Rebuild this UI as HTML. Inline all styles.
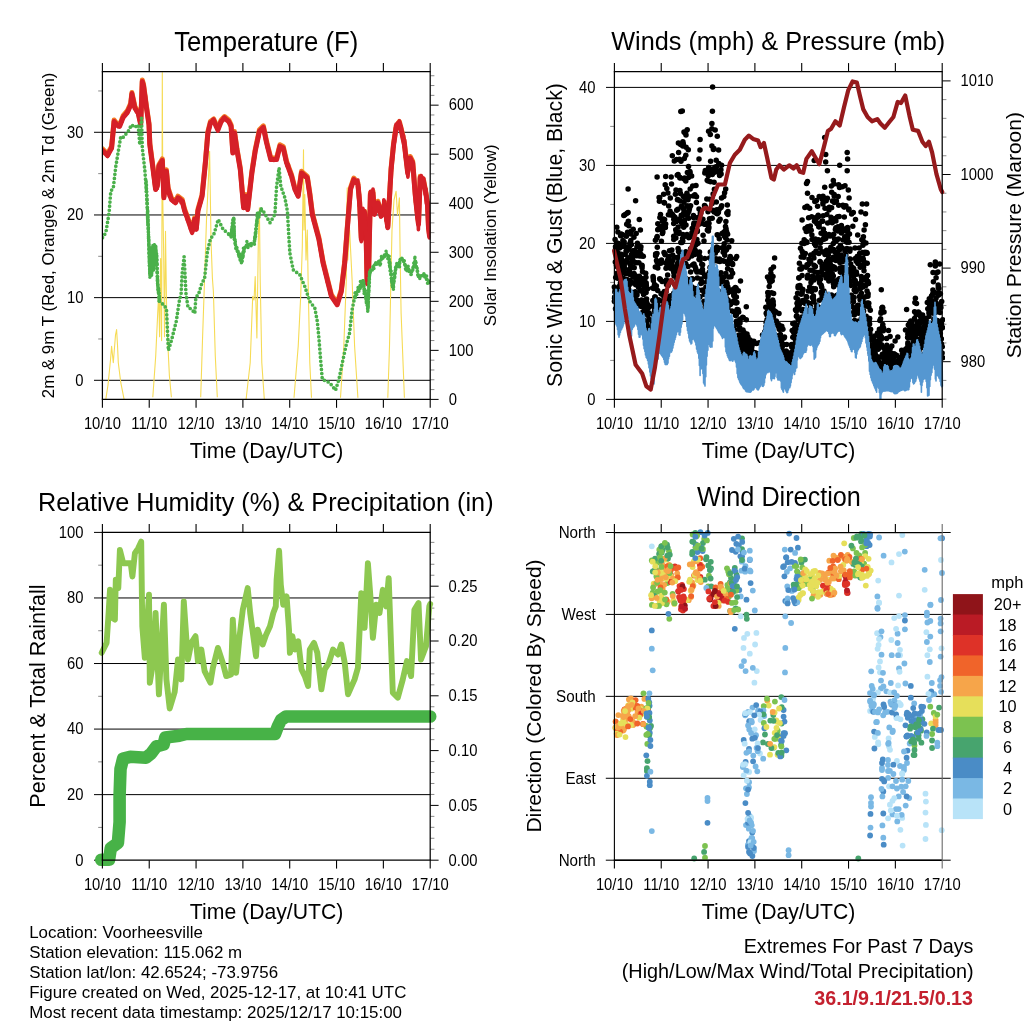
<!DOCTYPE html>
<html><head><meta charset="utf-8"><title>Weather Station</title><style>html,body{margin:0;padding:0;background:#fff;width:1024px;height:1024px;overflow:hidden}svg{display:block}</style></head><body>
<svg width="1024" height="1024" viewBox="0 0 1024 1024" font-family='"Liberation Sans", Arial, sans-serif'>
<rect width="1024" height="1024" fill="#fff"/>
<line x1="94.00" y1="380.30" x2="430.20" y2="380.30" stroke="#000" stroke-width="1.0"/>
<text transform="translate(83.40 385.60) scale(1 1.06)" font-size="14.8" text-anchor="end">0</text>
<line x1="94.00" y1="297.63" x2="430.20" y2="297.63" stroke="#000" stroke-width="1.0"/>
<text transform="translate(83.40 302.93) scale(1 1.06)" font-size="14.8" text-anchor="end">10</text>
<line x1="94.00" y1="214.96" x2="430.20" y2="214.96" stroke="#000" stroke-width="1.0"/>
<text transform="translate(83.40 220.26) scale(1 1.06)" font-size="14.8" text-anchor="end">20</text>
<line x1="94.00" y1="132.29" x2="430.20" y2="132.29" stroke="#000" stroke-width="1.0"/>
<text transform="translate(83.40 137.59) scale(1 1.06)" font-size="14.8" text-anchor="end">30</text>
<line x1="98.20" y1="338.97" x2="102.40" y2="338.97" stroke="#8a8a8a" stroke-width="1.0"/>
<line x1="98.20" y1="256.30" x2="102.40" y2="256.30" stroke="#8a8a8a" stroke-width="1.0"/>
<line x1="98.20" y1="173.63" x2="102.40" y2="173.63" stroke="#8a8a8a" stroke-width="1.0"/>
<line x1="98.20" y1="90.96" x2="102.40" y2="90.96" stroke="#8a8a8a" stroke-width="1.0"/>
<line x1="430.20" y1="399.40" x2="438.60" y2="399.40" stroke="#000" stroke-width="1.0"/>
<text transform="translate(448.80 404.70) scale(1 1.06)" font-size="14.8" text-anchor="start">0</text>
<line x1="430.20" y1="389.59" x2="434.40" y2="389.59" stroke="#8a8a8a" stroke-width="1.0"/>
<line x1="430.20" y1="379.78" x2="434.40" y2="379.78" stroke="#8a8a8a" stroke-width="1.0"/>
<line x1="430.20" y1="369.98" x2="434.40" y2="369.98" stroke="#8a8a8a" stroke-width="1.0"/>
<line x1="430.20" y1="360.17" x2="434.40" y2="360.17" stroke="#8a8a8a" stroke-width="1.0"/>
<line x1="430.20" y1="350.36" x2="438.60" y2="350.36" stroke="#000" stroke-width="1.0"/>
<text transform="translate(448.80 355.66) scale(1 1.06)" font-size="14.8" text-anchor="start">100</text>
<line x1="430.20" y1="340.55" x2="434.40" y2="340.55" stroke="#8a8a8a" stroke-width="1.0"/>
<line x1="430.20" y1="330.74" x2="434.40" y2="330.74" stroke="#8a8a8a" stroke-width="1.0"/>
<line x1="430.20" y1="320.94" x2="434.40" y2="320.94" stroke="#8a8a8a" stroke-width="1.0"/>
<line x1="430.20" y1="311.13" x2="434.40" y2="311.13" stroke="#8a8a8a" stroke-width="1.0"/>
<line x1="430.20" y1="301.32" x2="438.60" y2="301.32" stroke="#000" stroke-width="1.0"/>
<text transform="translate(448.80 306.62) scale(1 1.06)" font-size="14.8" text-anchor="start">200</text>
<line x1="430.20" y1="291.51" x2="434.40" y2="291.51" stroke="#8a8a8a" stroke-width="1.0"/>
<line x1="430.20" y1="281.70" x2="434.40" y2="281.70" stroke="#8a8a8a" stroke-width="1.0"/>
<line x1="430.20" y1="271.90" x2="434.40" y2="271.90" stroke="#8a8a8a" stroke-width="1.0"/>
<line x1="430.20" y1="262.09" x2="434.40" y2="262.09" stroke="#8a8a8a" stroke-width="1.0"/>
<line x1="430.20" y1="252.28" x2="438.60" y2="252.28" stroke="#000" stroke-width="1.0"/>
<text transform="translate(448.80 257.58) scale(1 1.06)" font-size="14.8" text-anchor="start">300</text>
<line x1="430.20" y1="242.47" x2="434.40" y2="242.47" stroke="#8a8a8a" stroke-width="1.0"/>
<line x1="430.20" y1="232.66" x2="434.40" y2="232.66" stroke="#8a8a8a" stroke-width="1.0"/>
<line x1="430.20" y1="222.86" x2="434.40" y2="222.86" stroke="#8a8a8a" stroke-width="1.0"/>
<line x1="430.20" y1="213.05" x2="434.40" y2="213.05" stroke="#8a8a8a" stroke-width="1.0"/>
<line x1="430.20" y1="203.24" x2="438.60" y2="203.24" stroke="#000" stroke-width="1.0"/>
<text transform="translate(448.80 208.54) scale(1 1.06)" font-size="14.8" text-anchor="start">400</text>
<line x1="430.20" y1="193.43" x2="434.40" y2="193.43" stroke="#8a8a8a" stroke-width="1.0"/>
<line x1="430.20" y1="183.62" x2="434.40" y2="183.62" stroke="#8a8a8a" stroke-width="1.0"/>
<line x1="430.20" y1="173.82" x2="434.40" y2="173.82" stroke="#8a8a8a" stroke-width="1.0"/>
<line x1="430.20" y1="164.01" x2="434.40" y2="164.01" stroke="#8a8a8a" stroke-width="1.0"/>
<line x1="430.20" y1="154.20" x2="438.60" y2="154.20" stroke="#000" stroke-width="1.0"/>
<text transform="translate(448.80 159.50) scale(1 1.06)" font-size="14.8" text-anchor="start">500</text>
<line x1="430.20" y1="144.39" x2="434.40" y2="144.39" stroke="#8a8a8a" stroke-width="1.0"/>
<line x1="430.20" y1="134.58" x2="434.40" y2="134.58" stroke="#8a8a8a" stroke-width="1.0"/>
<line x1="430.20" y1="124.78" x2="434.40" y2="124.78" stroke="#8a8a8a" stroke-width="1.0"/>
<line x1="430.20" y1="114.97" x2="434.40" y2="114.97" stroke="#8a8a8a" stroke-width="1.0"/>
<line x1="430.20" y1="105.16" x2="438.60" y2="105.16" stroke="#000" stroke-width="1.0"/>
<text transform="translate(448.80 110.46) scale(1 1.06)" font-size="14.8" text-anchor="start">600</text>
<line x1="430.20" y1="95.35" x2="434.40" y2="95.35" stroke="#8a8a8a" stroke-width="1.0"/>
<line x1="430.20" y1="85.54" x2="434.40" y2="85.54" stroke="#8a8a8a" stroke-width="1.0"/>
<line x1="430.20" y1="75.74" x2="434.40" y2="75.74" stroke="#8a8a8a" stroke-width="1.0"/>
<text transform="translate(54.00 235.40) rotate(-90)" font-size="16.9" text-anchor="middle">2m &amp; 9m T (Red, Orange) &amp; 2m Td (Green)</text>
<text transform="translate(496.40 235.30) rotate(-90)" font-size="17" text-anchor="middle">Solar Insolation (Yellow)</text>
<text transform="translate(266.20 50.60) scale(1 1.05)" font-size="25.5" text-anchor="middle" textLength="184.0" lengthAdjust="spacingAndGlyphs">Temperature (F)</text>
<defs><clipPath id="c1"><rect x="102.4" y="71.5" width="327.8" height="327.9"/></clipPath><clipPath id="c2"><rect x="614.4" y="71.5" width="327.8" height="327.9"/></clipPath><clipPath id="c2x"><rect x="600" y="71.5" width="345" height="327.9"/></clipPath><clipPath id="c3"><rect x="102.4" y="532.4" width="327.8" height="327.8"/></clipPath></defs>
<g clip-path="url(#c1)" fill="none" stroke-linejoin="round">
<polyline points="105.8,399.3 108.0,385.0 110.5,360.0 111.6,346.2 113.3,362.8 115.5,335.0 116.6,329.6 117.5,345.0 118.3,362.8 120.8,382.7 124.1,399.3" stroke="#F6DB55" stroke-width="1.1"/>
<polyline points="152.8,397.3 155.7,356.3 157.7,313.3 158.7,293.8 159.6,336.7 160.6,258.6 161.6,340.6 162.0,200.0 162.3,72.5 162.8,200.0 163.6,248.8 164.5,336.7 165.5,231.3 166.5,301.6 167.5,336.7 169.4,375.8 171.4,397.3" stroke="#F6DB55" stroke-width="1.1"/>
<polyline points="200.7,397.3 202.6,336.7 204.6,278.1 206.5,219.5 207.5,200.0 208.6,175.0 209.6,151.3 210.4,200.0 211.0,240.0 212.4,278.1 213.4,291.8 215.3,356.3 217.3,397.3" stroke="#F6DB55" stroke-width="1.1"/>
<polyline points="246.1,399.3 250.2,362.8 252.7,296.4 254.0,300.0 255.2,276.5 256.9,337.9 258.5,230.0 259.4,207.8 260.2,279.8 261.8,362.8 264.3,399.3" stroke="#F6DB55" stroke-width="1.1"/>
<polyline points="294.0,397.7 298.2,346.2 300.7,296.4 302.3,246.6 303.5,149.7 304.0,230.0 304.8,194.5 306.0,260.0 307.3,230.0 308.1,279.8 309.8,362.8 311.5,397.7" stroke="#F6DB55" stroke-width="1.1"/>
<polyline points="340.5,397.7 343.8,346.2 346.3,279.8 347.2,187.9 347.8,260.0 349.6,230.0 352.1,279.8 354.6,346.2 357.9,397.7" stroke="#F6DB55" stroke-width="1.1"/>
<polyline points="387.8,397.7 389.5,346.2 392.0,230.0 394.0,200.0 396.1,191.2 397.5,215.0 399.4,197.8 400.2,260.0 401.1,313.0 404.4,397.7" stroke="#F6DB55" stroke-width="1.1"/>
<polyline points="101.7,148.1 107.5,153.9 111.6,146.4 114.1,119.9 116.6,123.2 119.6,124.8 123.2,115.7 127.4,110.7 130.7,103.3 131.9,92.5 134.9,106.6 138.2,111.6 140.7,123.2 142.3,80.0 143.5,84.2 146.5,106.6 149.0,123.2 149.8,143.1 153.1,168.0 155.6,187.9 157.3,184.6 158.9,164.7 162.3,158.9 163.9,196.2 166.4,169.7 168.1,187.9 171.4,197.9 175.5,201.2 178.0,196.2 182.2,199.5 184.7,209.5 187.2,216.1 192.1,230.3 194.6,217.8 196.3,227.8 197.9,209.5 202.1,194.6 205.4,161.4 207.9,131.5 210.4,121.5 213.7,119.0 216.2,124.8 217.9,128.2 221.2,119.9 224.5,116.5 228.7,119.9 231.1,124.8 232.8,151.4 234.5,131.5 236.9,148.1 240.3,168.0 243.6,206.2 246.1,194.6 247.7,207.8 251.9,171.3 255.2,149.7 259.4,129.8 263.4,125.9 266.6,141.4 270.8,158.0 276.6,158.0 279.9,144.8 283.2,146.4 286.6,161.4 291.5,174.6 294.9,187.9 298.2,194.6 301.5,171.3 307.3,176.3 309.8,192.9 312.3,212.8 314.8,222.4 318.9,237.7 323.1,261.6 331.4,294.8 337.2,303.1 341.3,289.8 344.7,261.6 347.2,228.4 350.5,187.9 353.8,178.0 357.9,182.9 359.6,201.2 361.3,237.7 363.0,211.2 364.6,211.2 366.2,237.7 367.1,281.5 368.7,266.6 370.4,192.9 372.9,191.2 374.5,212.8 377.9,201.2 381.2,214.5 384.5,202.9 387.8,226.1 391.1,168.0 393.6,143.1 396.1,126.5 399.4,121.5 401.9,131.5 404.4,143.1 407.7,171.3 410.2,156.4 412.7,161.4 415.2,192.9 416.9,209.5 418.5,222.8 420.2,176.3 423.5,179.6 426.0,192.9 427.5,203.4 428.5,226.4 429.5,234.4 430.5,230.4" stroke="#F27A24" stroke-width="5"/>
<polyline points="101.7,149.7 107.5,155.5 111.6,148.0 114.1,121.5 116.6,124.8 119.6,126.4 123.2,117.3 127.4,112.3 130.7,104.9 131.9,94.1 134.9,108.2 138.2,113.2 140.7,124.8 142.3,81.6 143.5,85.8 146.5,108.2 149.0,124.8 149.8,144.7 153.1,169.6 155.6,189.5 157.3,186.2 158.9,166.3 162.3,160.5 163.9,197.8 166.4,171.3 168.1,189.5 171.4,199.5 175.5,202.8 178.0,197.8 182.2,201.1 184.7,211.1 187.2,217.7 192.1,231.9 194.6,219.4 196.3,229.4 197.9,211.1 202.1,196.2 205.4,163.0 207.9,133.1 210.4,123.1 213.7,120.6 216.2,126.4 217.9,129.8 221.2,121.5 224.5,118.1 228.7,121.5 231.1,126.4 232.8,153.0 234.5,133.1 236.9,149.7 240.3,169.6 243.6,207.8 246.1,196.2 247.7,209.4 251.9,172.9 255.2,151.3 259.4,131.4 263.4,127.5 266.6,143.0 270.8,159.6 276.6,159.6 279.9,146.4 283.2,148.0 286.6,163.0 291.5,176.2 294.9,189.5 298.2,196.2 301.5,172.9 307.3,177.9 309.8,194.5 312.3,214.4 314.8,224.0 318.9,239.3 323.1,263.2 331.4,296.4 337.2,304.7 341.3,291.4 344.7,263.2 347.2,230.0 350.5,189.5 353.8,179.6 357.9,184.5 359.6,202.8 361.3,239.3 363.0,212.8 364.6,212.8 366.2,239.3 367.1,283.1 368.7,268.2 370.4,194.5 372.9,192.8 374.5,214.4 377.9,202.8 381.2,216.1 384.5,204.5 387.8,227.7 391.1,169.6 393.6,144.7 396.1,128.1 399.4,123.1 401.9,133.1 404.4,144.7 407.7,172.9 410.2,158.0 412.7,163.0 415.2,194.5 416.9,211.1 418.5,224.4 420.2,177.9 423.5,181.2 426.0,194.5 427.5,205.0 428.5,228.0 429.5,236.0 430.5,232.0" stroke="#D52028" stroke-width="5"/>
<polyline points="101.7,149.5 102.7,151.1 103.6,151.4 104.6,152.3 105.6,152.7 106.5,154.3 107.5,156.5 108.1,154.8 108.7,154.3 109.3,152.5 109.8,151.6 110.4,150.3 111.0,147.6 111.6,148.8 111.7,147.3 111.8,146.0 111.9,142.9 112.1,141.6 112.2,141.2 112.3,140.4 112.4,139.8 112.5,138.3 112.6,137.6 112.7,135.4 112.8,135.0 113.0,133.9 113.1,131.7 113.2,132.7 113.3,130.4 113.4,129.8 113.5,127.0 113.6,125.7 113.8,124.8 113.9,123.8 114.0,123.3 114.1,121.7 114.9,122.2 115.8,122.8 116.6,124.3 118.1,126.7 119.6,125.7 120.0,125.5 120.5,124.5 121.0,121.6 121.4,121.9 121.8,121.9 122.3,117.8 122.8,118.1 123.2,117.2 124.0,115.6 124.9,115.7 125.7,114.2 126.6,112.0 127.4,113.0 128.0,111.7 128.5,110.7 129.1,109.9 129.6,107.7 130.1,106.2 130.7,103.7 130.8,104.3 131.0,101.9 131.1,100.9 131.2,99.0 131.4,98.0 131.5,97.2 131.6,97.7 131.8,93.5 131.9,92.8 132.2,95.5 132.4,97.7 132.7,98.1 132.9,97.1 133.2,97.7 133.4,101.5 133.7,101.7 133.9,102.5 134.2,105.6 134.4,106.8 134.7,107.2 134.9,108.4 135.7,109.8 136.6,112.1 137.4,112.5 138.2,113.7 138.5,115.0 138.8,114.4 139.0,118.2 139.3,119.2 139.6,120.1 139.9,119.2 140.1,121.2 140.4,124.9 140.7,121.9 140.7,123.3 140.8,124.0 140.8,119.1 140.9,122.6 140.9,119.7 141.0,117.4 141.0,116.9 141.1,116.2 141.1,114.2 141.1,114.6 141.2,110.5 141.2,109.7 141.3,110.9 141.3,108.0 141.4,105.4 141.4,107.1 141.5,106.7 141.5,102.5 141.5,99.8 141.6,100.6 141.6,99.4 141.7,97.9 141.7,99.4 141.8,94.4 141.8,96.8 141.9,91.6 141.9,91.1 141.9,92.2 142.0,91.8 142.0,90.2 142.1,88.2 142.1,86.6 142.2,85.4 142.2,84.9 142.3,82.5 142.3,82.0 142.7,83.9 143.1,84.4 143.5,87.0 143.7,87.9 143.8,91.5 144.0,90.1 144.2,90.1 144.3,91.4 144.5,93.2 144.7,96.0 144.8,95.2 145.0,97.6 145.2,101.2 145.3,95.4 145.5,98.9 145.7,102.4 145.8,103.9 146.0,104.8 146.2,105.0 146.3,108.0 146.5,108.7 146.7,108.6 146.9,114.6 147.1,112.6 147.3,112.4 147.5,114.4 147.7,115.5 147.8,117.0 148.0,114.1 148.2,118.9 148.4,122.6 148.6,120.4 148.8,123.4 149.0,126.3 149.1,127.4 149.1,129.7 149.2,125.8 149.2,129.2 149.2,130.5 149.3,133.3 149.3,135.3 149.4,130.5 149.5,137.7 149.5,134.9 149.6,139.6 149.6,137.3 149.7,141.3 149.7,144.1 149.8,143.2 149.8,145.0 150.0,147.2 150.1,147.4 150.3,148.3 150.5,152.1 150.6,152.6 150.8,151.7 151.0,157.8 151.1,152.8 151.3,157.4 151.4,156.7 151.6,158.6 151.8,160.8 151.9,161.2 152.1,163.2 152.3,160.9 152.4,162.2 152.6,166.8 152.8,165.6 152.9,166.7 153.1,167.2 153.3,172.9 153.4,173.3 153.6,175.7 153.7,173.1 153.9,175.8 154.0,175.2 154.2,179.5 154.3,182.1 154.5,179.4 154.7,184.5 154.8,184.9 155.0,184.2 155.1,182.6 155.3,189.3 155.4,188.1 155.6,188.5 156.2,189.0 156.7,188.0 157.3,188.6 157.4,183.3 157.5,185.5 157.6,184.8 157.7,183.5 157.8,179.7 157.9,177.5 158.0,179.1 158.1,176.4 158.2,175.2 158.3,176.0 158.4,172.1 158.5,167.6 158.6,169.4 158.7,165.8 158.8,168.9 158.9,166.8 159.6,164.2 160.3,164.0 160.9,164.2 161.6,161.8 162.3,162.6 162.4,161.6 162.4,164.6 162.5,166.5 162.5,167.9 162.6,165.4 162.6,169.1 162.7,165.9 162.7,168.4 162.8,168.2 162.8,174.2 162.9,171.8 162.9,174.9 163.0,175.8 163.0,177.3 163.1,177.6 163.1,180.1 163.2,183.8 163.2,182.2 163.3,184.2 163.3,186.2 163.4,185.5 163.4,185.0 163.5,187.3 163.5,191.1 163.6,187.9 163.6,190.8 163.7,194.6 163.7,195.5 163.8,195.4 163.8,197.9 163.9,198.1 164.0,194.7 164.1,192.9 164.2,193.2 164.4,194.5 164.5,190.9 164.6,189.1 164.7,188.1 164.8,185.7 164.9,186.8 165.0,183.9 165.2,185.1 165.3,179.6 165.4,182.7 165.5,179.9 165.6,176.6 165.7,179.7 165.8,176.9 165.9,172.6 166.1,173.5 166.2,174.2 166.3,171.8 166.4,172.5 166.5,173.7 166.6,174.8 166.7,175.5 166.9,178.3 167.0,178.4 167.1,179.3 167.2,176.5 167.3,182.4 167.4,184.3 167.5,183.0 167.6,183.9 167.8,189.0 167.9,184.3 168.0,189.0 168.1,193.4 168.5,189.3 168.9,193.1 169.3,196.3 169.8,194.3 170.2,196.3 170.6,197.8 171.0,197.4 171.4,199.4 172.4,200.6 173.4,201.9 174.5,201.9 175.5,202.6 176.1,200.6 176.8,200.0 177.4,199.9 178.0,197.9 179.1,197.9 180.1,198.7 181.1,202.7 182.2,202.1 182.5,202.9 182.8,201.3 183.1,205.4 183.4,206.5 183.8,208.9 184.1,209.0 184.4,209.8 184.7,211.6 185.2,210.7 185.7,214.7 186.2,215.4 186.7,215.7 187.2,218.9 187.6,220.5 188.0,218.8 188.4,220.7 188.8,222.7 189.2,223.8 189.6,224.4 190.1,225.1 190.5,229.1 190.9,229.3 191.3,228.5 191.7,229.5 192.1,233.4 192.3,231.5 192.6,231.0 192.8,228.9 193.1,226.1 193.3,225.9 193.6,222.5 193.8,222.5 194.1,221.8 194.3,221.1 194.6,218.7 194.8,220.5 195.0,222.3 195.2,223.5 195.4,225.0 195.7,225.8 195.9,226.6 196.1,228.9 196.3,229.4 196.4,227.4 196.5,226.4 196.6,225.7 196.7,224.4 196.8,223.4 196.9,222.1 197.0,221.0 197.2,219.5 197.3,217.3 197.4,217.6 197.5,216.9 197.6,215.2 197.7,213.4 197.8,212.7 197.9,210.2 198.2,208.2 198.6,208.7 198.9,206.5 199.3,206.8 199.7,203.9 200.0,201.3 200.3,201.5 200.7,202.6 201.1,199.6 201.4,197.5 201.8,196.8 202.1,196.7 202.2,195.4 202.3,193.9 202.5,193.8 202.6,191.9 202.7,190.0 202.8,189.4 203.0,189.1 203.1,187.2 203.2,186.1 203.3,182.9 203.4,182.5 203.6,182.1 203.7,179.9 203.8,179.9 203.9,178.3 204.1,177.3 204.2,175.1 204.3,176.4 204.4,174.0 204.5,171.4 204.7,170.5 204.8,171.5 204.9,167.6 205.0,167.5 205.2,166.3 205.3,164.2 205.4,161.9 205.5,162.0 205.6,160.9 205.7,160.4 205.8,158.9 205.9,157.0 206.0,156.6 206.1,155.1 206.2,153.6 206.3,152.3 206.4,150.8 206.5,150.5 206.6,147.7 206.7,146.9 206.8,146.3 206.9,143.7 207.0,143.5 207.1,140.9 207.2,140.9 207.3,140.8 207.4,139.6 207.5,137.8 207.6,136.5 207.7,134.2 207.8,135.9 207.9,133.6 208.2,132.8 208.5,129.8 208.8,129.2 209.2,126.5 209.5,127.6 209.8,126.4 210.1,122.6 210.4,123.1 211.5,122.8 212.6,119.8 213.7,119.0 214.2,120.8 214.7,122.4 215.2,122.8 215.7,125.3 216.2,126.6 216.8,128.1 217.3,129.3 217.9,131.2 218.4,129.7 218.8,126.2 219.3,125.8 219.8,124.1 220.3,122.9 220.7,122.6 221.2,121.5 222.3,120.8 223.4,117.8 224.5,117.0 225.6,118.9 226.6,119.6 227.6,120.4 228.7,121.4 229.3,122.0 229.9,124.6 230.5,125.5 231.1,126.3 231.2,127.0 231.3,128.7 231.3,127.6 231.4,130.4 231.5,132.5 231.6,132.3 231.6,135.0 231.7,136.2 231.8,136.0 231.9,138.3 231.9,139.4 232.0,141.3 232.1,142.7 232.2,143.3 232.3,143.8 232.3,145.6 232.4,146.9 232.5,148.8 232.6,149.6 232.6,149.9 232.7,150.6 232.8,152.7 232.9,151.1 233.0,149.5 233.1,149.2 233.2,147.6 233.3,146.9 233.4,146.0 233.5,143.9 233.7,145.1 233.8,141.5 233.9,141.6 234.0,139.4 234.1,139.1 234.2,134.7 234.3,134.9 234.4,134.6 234.5,133.6 234.7,136.5 234.9,135.9 235.1,138.1 235.2,138.9 235.4,140.3 235.6,141.2 235.8,141.9 236.0,143.8 236.2,143.6 236.3,146.9 236.5,146.2 236.7,148.6 236.9,151.6 237.1,150.7 237.3,152.2 237.5,154.5 237.8,154.7 238.0,155.2 238.2,157.4 238.4,158.9 238.6,160.3 238.8,160.2 239.0,163.7 239.2,164.9 239.5,164.6 239.7,166.1 239.9,166.7 240.1,169.6 240.3,169.0 240.4,171.4 240.5,171.6 240.6,172.7 240.7,175.2 240.8,177.0 240.9,177.0 241.0,177.6 241.2,180.2 241.3,180.6 241.4,182.2 241.5,184.5 241.6,185.4 241.7,185.2 241.8,188.9 241.9,188.1 242.0,190.0 242.1,190.0 242.2,191.7 242.3,191.4 242.4,195.9 242.5,196.7 242.6,195.6 242.7,196.6 242.9,197.7 243.0,201.5 243.1,201.2 243.2,202.8 243.3,203.8 243.4,205.2 243.5,205.6 243.6,207.8 243.9,205.2 244.2,205.2 244.4,204.2 244.7,203.1 245.0,201.1 245.3,199.3 245.5,198.9 245.8,197.1 246.1,197.6 246.2,198.1 246.4,198.5 246.5,199.4 246.7,200.4 246.8,201.4 247.0,203.1 247.1,204.9 247.3,206.3 247.4,207.5 247.6,210.1 247.7,208.8 247.8,208.2 248.0,209.5 248.1,204.1 248.3,204.1 248.4,203.5 248.5,202.2 248.7,201.3 248.8,199.5 249.0,198.8 249.1,197.3 249.2,196.7 249.4,193.1 249.5,192.8 249.7,192.4 249.8,190.2 249.9,189.0 250.1,189.3 250.2,186.9 250.4,186.9 250.5,185.7 250.6,184.1 250.8,183.1 250.9,181.3 251.1,178.9 251.2,179.0 251.3,178.2 251.5,176.1 251.6,175.2 251.8,174.8 251.9,172.1 252.1,172.3 252.3,172.2 252.4,168.8 252.6,168.2 252.8,166.8 253.0,167.1 253.2,164.8 253.4,164.1 253.6,161.5 253.7,160.9 253.9,159.7 254.1,156.9 254.3,158.6 254.5,156.9 254.6,153.3 254.8,154.4 255.0,152.4 255.2,151.7 255.5,150.4 255.7,147.5 256.0,147.4 256.2,147.7 256.5,144.6 256.8,142.9 257.0,141.4 257.3,140.3 257.6,140.4 257.8,140.4 258.1,138.0 258.3,136.6 258.6,137.1 258.9,133.4 259.1,132.0 259.4,131.9 260.4,130.9 261.4,128.5 262.4,127.4 263.4,127.8 263.6,128.9 263.9,128.7 264.1,130.9 264.4,131.8 264.6,133.9 264.9,134.5 265.1,135.8 265.4,136.7 265.6,139.2 265.9,140.7 266.1,140.3 266.4,142.6 266.6,142.3 266.9,144.3 267.2,146.0 267.5,147.9 267.8,147.4 268.1,148.9 268.4,150.3 268.7,150.0 269.0,152.5 269.3,153.1 269.6,155.2 269.9,155.0 270.2,155.4 270.5,158.4 270.8,159.8 272.2,159.1 273.7,160.4 275.2,159.4 276.6,159.1 276.9,158.8 277.2,155.8 277.5,155.4 277.8,154.8 278.1,154.4 278.4,152.3 278.7,151.5 279.0,149.4 279.3,149.1 279.6,149.1 279.9,145.8 281.0,149.1 282.1,146.9 283.2,148.0 283.5,149.4 283.8,151.4 284.1,150.6 284.3,151.1 284.6,154.8 284.9,156.2 285.2,157.3 285.5,160.4 285.8,159.4 286.0,160.7 286.3,162.6 286.6,163.3 287.0,165.7 287.5,164.3 287.9,166.3 288.4,164.7 288.8,169.7 289.3,169.9 289.7,172.2 290.2,174.5 290.6,173.8 291.1,174.8 291.5,175.8 291.8,176.7 292.1,178.1 292.4,180.4 292.7,181.1 293.0,182.3 293.4,183.3 293.7,185.5 294.0,186.3 294.3,187.0 294.6,188.9 294.9,189.4 295.4,189.6 296.0,193.0 296.5,193.3 297.1,193.1 297.6,196.1 298.2,196.5 298.4,193.6 298.5,195.2 298.7,192.8 298.9,192.1 299.1,190.2 299.2,188.7 299.4,186.2 299.6,187.3 299.8,185.2 299.9,183.7 300.1,183.0 300.3,181.6 300.5,180.9 300.6,178.7 300.8,177.8 301.0,174.7 301.2,175.0 301.3,174.7 301.5,174.1 302.5,173.4 303.4,174.5 304.4,176.8 305.4,175.9 306.3,177.7 307.3,179.4 307.5,179.2 307.7,181.6 307.9,181.1 308.1,183.2 308.3,184.2 308.5,185.7 308.6,187.9 308.8,190.3 309.0,188.8 309.2,190.2 309.4,192.4 309.6,192.3 309.8,194.9 310.0,196.3 310.1,196.7 310.3,198.7 310.4,198.1 310.6,201.4 310.7,200.6 310.9,202.6 311.1,203.9 311.2,205.3 311.4,207.7 311.5,208.3 311.7,209.1 311.8,211.2 312.0,213.3 312.1,213.2 312.3,214.7 312.6,216.7 312.9,217.0 313.2,216.8 313.6,221.4 313.9,222.4 314.2,219.8 314.5,222.8 314.8,224.4 315.1,226.0 315.4,227.0 315.7,227.3 316.1,227.8 316.4,230.0 316.7,232.0 317.0,231.3 317.3,232.5 317.6,234.6 318.0,234.0 318.3,236.7 318.6,237.7 318.9,239.7 319.1,239.9 319.3,240.9 319.5,242.5 319.7,244.0 319.9,244.7 320.2,246.5 320.4,248.3 320.6,249.9 320.8,251.6 321.0,250.5 321.2,252.1 321.4,251.4 321.6,256.5 321.8,255.4 322.1,257.2 322.3,258.9 322.5,258.4 322.7,261.2 322.9,262.0 323.1,261.6 323.4,264.6 323.7,266.6 324.0,265.1 324.3,268.7 324.6,269.3 324.9,270.7 325.2,271.9 325.5,273.9 325.8,273.7 326.1,275.8 326.4,275.9 326.7,278.1 327.0,277.9 327.2,279.7 327.5,282.5 327.8,282.6 328.1,283.2 328.4,283.5 328.7,285.0 329.0,287.1 329.3,288.9 329.6,289.7 329.9,290.9 330.2,291.6 330.5,294.1 330.8,293.7 331.1,294.7 331.4,297.2 332.1,297.5 332.8,298.2 333.6,299.0 334.3,300.3 335.0,302.1 335.8,302.9 336.5,302.6 337.2,305.1 337.6,303.7 337.9,301.4 338.3,301.8 338.7,299.6 339.1,298.4 339.4,298.2 339.8,297.4 340.2,294.4 340.6,294.2 340.9,291.8 341.3,293.5 341.4,289.7 341.6,290.0 341.7,287.1 341.9,287.2 342.0,287.3 342.2,281.8 342.3,282.4 342.5,282.0 342.6,280.3 342.8,278.5 342.9,279.8 343.1,276.8 343.2,274.0 343.4,275.0 343.5,271.5 343.7,272.8 343.8,270.0 344.0,269.5 344.1,269.2 344.3,267.0 344.4,264.4 344.6,262.9 344.7,264.3 344.8,262.6 344.9,260.0 345.0,260.3 345.1,258.7 345.2,257.6 345.3,253.8 345.3,254.3 345.4,254.2 345.5,252.8 345.6,251.7 345.7,247.5 345.8,248.6 345.9,247.7 346.0,248.3 346.1,243.9 346.2,243.2 346.3,242.3 346.4,241.9 346.5,239.4 346.6,239.6 346.6,236.7 346.7,236.4 346.8,234.4 346.9,233.8 347.0,231.8 347.1,229.8 347.2,231.0 347.3,229.0 347.4,227.0 347.5,226.5 347.6,226.0 347.7,223.0 347.8,222.5 347.9,221.9 348.0,220.7 348.1,218.7 348.2,215.8 348.3,217.6 348.4,215.6 348.5,214.1 348.6,212.6 348.7,211.8 348.8,210.0 348.9,208.2 349.0,207.2 349.1,206.1 349.2,204.9 349.3,203.2 349.4,203.6 349.5,200.6 349.6,201.1 349.7,198.4 349.8,198.4 349.9,198.1 350.0,195.8 350.1,193.8 350.2,193.2 350.3,192.1 350.4,189.2 350.5,189.0 350.9,188.4 351.3,186.6 351.7,185.9 352.1,185.2 352.6,184.0 353.0,182.9 353.4,181.4 353.8,179.3 354.6,180.6 355.4,180.9 356.3,181.7 357.1,183.1 357.9,180.0 358.0,184.9 358.1,186.9 358.2,185.6 358.4,189.3 358.5,191.9 358.6,191.4 358.7,198.4 358.8,187.5 358.9,194.9 359.0,192.0 359.1,200.5 359.3,206.0 359.4,193.9 359.5,201.9 359.6,204.1 359.7,203.2 359.7,206.7 359.8,200.6 359.8,209.9 359.9,209.9 359.9,210.2 360.0,209.8 360.1,214.2 360.1,212.5 360.2,215.5 360.2,214.9 360.3,211.6 360.3,218.5 360.4,220.4 360.5,223.0 360.5,220.0 360.6,223.4 360.6,226.3 360.7,226.3 360.7,230.4 360.8,233.5 360.8,227.2 360.9,225.8 361.0,234.2 361.0,237.2 361.1,236.8 361.1,237.8 361.2,235.3 361.2,236.2 361.3,241.6 361.4,235.7 361.5,232.2 361.5,233.1 361.6,241.0 361.7,238.3 361.8,230.3 361.8,229.0 361.9,230.3 362.0,226.5 362.1,230.7 362.1,225.8 362.2,222.0 362.3,227.0 362.4,220.9 362.5,221.8 362.5,220.0 362.6,218.0 362.7,218.5 362.8,214.6 362.8,210.4 362.9,208.3 363.0,209.5 364.6,210.8 364.7,213.9 364.7,215.4 364.8,217.9 364.9,217.9 365.0,216.8 365.0,218.2 365.1,215.7 365.2,222.0 365.3,224.9 365.3,226.2 365.4,225.7 365.5,226.8 365.5,230.9 365.6,229.7 365.7,232.8 365.8,233.6 365.8,233.8 365.9,237.9 366.0,234.2 366.1,236.0 366.1,236.0 366.2,237.2 366.2,244.6 366.2,246.3 366.3,243.0 366.3,245.6 366.3,248.4 366.4,248.7 366.4,251.0 366.4,245.7 366.4,248.6 366.4,252.6 366.5,256.4 366.5,254.2 366.5,252.9 366.6,255.4 366.6,255.8 366.6,256.5 366.6,263.9 366.6,259.6 366.7,262.5 366.7,269.3 366.7,267.9 366.8,266.9 366.8,265.7 366.8,269.6 366.8,273.9 366.9,272.6 366.9,275.4 366.9,273.6 366.9,275.9 367.0,275.3 367.0,278.1 367.0,281.6 367.0,275.7 367.1,280.5 367.1,282.5 367.1,281.6 367.2,281.1 367.4,282.7 367.5,284.6 367.6,279.8 367.8,277.7 367.9,271.6 368.0,279.4 368.2,273.4 368.3,271.8 368.4,267.8 368.6,269.3 368.7,265.4 368.7,267.2 368.8,267.0 368.8,264.7 368.8,264.1 368.8,259.9 368.9,264.7 368.9,258.0 368.9,253.8 369.0,256.8 369.0,254.1 369.0,252.3 369.0,252.8 369.1,253.3 369.1,248.2 369.1,249.7 369.1,252.6 369.2,249.4 369.2,246.1 369.2,245.6 369.3,243.7 369.3,242.7 369.3,243.5 369.3,240.2 369.4,233.0 369.4,237.9 369.4,234.5 369.5,237.3 369.5,232.8 369.5,233.5 369.5,237.6 369.6,228.0 369.6,226.6 369.6,224.7 369.6,220.9 369.7,221.0 369.7,225.7 369.7,221.8 369.8,217.4 369.8,217.2 369.8,221.5 369.8,216.6 369.9,216.5 369.9,217.1 369.9,218.6 370.0,218.9 370.0,215.3 370.0,211.8 370.0,210.7 370.1,213.7 370.1,211.5 370.1,205.8 370.1,206.6 370.2,204.9 370.2,203.1 370.2,200.4 370.3,197.1 370.3,197.9 370.3,194.1 370.3,200.1 370.4,197.1 370.4,191.4 371.6,197.3 372.9,195.1 373.0,189.0 373.1,200.0 373.2,198.5 373.3,203.0 373.3,195.6 373.4,201.4 373.5,202.3 373.6,202.9 373.7,204.0 373.8,207.5 373.9,202.1 374.0,204.0 374.1,204.8 374.1,208.2 374.2,209.2 374.3,213.0 374.4,213.9 374.5,214.5 374.8,211.5 375.2,210.9 375.5,213.4 375.9,211.7 376.2,208.9 376.5,206.6 376.9,210.3 377.2,203.6 377.6,205.6 377.9,205.8 378.2,203.3 378.5,207.4 378.8,203.5 379.1,210.3 379.4,209.4 379.7,205.9 380.0,213.0 380.3,210.2 380.6,217.0 380.9,213.1 381.2,215.7 381.5,215.7 381.9,212.9 382.2,213.3 382.5,210.0 382.9,212.0 383.2,209.2 383.5,208.5 383.8,199.7 384.2,208.7 384.5,204.6 384.7,201.1 384.8,207.2 385.0,209.4 385.2,212.2 385.4,207.8 385.5,215.8 385.7,212.6 385.9,220.5 386.1,215.1 386.2,218.5 386.4,217.0 386.6,216.3 386.8,223.2 386.9,224.0 387.1,226.8 387.3,226.3 387.5,223.8 387.6,222.2 387.8,226.0 387.9,224.7 387.9,223.2 388.0,225.6 388.1,223.7 388.1,220.9 388.2,220.9 388.3,218.8 388.4,218.6 388.4,218.8 388.5,218.1 388.6,212.6 388.6,209.3 388.7,215.7 388.8,211.1 388.8,212.4 388.9,204.1 389.0,206.3 389.0,206.0 389.1,201.0 389.2,202.2 389.2,204.2 389.3,203.9 389.4,204.0 389.5,196.4 389.5,193.8 389.6,197.6 389.7,197.5 389.7,194.3 389.8,189.2 389.9,193.4 389.9,192.2 390.0,190.4 390.1,186.5 390.1,187.3 390.2,187.4 390.3,182.7 390.3,178.1 390.4,182.6 390.5,181.7 390.6,179.3 390.6,180.4 390.7,175.3 390.8,175.4 390.8,173.6 390.9,174.7 391.0,176.2 391.0,170.2 391.1,174.9 391.2,172.3 391.4,169.2 391.5,167.4 391.6,169.2 391.7,162.9 391.9,161.8 392.0,158.1 392.1,160.9 392.2,161.9 392.4,158.5 392.5,157.0 392.6,154.1 392.7,153.9 392.9,148.5 393.0,153.7 393.1,148.6 393.2,145.6 393.4,145.2 393.5,143.8 393.6,146.9 393.8,146.2 394.0,138.6 394.2,143.3 394.4,141.9 394.6,136.8 394.8,133.2 394.9,133.8 395.1,132.8 395.3,134.1 395.5,131.0 395.7,125.4 395.9,130.0 396.1,124.1 396.9,129.2 397.8,122.5 398.6,122.5 399.4,120.9 399.7,122.9 400.0,129.0 400.3,129.1 400.6,129.7 401.0,130.2 401.3,126.6 401.6,130.5 401.9,131.7 402.2,131.8 402.5,137.0 402.7,135.0 403.0,136.4 403.3,136.8 403.6,135.5 403.8,143.7 404.1,146.9 404.4,145.2 404.5,143.4 404.7,140.1 404.8,148.8 405.0,152.8 405.1,151.6 405.3,154.5 405.4,157.1 405.5,157.4 405.7,154.6 405.8,159.7 406.0,160.2 406.1,155.4 406.3,159.6 406.4,158.2 406.6,162.8 406.7,165.8 406.8,162.8 407.0,161.4 407.1,171.4 407.3,170.2 407.4,174.3 407.6,168.2 407.7,175.7 407.9,177.1 408.1,175.6 408.3,168.6 408.5,168.6 408.7,166.3 408.9,168.0 409.2,166.9 409.4,163.2 409.6,158.2 409.8,162.4 410.0,158.0 410.2,159.6 410.8,159.9 411.4,164.7 412.1,164.7 412.7,161.8 412.8,165.1 412.9,170.0 413.0,165.2 413.1,169.0 413.2,172.2 413.3,173.5 413.4,172.8 413.5,169.3 413.6,170.6 413.7,175.8 413.8,177.3 413.9,184.2 413.9,176.5 414.0,182.9 414.1,183.2 414.2,178.0 414.3,181.5 414.4,185.2 414.5,184.7 414.6,186.8 414.7,189.7 414.8,187.5 414.9,192.1 415.0,190.4 415.1,191.9 415.2,195.9 415.3,194.3 415.5,197.8 415.6,202.5 415.7,199.7 415.9,200.5 416.0,204.1 416.1,202.5 416.2,207.5 416.4,202.7 416.5,208.9 416.6,207.2 416.8,207.7 416.9,215.7 417.0,210.1 417.2,218.1 417.3,216.4 417.5,219.7 417.6,214.6 417.8,221.5 417.9,223.4 418.1,220.5 418.2,221.6 418.4,229.6 418.5,224.9 418.5,222.1 418.6,220.3 418.6,221.9 418.7,220.4 418.7,218.7 418.8,221.5 418.8,215.0 418.9,215.8 418.9,217.2 418.9,209.6 419.0,213.6 419.0,214.5 419.1,205.0 419.1,204.4 419.2,203.3 419.2,200.0 419.3,204.8 419.3,197.5 419.4,202.4 419.4,203.7 419.4,194.5 419.5,196.7 419.5,191.3 419.6,197.1 419.6,191.9 419.7,191.9 419.7,191.5 419.8,191.6 419.8,188.0 419.8,187.7 419.9,185.0 419.9,185.5 420.0,181.0 420.0,183.0 420.1,176.5 420.1,179.1 420.2,184.1 420.2,178.1 421.3,175.7 422.4,180.8 423.5,178.7 423.7,178.1 424.0,181.7 424.2,186.7 424.4,187.0 424.6,187.0 424.9,186.0 425.1,186.9 425.3,194.4 425.5,192.7 425.8,190.8 426.0,189.0 426.2,192.3 426.4,203.6 426.6,195.5 426.8,199.6 426.9,201.6 427.1,202.0 427.3,203.0 427.5,201.4 427.6,203.5 427.6,211.8 427.7,206.7 427.7,212.0 427.8,206.6 427.8,211.6 427.9,214.2 427.9,217.4 428.0,213.0 428.0,218.7 428.1,219.3 428.1,217.6 428.2,222.0 428.2,219.6 428.3,221.1 428.3,224.3 428.4,218.5 428.4,226.5 428.5,225.4 428.7,225.5 428.8,229.6 429.0,234.0 429.2,232.3 429.3,238.0 429.5,233.0 429.8,231.3 430.2,237.4 430.5,233.0" stroke="#D52028" stroke-width="3.6"/>
<polyline points="102.5,237.7 105.8,232.7 109.1,212.8 110.8,191.2 113.3,187.9 115.8,166.3 118.3,151.3 120.8,136.4 123.2,137.2 128.2,131.4 131.5,124.8 134.9,127.3 138.2,124.8 139.8,144.7 141.5,118.1 142.3,148.0 144.8,169.6 147.0,200.0 147.9,219.5 148.9,244.9 149.9,274.2 150.8,250.0 151.6,272.0 152.8,246.9 153.6,268.0 154.5,248.0 155.7,246.9 156.3,262.0 156.7,258.6 157.7,284.0 159.6,301.6 164.5,305.5 166.5,309.4 168.4,350.4 171.4,340.6 176.3,321.1 179.2,301.6 181.1,293.8 182.1,274.2 184.1,256.6 185.0,274.2 186.0,293.8 188.0,307.4 191.9,309.4 194.8,313.3 195.8,297.7 198.7,293.8 201.6,284.0 204.6,278.1 207.5,250.8 210.4,239.1 214.3,233.2 218.2,219.5 223.1,229.3 231.1,236.0 233.6,216.9 234.5,241.6 237.8,251.6 241.1,261.5 244.4,248.3 249.4,244.9 254.4,241.6 257.7,214.4 261.8,209.4 263.3,211.1 270.0,222.7 274.9,214.4 276.6,186.2 279.1,167.9 280.8,186.2 284.9,197.8 287.4,211.1 289.0,239.3 289.9,253.2 293.2,269.8 299.8,274.8 304.8,286.4 309.8,301.4 314.8,308.0 317.3,321.3 318.9,337.9 320.6,359.5 322.3,379.4 329.7,382.7 335.5,390.2 338.9,379.4 343.0,359.5 346.3,344.5 349.6,332.9 352.1,309.7 355.5,293.1 359.6,288.1 362.9,279.8 366.2,299.7 367.9,308.0 369.6,271.5 374.5,264.9 379.5,260.7 386.2,253.2 389.5,263.2 392.8,288.1 396.1,266.5 402.8,258.2 406.1,268.2 411.1,273.2 415.2,261.5 418.5,276.5 424.3,274.8 428.5,283.1 430.5,285.0" stroke="#4AB04A" stroke-width="3.7" stroke-dasharray="0 4.1" stroke-linecap="round"/>
<polyline points="146.0,180.7 146.1,180.8 146.2,179.6 146.3,192.0 146.3,191.6 146.4,192.2 146.5,183.4 146.6,192.4 146.6,191.9 146.7,190.3 146.8,193.3 146.9,200.8 146.9,201.2 147.0,199.9 147.0,203.1 147.1,199.6 147.1,203.4 147.2,204.3 147.2,207.3 147.3,205.9 147.3,206.6 147.4,207.7 147.4,206.7 147.5,219.2 147.5,213.3 147.6,214.0 147.6,222.5 147.7,220.0 147.7,209.2 147.8,219.2 147.8,220.8 147.9,226.0 147.9,224.8 147.9,223.6 148.0,216.8 148.0,219.1 148.1,224.6 148.1,226.6 148.1,221.5 148.2,225.1 148.2,226.0 148.3,228.9 148.3,231.0 148.3,229.5 148.4,226.7 148.4,237.7 148.5,240.1 148.5,234.3 148.5,239.9 148.6,238.5 148.6,240.4 148.7,240.7 148.7,236.8 148.7,243.1 148.8,245.9 148.8,239.3 148.9,251.7 148.9,253.3 148.9,253.2 149.0,254.9 149.0,250.9 149.0,247.6 149.1,247.6 149.1,247.7 149.1,252.4 149.2,252.9 149.2,256.7 149.2,246.9 149.3,265.3 149.3,266.1 149.3,257.9 149.4,261.7 149.4,262.0 149.5,262.2 149.5,261.2 149.5,262.6 149.6,260.8 149.6,265.8 149.6,266.0 149.7,268.4 149.7,264.7 149.7,269.3 149.8,270.3 149.8,273.6 149.8,267.9 149.9,274.9 149.9,278.1 149.9,275.6 150.0,270.7 150.0,269.2 150.1,269.2 150.1,272.1 150.1,274.4 150.2,266.5 150.2,263.6 150.2,266.6 150.3,264.9 150.3,259.5 150.4,259.2 150.4,260.7 150.4,262.8 150.5,254.3 150.5,254.0 150.5,259.1 150.6,251.2 150.6,255.5 150.7,255.4 150.7,252.6 150.7,247.9 150.8,250.8 150.8,248.7 150.8,252.3 150.9,248.6 150.9,257.4 150.9,247.3 151.0,254.3 151.0,256.0 151.1,260.8 151.1,255.6 151.1,261.2 151.2,257.7 151.2,264.0 151.2,268.9 151.3,261.4 151.3,265.8 151.3,261.3 151.4,269.9 151.4,271.8 151.5,268.1 151.5,264.5 151.5,271.6 151.6,275.6 151.6,276.4 151.6,274.2 151.7,262.7 151.7,266.3 151.8,273.7 151.8,262.1 151.9,270.5 151.9,272.5 152.0,267.0 152.0,267.4 152.1,260.6 152.1,256.1 152.2,259.5 152.2,258.2 152.3,257.8 152.3,259.7 152.4,255.4 152.4,255.7 152.5,255.6 152.5,252.9 152.6,259.3 152.6,252.7 152.7,250.3 152.7,248.1 152.8,245.4 152.8,252.3 152.8,248.5 152.9,244.6 152.9,247.7 153.0,250.4 153.0,250.1 153.0,257.3 153.1,249.3 153.1,256.9 153.1,256.5 153.2,252.2 153.2,258.1 153.3,258.6 153.3,262.0 153.3,259.2 153.4,263.2 153.4,256.3 153.4,259.6 153.5,268.1 153.5,270.2 153.6,266.9 153.6,265.6 153.6,271.3 153.7,257.6 153.7,261.8 153.8,266.7 153.8,265.6 153.9,257.9 153.9,253.5 154.0,265.8 154.0,259.6 154.1,254.4 154.1,257.2 154.1,259.6 154.2,244.6 154.2,258.4 154.3,256.0 154.3,243.7 154.4,254.1 154.4,242.9 154.5,253.6 154.5,249.6 155.7,255.9 155.7,245.5 155.8,248.9 155.8,254.1 155.9,248.4 155.9,249.1 155.9,251.5 156.0,253.7 156.0,250.6 156.1,257.9 156.1,259.1 156.1,258.3 156.2,265.8 156.2,258.7 156.3,266.2 156.3,259.8 156.4,263.9 156.6,252.0 156.7,259.4 156.7,258.9 156.8,258.7 156.8,259.2 156.9,261.3 156.9,260.8 156.9,255.9 157.0,263.3 157.0,264.5 157.1,265.6 157.1,264.5 157.1,269.2 157.2,273.9 157.2,270.8 157.3,270.9 157.3,279.3 157.3,278.8 157.4,279.6 157.4,281.5 157.5,276.6 157.5,278.4 157.5,284.4 157.6,278.7 157.6,281.5 157.7,284.5 157.7,285.5 157.8,283.9 157.9,290.0 158.0,286.4 158.1,291.0 158.3,293.5 158.4,292.8 158.5,294.2 158.6,287.6 158.7,288.1 158.8,291.9 158.9,297.3 159.0,302.4 159.2,292.6 159.3,299.7 159.4,296.1 159.5,297.6 159.6,300.5" stroke="#4AB04A" stroke-width="3.5" stroke-dasharray="0 3.6" stroke-linecap="round"/>
<polyline points="228.7,234.6 229.5,233.5 230.3,234.0 231.1,237.9 231.2,231.9 231.4,233.5 231.5,230.9 231.6,228.1 231.8,232.7 231.9,229.9 232.0,229.1 232.2,230.4 232.3,222.8 232.4,225.8 232.5,225.8 232.7,226.3 232.8,219.9 232.9,223.9 233.1,221.5 233.2,223.7 233.3,222.1 233.5,219.4 233.6,222.9 233.6,217.9 233.7,217.8 233.7,219.0 233.8,218.4 233.8,222.0 233.8,217.8 233.9,223.9 233.9,226.3 233.9,228.9 234.0,226.2 234.0,232.1 234.1,227.4 234.1,229.9 234.1,226.1 234.2,230.2 234.2,231.2 234.2,238.5 234.3,236.9 234.3,233.4 234.3,238.9 234.4,239.8 234.4,238.9 234.5,240.6 234.5,240.8 234.8,241.1 235.2,238.8 235.5,244.4 235.8,249.1 236.2,250.5 236.5,246.8 236.8,246.6 237.1,249.0 237.5,253.1 237.8,252.6 238.1,251.0 238.5,254.6 238.8,254.0 239.1,257.0 239.4,255.4 239.8,253.5 240.1,258.7 240.4,261.6 240.8,257.5 241.1,261.2 241.4,262.9 241.6,258.4 241.9,256.7 242.1,263.0 242.4,258.7 242.6,258.2 242.9,251.8 243.1,257.8 243.4,247.8 243.6,249.9 243.9,252.3 244.1,252.9 244.4,245.8 245.2,245.9 246.1,247.7 246.9,241.3 247.7,247.8 248.6,247.0 249.4,243.7 250.4,245.7 251.4,245.7 252.4,243.8 253.4,243.7 254.4,245.7 254.5,239.3 254.6,240.0 254.8,237.2 254.9,240.4 255.0,235.5 255.1,236.8 255.3,234.9 255.4,233.7 255.5,237.2 255.6,231.3 255.7,234.4 255.9,231.8 256.0,232.1 256.1,227.0 256.2,229.0 256.4,227.5 256.5,222.8 256.6,224.2 256.7,222.1 256.8,221.4 257.0,224.0 257.1,217.5 257.2,213.9 257.3,212.7 257.5,215.2 257.6,213.7 257.7,214.4 258.4,215.1 259.1,217.5 259.8,212.7 260.4,212.3 261.1,208.2 261.8,211.0" stroke="#4AB04A" stroke-width="3.5" stroke-dasharray="0 3.6" stroke-linecap="round"/>
<polyline points="355.1,292.9 355.3,298.8 355.5,296.1 356.2,294.7 356.9,294.6 357.6,292.0 358.2,285.9 358.9,291.7 359.6,291.0 360.0,288.2 360.4,281.5 360.8,287.9 361.2,287.1 361.7,281.8 362.1,282.2 362.5,282.6 362.9,279.6 363.1,283.3 363.2,282.0 363.4,284.4 363.6,284.0 363.7,281.3 363.9,283.5 364.1,294.1 364.2,288.4 364.4,291.8 364.5,292.4 364.7,294.7 364.9,293.0 365.0,291.3 365.2,293.8 365.4,290.3 365.5,295.3 365.7,298.8 365.9,292.7 366.0,299.2 366.2,301.6 366.4,303.8 366.6,299.6 366.8,301.3 367.0,299.5 367.3,302.5 367.5,307.2 367.7,311.8 367.9,305.3 367.9,310.2 368.0,307.0 368.0,303.8 368.1,309.1 368.1,297.1 368.2,301.8 368.2,301.4 368.3,304.9 368.3,303.1 368.4,303.1 368.4,297.2 368.5,298.1 368.5,298.0 368.6,295.0 368.6,293.6 368.7,291.3 368.7,289.8 368.8,286.9 368.8,293.3 368.8,286.7 368.9,281.9 368.9,286.3 369.0,284.6 369.0,284.1 369.1,286.9 369.1,281.4 369.2,280.0 369.2,277.9 369.3,278.5 369.3,276.6 369.4,277.0 369.4,282.8 369.5,275.5 369.5,271.5 369.6,277.0 369.6,273.5 370.2,272.6 370.8,271.5 371.4,270.9 372.1,269.8 372.7,270.7 373.3,268.9 373.9,268.9 374.5,263.7 375.3,264.2 376.2,261.8 377.0,265.0 377.8,264.0 378.7,260.3 379.5,262.1 380.2,266.1 380.8,262.1 381.5,255.8 382.2,257.5 382.9,258.4 383.5,256.1 384.2,256.4 384.9,257.5 385.5,254.7 386.2,250.6 386.5,255.9 386.9,255.0 387.2,256.5 387.5,255.9 387.9,255.0 388.2,256.3 388.5,259.4 388.8,258.7 389.2,255.9 389.5,265.9 389.6,261.5 389.8,263.5 389.9,267.4 390.0,261.5 390.2,271.3 390.3,267.4 390.4,271.7 390.6,270.0 390.7,272.9 390.8,273.4 391.0,274.2 391.1,270.9 391.2,272.7 391.3,277.0 391.5,281.4 391.6,277.9 391.7,281.4 391.9,281.5 392.0,283.3 392.1,285.4 392.3,280.6 392.4,285.8 392.5,285.7 392.7,286.4 392.8,286.1 393.0,285.2 393.1,283.6 393.3,282.4 393.4,289.9 393.6,286.9 393.7,282.0 393.9,282.6 394.1,277.6 394.2,272.3 394.4,273.6 394.5,277.1 394.7,279.1 394.8,274.6 395.0,271.4 395.2,272.1 395.3,269.3 395.5,267.4 395.6,269.0 395.8,267.6 395.9,265.6 396.1,264.4 396.8,263.5 397.4,265.4 398.1,267.3 398.8,262.7 399.5,267.6 400.1,257.7 400.8,261.3 401.5,257.2 402.1,258.7 402.8,258.4 403.1,260.5 403.5,262.8 403.8,259.9 404.1,259.3 404.5,262.8 404.8,264.9 405.1,263.6 405.4,268.3 405.8,271.1 406.1,264.9 406.8,269.8 407.5,272.0 408.2,265.8 409.0,271.5 409.7,271.2 410.4,269.2 411.1,276.3 411.4,272.7 411.8,270.1 412.1,271.3 412.5,270.8 412.8,270.1 413.1,268.7 413.5,267.3 413.8,262.6 414.2,263.4 414.5,263.8 414.9,256.0 415.2,266.5 415.4,261.6 415.6,261.0 415.9,260.2 416.1,266.1 416.3,266.6 416.5,266.1 416.7,267.5 417.0,267.4 417.2,268.7 417.4,271.3 417.6,271.0 417.8,275.1 418.1,274.2 418.3,275.8 418.5,277.4 419.5,279.2 420.4,277.3 421.4,276.2 422.4,275.0 423.3,273.2 424.3,274.0 424.8,277.3 425.2,277.2 425.7,276.7 426.2,275.4 426.6,275.8 427.1,281.1 427.6,283.7 428.0,283.1 428.5,279.9 429.5,283.6 430.5,285.5" stroke="#4AB04A" stroke-width="3.5" stroke-dasharray="0 3.6" stroke-linecap="round"/>
</g>
<line x1="101.80" y1="71.50" x2="430.80" y2="71.50" stroke="#000" stroke-width="1.25"/>
<line x1="101.80" y1="399.40" x2="430.80" y2="399.40" stroke="#000" stroke-width="1.25"/>
<line x1="102.40" y1="71.50" x2="102.40" y2="399.40" stroke="#000" stroke-width="1.25"/>
<line x1="430.20" y1="71.50" x2="430.20" y2="399.40" stroke="#000" stroke-width="1.25"/>
<line x1="102.40" y1="63.10" x2="102.40" y2="71.50" stroke="#000" stroke-width="1.1"/>
<line x1="102.40" y1="399.40" x2="102.40" y2="407.80" stroke="#000" stroke-width="1.1"/>
<text transform="translate(102.40 429.30) scale(1 1.06)" font-size="14.8" text-anchor="middle">10/10</text>
<line x1="149.23" y1="63.10" x2="149.23" y2="71.50" stroke="#000" stroke-width="1.1"/>
<line x1="149.23" y1="399.40" x2="149.23" y2="407.80" stroke="#000" stroke-width="1.1"/>
<text transform="translate(149.23 429.30) scale(1 1.06)" font-size="14.8" text-anchor="middle">11/10</text>
<line x1="196.06" y1="63.10" x2="196.06" y2="71.50" stroke="#000" stroke-width="1.1"/>
<line x1="196.06" y1="399.40" x2="196.06" y2="407.80" stroke="#000" stroke-width="1.1"/>
<text transform="translate(196.06 429.30) scale(1 1.06)" font-size="14.8" text-anchor="middle">12/10</text>
<line x1="242.89" y1="63.10" x2="242.89" y2="71.50" stroke="#000" stroke-width="1.1"/>
<line x1="242.89" y1="399.40" x2="242.89" y2="407.80" stroke="#000" stroke-width="1.1"/>
<text transform="translate(242.89 429.30) scale(1 1.06)" font-size="14.8" text-anchor="middle">13/10</text>
<line x1="289.71" y1="63.10" x2="289.71" y2="71.50" stroke="#000" stroke-width="1.1"/>
<line x1="289.71" y1="399.40" x2="289.71" y2="407.80" stroke="#000" stroke-width="1.1"/>
<text transform="translate(289.71 429.30) scale(1 1.06)" font-size="14.8" text-anchor="middle">14/10</text>
<line x1="336.54" y1="63.10" x2="336.54" y2="71.50" stroke="#000" stroke-width="1.1"/>
<line x1="336.54" y1="399.40" x2="336.54" y2="407.80" stroke="#000" stroke-width="1.1"/>
<text transform="translate(336.54 429.30) scale(1 1.06)" font-size="14.8" text-anchor="middle">15/10</text>
<line x1="383.37" y1="63.10" x2="383.37" y2="71.50" stroke="#000" stroke-width="1.1"/>
<line x1="383.37" y1="399.40" x2="383.37" y2="407.80" stroke="#000" stroke-width="1.1"/>
<text transform="translate(383.37 429.30) scale(1 1.06)" font-size="14.8" text-anchor="middle">16/10</text>
<line x1="430.20" y1="63.10" x2="430.20" y2="71.50" stroke="#000" stroke-width="1.1"/>
<line x1="430.20" y1="399.40" x2="430.20" y2="407.80" stroke="#000" stroke-width="1.1"/>
<text transform="translate(430.20 429.30) scale(1 1.06)" font-size="14.8" text-anchor="middle">17/10</text>
<text transform="translate(266.60 457.80) scale(1 1.02)" font-size="21.2" text-anchor="middle">Time (Day/UTC)</text>
<line x1="606.00" y1="321.40" x2="942.20" y2="321.40" stroke="#000" stroke-width="1.0"/>
<line x1="606.00" y1="243.40" x2="942.20" y2="243.40" stroke="#000" stroke-width="1.0"/>
<line x1="606.00" y1="165.40" x2="942.20" y2="165.40" stroke="#000" stroke-width="1.0"/>
<line x1="606.00" y1="87.40" x2="942.20" y2="87.40" stroke="#000" stroke-width="1.0"/>
<text transform="translate(595.40 404.70) scale(1 1.06)" font-size="14.8" text-anchor="end">0</text>
<text transform="translate(595.40 326.70) scale(1 1.06)" font-size="14.8" text-anchor="end">10</text>
<text transform="translate(595.40 248.70) scale(1 1.06)" font-size="14.8" text-anchor="end">20</text>
<text transform="translate(595.40 170.70) scale(1 1.06)" font-size="14.8" text-anchor="end">30</text>
<text transform="translate(595.40 92.70) scale(1 1.06)" font-size="14.8" text-anchor="end">40</text>
<line x1="606.00" y1="399.40" x2="614.40" y2="399.40" stroke="#000" stroke-width="1.0"/>
<line x1="610.20" y1="360.40" x2="614.40" y2="360.40" stroke="#8a8a8a" stroke-width="1.0"/>
<line x1="610.20" y1="282.40" x2="614.40" y2="282.40" stroke="#8a8a8a" stroke-width="1.0"/>
<line x1="610.20" y1="204.40" x2="614.40" y2="204.40" stroke="#8a8a8a" stroke-width="1.0"/>
<line x1="610.20" y1="126.40" x2="614.40" y2="126.40" stroke="#8a8a8a" stroke-width="1.0"/>
<line x1="942.20" y1="399.14" x2="946.40" y2="399.14" stroke="#8a8a8a" stroke-width="1.0"/>
<line x1="942.20" y1="380.42" x2="946.40" y2="380.42" stroke="#8a8a8a" stroke-width="1.0"/>
<line x1="942.20" y1="361.70" x2="950.60" y2="361.70" stroke="#000" stroke-width="1.0"/>
<text transform="translate(960.60 367.00) scale(1 1.06)" font-size="14.8" text-anchor="start">980</text>
<line x1="942.20" y1="342.98" x2="946.40" y2="342.98" stroke="#8a8a8a" stroke-width="1.0"/>
<line x1="942.20" y1="324.26" x2="946.40" y2="324.26" stroke="#8a8a8a" stroke-width="1.0"/>
<line x1="942.20" y1="305.54" x2="946.40" y2="305.54" stroke="#8a8a8a" stroke-width="1.0"/>
<line x1="942.20" y1="286.82" x2="946.40" y2="286.82" stroke="#8a8a8a" stroke-width="1.0"/>
<line x1="942.20" y1="268.10" x2="950.60" y2="268.10" stroke="#000" stroke-width="1.0"/>
<text transform="translate(960.60 273.40) scale(1 1.06)" font-size="14.8" text-anchor="start">990</text>
<line x1="942.20" y1="249.38" x2="946.40" y2="249.38" stroke="#8a8a8a" stroke-width="1.0"/>
<line x1="942.20" y1="230.66" x2="946.40" y2="230.66" stroke="#8a8a8a" stroke-width="1.0"/>
<line x1="942.20" y1="211.94" x2="946.40" y2="211.94" stroke="#8a8a8a" stroke-width="1.0"/>
<line x1="942.20" y1="193.22" x2="946.40" y2="193.22" stroke="#8a8a8a" stroke-width="1.0"/>
<line x1="942.20" y1="174.50" x2="950.60" y2="174.50" stroke="#000" stroke-width="1.0"/>
<text transform="translate(960.60 179.80) scale(1 1.06)" font-size="14.8" text-anchor="start">1000</text>
<line x1="942.20" y1="155.78" x2="946.40" y2="155.78" stroke="#8a8a8a" stroke-width="1.0"/>
<line x1="942.20" y1="137.06" x2="946.40" y2="137.06" stroke="#8a8a8a" stroke-width="1.0"/>
<line x1="942.20" y1="118.34" x2="946.40" y2="118.34" stroke="#8a8a8a" stroke-width="1.0"/>
<line x1="942.20" y1="99.62" x2="946.40" y2="99.62" stroke="#8a8a8a" stroke-width="1.0"/>
<line x1="942.20" y1="80.90" x2="950.60" y2="80.90" stroke="#000" stroke-width="1.0"/>
<text transform="translate(960.60 86.20) scale(1 1.06)" font-size="14.8" text-anchor="start">1010</text>
<text transform="translate(562.30 235.10) rotate(-90)" font-size="21.2" text-anchor="middle">Sonic Wind &amp; Gust (Blue, Black)</text>
<text transform="translate(1021.00 235.20) rotate(-90)" font-size="21" text-anchor="middle">Station Pressure (Maroon)</text>
<text transform="translate(778.20 50.40) scale(1 1.04)" font-size="25.5" text-anchor="middle" textLength="334.0" lengthAdjust="spacingAndGlyphs">Winds (mph) &amp; Pressure (mb)</text>
<g clip-path="url(#c2x)">
<g fill="#000">
<circle cx="614.9" cy="301.8" r="2.75"/><circle cx="614.6" cy="296.9" r="2.75"/><circle cx="614.4" cy="301.2" r="2.75"/><circle cx="614.6" cy="298.2" r="2.75"/><circle cx="614.3" cy="286.9" r="2.75"/><circle cx="615.4" cy="249.8" r="2.75"/><circle cx="614.8" cy="291.9" r="2.75"/><circle cx="615.5" cy="308.7" r="2.75"/><circle cx="615.2" cy="289.5" r="2.75"/><circle cx="615.1" cy="239.4" r="2.75"/><circle cx="615.5" cy="246.7" r="2.75"/><circle cx="615.3" cy="262.0" r="2.75"/><circle cx="615.7" cy="277.6" r="2.75"/><circle cx="616.2" cy="289.1" r="2.75"/><circle cx="616.2" cy="290.4" r="2.75"/><circle cx="616.6" cy="264.7" r="2.75"/><circle cx="616.5" cy="310.3" r="2.75"/><circle cx="616.8" cy="296.6" r="2.75"/><circle cx="616.9" cy="243.1" r="2.75"/><circle cx="616.5" cy="250.9" r="2.75"/><circle cx="616.5" cy="265.6" r="2.75"/><circle cx="616.8" cy="227.2" r="2.75"/><circle cx="617.7" cy="259.4" r="2.75"/><circle cx="617.7" cy="278.3" r="2.75"/><circle cx="617.0" cy="273.3" r="2.75"/><circle cx="617.6" cy="288.8" r="2.75"/><circle cx="617.5" cy="267.1" r="2.75"/><circle cx="618.2" cy="274.2" r="2.75"/><circle cx="618.1" cy="253.0" r="2.75"/><circle cx="617.9" cy="232.0" r="2.75"/><circle cx="618.5" cy="256.5" r="2.75"/><circle cx="618.2" cy="276.8" r="2.75"/><circle cx="618.2" cy="295.6" r="2.75"/><circle cx="618.1" cy="290.0" r="2.75"/><circle cx="618.2" cy="275.0" r="2.75"/><circle cx="618.6" cy="310.7" r="2.75"/><circle cx="619.4" cy="256.9" r="2.75"/><circle cx="619.1" cy="286.5" r="2.75"/><circle cx="618.7" cy="243.5" r="2.75"/><circle cx="619.4" cy="296.3" r="2.75"/><circle cx="619.2" cy="264.8" r="2.75"/><circle cx="619.6" cy="248.0" r="2.75"/><circle cx="620.1" cy="269.6" r="2.75"/><circle cx="620.1" cy="306.4" r="2.75"/><circle cx="620.4" cy="283.1" r="2.75"/><circle cx="619.8" cy="255.6" r="2.75"/><circle cx="620.4" cy="291.6" r="2.75"/><circle cx="620.7" cy="285.8" r="2.75"/><circle cx="620.6" cy="289.3" r="2.75"/><circle cx="620.3" cy="276.4" r="2.75"/><circle cx="620.6" cy="235.8" r="2.75"/><circle cx="621.4" cy="259.0" r="2.75"/><circle cx="621.5" cy="260.4" r="2.75"/><circle cx="621.0" cy="283.2" r="2.75"/><circle cx="621.4" cy="254.2" r="2.75"/><circle cx="621.2" cy="234.1" r="2.75"/><circle cx="622.1" cy="261.7" r="2.75"/><circle cx="621.4" cy="256.0" r="2.75"/><circle cx="621.7" cy="260.9" r="2.75"/><circle cx="621.7" cy="234.5" r="2.75"/><circle cx="622.7" cy="278.1" r="2.75"/><circle cx="622.0" cy="246.5" r="2.75"/><circle cx="622.2" cy="272.9" r="2.75"/><circle cx="622.3" cy="290.4" r="2.75"/><circle cx="622.8" cy="300.8" r="2.75"/><circle cx="622.7" cy="266.2" r="2.75"/><circle cx="622.9" cy="240.4" r="2.75"/><circle cx="622.8" cy="235.1" r="2.75"/><circle cx="623.8" cy="262.8" r="2.75"/><circle cx="623.4" cy="243.8" r="2.75"/><circle cx="623.7" cy="289.4" r="2.75"/><circle cx="623.6" cy="289.4" r="2.75"/><circle cx="624.1" cy="264.4" r="2.75"/><circle cx="624.2" cy="298.1" r="2.75"/><circle cx="624.2" cy="268.8" r="2.75"/><circle cx="624.0" cy="296.0" r="2.75"/><circle cx="624.1" cy="265.6" r="2.75"/><circle cx="624.2" cy="242.1" r="2.75"/><circle cx="624.3" cy="246.0" r="2.75"/><circle cx="624.4" cy="268.1" r="2.75"/><circle cx="624.7" cy="299.4" r="2.75"/><circle cx="624.7" cy="293.4" r="2.75"/><circle cx="624.7" cy="288.2" r="2.75"/><circle cx="625.0" cy="279.3" r="2.75"/><circle cx="625.2" cy="254.4" r="2.75"/><circle cx="625.1" cy="272.7" r="2.75"/><circle cx="625.5" cy="296.6" r="2.75"/><circle cx="625.7" cy="247.0" r="2.75"/><circle cx="625.8" cy="273.7" r="2.75"/><circle cx="625.9" cy="262.0" r="2.75"/><circle cx="626.3" cy="260.4" r="2.75"/><circle cx="626.1" cy="250.9" r="2.75"/><circle cx="626.5" cy="291.1" r="2.75"/><circle cx="626.1" cy="295.5" r="2.75"/><circle cx="626.4" cy="251.2" r="2.75"/><circle cx="627.0" cy="261.7" r="2.75"/><circle cx="626.4" cy="236.2" r="2.75"/><circle cx="627.0" cy="301.2" r="2.75"/><circle cx="626.7" cy="224.3" r="2.75"/><circle cx="627.2" cy="292.3" r="2.75"/><circle cx="627.4" cy="272.8" r="2.75"/><circle cx="627.5" cy="285.3" r="2.75"/><circle cx="627.1" cy="279.6" r="2.75"/><circle cx="627.4" cy="294.6" r="2.75"/><circle cx="627.9" cy="284.6" r="2.75"/><circle cx="628.0" cy="257.7" r="2.75"/><circle cx="627.5" cy="232.3" r="2.75"/><circle cx="628.2" cy="288.4" r="2.75"/><circle cx="628.6" cy="289.1" r="2.75"/><circle cx="628.0" cy="301.4" r="2.75"/><circle cx="628.3" cy="221.3" r="2.75"/><circle cx="629.0" cy="300.5" r="2.75"/><circle cx="628.9" cy="249.2" r="2.75"/><circle cx="628.5" cy="247.5" r="2.75"/><circle cx="629.1" cy="269.5" r="2.75"/><circle cx="628.9" cy="225.7" r="2.75"/><circle cx="629.8" cy="274.4" r="2.75"/><circle cx="629.8" cy="271.7" r="2.75"/><circle cx="629.7" cy="245.9" r="2.75"/><circle cx="629.2" cy="285.0" r="2.75"/><circle cx="630.0" cy="243.4" r="2.75"/><circle cx="630.3" cy="280.5" r="2.75"/><circle cx="630.1" cy="263.2" r="2.75"/><circle cx="630.2" cy="296.8" r="2.75"/><circle cx="630.0" cy="300.8" r="2.75"/><circle cx="630.8" cy="240.5" r="2.75"/><circle cx="630.9" cy="292.2" r="2.75"/><circle cx="630.3" cy="242.8" r="2.75"/><circle cx="630.2" cy="264.4" r="2.75"/><circle cx="631.3" cy="254.8" r="2.75"/><circle cx="631.1" cy="231.2" r="2.75"/><circle cx="631.0" cy="234.0" r="2.75"/><circle cx="630.9" cy="267.0" r="2.75"/><circle cx="631.3" cy="293.9" r="2.75"/><circle cx="631.4" cy="293.3" r="2.75"/><circle cx="631.9" cy="260.7" r="2.75"/><circle cx="631.4" cy="244.5" r="2.75"/><circle cx="632.2" cy="303.2" r="2.75"/><circle cx="631.9" cy="303.4" r="2.75"/><circle cx="632.2" cy="251.7" r="2.75"/><circle cx="632.4" cy="257.4" r="2.75"/><circle cx="632.2" cy="283.0" r="2.75"/><circle cx="632.7" cy="259.2" r="2.75"/><circle cx="633.1" cy="297.2" r="2.75"/><circle cx="633.0" cy="250.7" r="2.75"/><circle cx="632.8" cy="305.2" r="2.75"/><circle cx="633.0" cy="267.2" r="2.75"/><circle cx="633.2" cy="229.2" r="2.75"/><circle cx="632.9" cy="276.6" r="2.75"/><circle cx="633.3" cy="302.5" r="2.75"/><circle cx="634.0" cy="273.6" r="2.75"/><circle cx="633.9" cy="237.3" r="2.75"/><circle cx="634.2" cy="267.8" r="2.75"/><circle cx="634.4" cy="254.8" r="2.75"/><circle cx="634.7" cy="262.5" r="2.75"/><circle cx="634.7" cy="304.8" r="2.75"/><circle cx="634.1" cy="276.6" r="2.75"/><circle cx="634.7" cy="304.7" r="2.75"/><circle cx="634.6" cy="295.0" r="2.75"/><circle cx="634.7" cy="250.6" r="2.75"/><circle cx="635.3" cy="291.7" r="2.75"/><circle cx="635.5" cy="275.7" r="2.75"/><circle cx="635.8" cy="281.8" r="2.75"/><circle cx="635.7" cy="284.7" r="2.75"/><circle cx="636.2" cy="233.6" r="2.75"/><circle cx="636.1" cy="299.7" r="2.75"/><circle cx="636.3" cy="279.4" r="2.75"/><circle cx="635.8" cy="279.1" r="2.75"/><circle cx="636.1" cy="253.6" r="2.75"/><circle cx="636.8" cy="255.7" r="2.75"/><circle cx="636.9" cy="299.9" r="2.75"/><circle cx="636.5" cy="262.8" r="2.75"/><circle cx="636.4" cy="307.5" r="2.75"/><circle cx="636.9" cy="247.0" r="2.75"/><circle cx="637.0" cy="295.1" r="2.75"/><circle cx="637.4" cy="243.2" r="2.75"/><circle cx="637.8" cy="254.0" r="2.75"/><circle cx="637.4" cy="301.4" r="2.75"/><circle cx="637.6" cy="284.6" r="2.75"/><circle cx="637.6" cy="302.9" r="2.75"/><circle cx="638.4" cy="280.3" r="2.75"/><circle cx="637.9" cy="253.5" r="2.75"/><circle cx="637.9" cy="245.2" r="2.75"/><circle cx="638.3" cy="284.1" r="2.75"/><circle cx="638.5" cy="254.2" r="2.75"/><circle cx="638.5" cy="252.5" r="2.75"/><circle cx="638.9" cy="262.8" r="2.75"/><circle cx="638.5" cy="287.3" r="2.75"/><circle cx="639.2" cy="302.3" r="2.75"/><circle cx="639.4" cy="279.2" r="2.75"/><circle cx="639.4" cy="276.2" r="2.75"/><circle cx="639.3" cy="219.5" r="2.75"/><circle cx="639.9" cy="254.5" r="2.75"/><circle cx="639.8" cy="301.5" r="2.75"/><circle cx="639.6" cy="255.9" r="2.75"/><circle cx="639.5" cy="283.8" r="2.75"/><circle cx="640.2" cy="289.9" r="2.75"/><circle cx="640.3" cy="291.1" r="2.75"/><circle cx="640.3" cy="304.6" r="2.75"/><circle cx="640.6" cy="249.6" r="2.75"/><circle cx="640.8" cy="254.2" r="2.75"/><circle cx="640.4" cy="229.9" r="2.75"/><circle cx="641.2" cy="306.5" r="2.75"/><circle cx="641.2" cy="278.5" r="2.75"/><circle cx="640.9" cy="246.7" r="2.75"/><circle cx="640.6" cy="283.6" r="2.75"/><circle cx="641.9" cy="265.3" r="2.75"/><circle cx="641.4" cy="300.6" r="2.75"/><circle cx="641.6" cy="300.1" r="2.75"/><circle cx="642.1" cy="290.8" r="2.75"/><circle cx="641.8" cy="265.6" r="2.75"/><circle cx="642.2" cy="281.3" r="2.75"/><circle cx="641.8" cy="256.0" r="2.75"/><circle cx="642.1" cy="267.8" r="2.75"/><circle cx="642.3" cy="302.4" r="2.75"/><circle cx="642.5" cy="271.7" r="2.75"/><circle cx="642.7" cy="278.7" r="2.75"/><circle cx="642.7" cy="284.8" r="2.75"/><circle cx="643.4" cy="303.3" r="2.75"/><circle cx="643.3" cy="256.2" r="2.75"/><circle cx="642.8" cy="311.9" r="2.75"/><circle cx="644.1" cy="286.1" r="2.75"/><circle cx="643.8" cy="320.0" r="2.75"/><circle cx="643.7" cy="302.0" r="2.75"/><circle cx="643.6" cy="294.5" r="2.75"/><circle cx="644.1" cy="286.9" r="2.75"/><circle cx="644.3" cy="308.1" r="2.75"/><circle cx="644.5" cy="280.3" r="2.75"/><circle cx="643.9" cy="281.3" r="2.75"/><circle cx="644.8" cy="310.0" r="2.75"/><circle cx="644.5" cy="313.4" r="2.75"/><circle cx="644.8" cy="287.7" r="2.75"/><circle cx="645.7" cy="273.3" r="2.75"/><circle cx="645.4" cy="300.4" r="2.75"/><circle cx="645.2" cy="333.5" r="2.75"/><circle cx="645.7" cy="306.5" r="2.75"/><circle cx="646.3" cy="285.2" r="2.75"/><circle cx="646.1" cy="292.6" r="2.75"/><circle cx="645.9" cy="277.2" r="2.75"/><circle cx="646.2" cy="283.1" r="2.75"/><circle cx="645.7" cy="300.1" r="2.75"/><circle cx="646.5" cy="322.2" r="2.75"/><circle cx="646.6" cy="298.9" r="2.75"/><circle cx="646.7" cy="308.4" r="2.75"/><circle cx="646.9" cy="314.8" r="2.75"/><circle cx="646.7" cy="302.5" r="2.75"/><circle cx="647.3" cy="336.2" r="2.75"/><circle cx="646.9" cy="323.4" r="2.75"/><circle cx="647.2" cy="304.5" r="2.75"/><circle cx="647.8" cy="327.5" r="2.75"/><circle cx="647.4" cy="305.5" r="2.75"/><circle cx="647.9" cy="342.4" r="2.75"/><circle cx="647.2" cy="338.2" r="2.75"/><circle cx="647.6" cy="288.8" r="2.75"/><circle cx="647.8" cy="304.9" r="2.75"/><circle cx="648.0" cy="315.3" r="2.75"/><circle cx="648.5" cy="336.7" r="2.75"/><circle cx="647.9" cy="312.4" r="2.75"/><circle cx="648.1" cy="344.6" r="2.75"/><circle cx="648.9" cy="327.6" r="2.75"/><circle cx="648.4" cy="342.8" r="2.75"/><circle cx="648.9" cy="319.3" r="2.75"/><circle cx="648.9" cy="336.5" r="2.75"/><circle cx="648.7" cy="307.6" r="2.75"/><circle cx="649.0" cy="335.7" r="2.75"/><circle cx="649.5" cy="329.4" r="2.75"/><circle cx="649.1" cy="340.6" r="2.75"/><circle cx="649.5" cy="344.2" r="2.75"/><circle cx="649.2" cy="313.1" r="2.75"/><circle cx="649.7" cy="343.1" r="2.75"/><circle cx="649.7" cy="344.5" r="2.75"/><circle cx="650.1" cy="344.9" r="2.75"/><circle cx="650.1" cy="343.6" r="2.75"/><circle cx="650.0" cy="350.2" r="2.75"/><circle cx="650.5" cy="346.5" r="2.75"/><circle cx="650.7" cy="353.0" r="2.75"/><circle cx="650.8" cy="350.4" r="2.75"/><circle cx="650.8" cy="353.2" r="2.75"/><circle cx="651.0" cy="347.8" r="2.75"/><circle cx="651.7" cy="338.2" r="2.75"/><circle cx="651.3" cy="334.2" r="2.75"/><circle cx="651.8" cy="337.1" r="2.75"/><circle cx="651.2" cy="350.5" r="2.75"/><circle cx="652.1" cy="306.1" r="2.75"/><circle cx="652.2" cy="334.4" r="2.75"/><circle cx="651.9" cy="340.8" r="2.75"/><circle cx="651.7" cy="325.9" r="2.75"/><circle cx="652.8" cy="300.5" r="2.75"/><circle cx="652.4" cy="340.7" r="2.75"/><circle cx="652.6" cy="288.1" r="2.75"/><circle cx="652.6" cy="322.9" r="2.75"/><circle cx="653.1" cy="276.5" r="2.75"/><circle cx="652.8" cy="329.4" r="2.75"/><circle cx="653.3" cy="278.3" r="2.75"/><circle cx="652.8" cy="336.2" r="2.75"/><circle cx="652.8" cy="319.7" r="2.75"/><circle cx="653.4" cy="280.5" r="2.75"/><circle cx="653.7" cy="321.5" r="2.75"/><circle cx="653.6" cy="321.5" r="2.75"/><circle cx="654.0" cy="288.6" r="2.75"/><circle cx="653.6" cy="314.8" r="2.75"/><circle cx="654.5" cy="310.4" r="2.75"/><circle cx="654.5" cy="284.6" r="2.75"/><circle cx="654.5" cy="307.0" r="2.75"/><circle cx="655.1" cy="319.6" r="2.75"/><circle cx="654.8" cy="297.1" r="2.75"/><circle cx="655.0" cy="303.6" r="2.75"/><circle cx="655.1" cy="319.0" r="2.75"/><circle cx="655.4" cy="240.3" r="2.75"/><circle cx="655.2" cy="297.1" r="2.75"/><circle cx="655.3" cy="266.9" r="2.75"/><circle cx="655.6" cy="254.0" r="2.75"/><circle cx="655.6" cy="255.7" r="2.75"/><circle cx="656.2" cy="318.1" r="2.75"/><circle cx="655.5" cy="302.4" r="2.75"/><circle cx="656.2" cy="255.1" r="2.75"/><circle cx="656.5" cy="260.4" r="2.75"/><circle cx="656.4" cy="286.0" r="2.75"/><circle cx="656.8" cy="238.0" r="2.75"/><circle cx="657.2" cy="236.4" r="2.75"/><circle cx="657.0" cy="253.4" r="2.75"/><circle cx="656.9" cy="305.9" r="2.75"/><circle cx="657.3" cy="247.3" r="2.75"/><circle cx="657.7" cy="290.4" r="2.75"/><circle cx="657.8" cy="223.7" r="2.75"/><circle cx="657.3" cy="262.6" r="2.75"/><circle cx="657.7" cy="229.8" r="2.75"/><circle cx="657.7" cy="303.9" r="2.75"/><circle cx="658.4" cy="317.5" r="2.75"/><circle cx="658.4" cy="312.5" r="2.75"/><circle cx="657.8" cy="268.0" r="2.75"/><circle cx="658.8" cy="263.7" r="2.75"/><circle cx="658.9" cy="228.8" r="2.75"/><circle cx="658.3" cy="306.8" r="2.75"/><circle cx="658.7" cy="299.7" r="2.75"/><circle cx="659.4" cy="228.4" r="2.75"/><circle cx="659.4" cy="201.2" r="2.75"/><circle cx="659.4" cy="311.4" r="2.75"/><circle cx="659.1" cy="197.4" r="2.75"/><circle cx="659.9" cy="316.9" r="2.75"/><circle cx="659.9" cy="217.4" r="2.75"/><circle cx="659.7" cy="278.8" r="2.75"/><circle cx="659.7" cy="197.7" r="2.75"/><circle cx="659.9" cy="320.9" r="2.75"/><circle cx="660.0" cy="311.2" r="2.75"/><circle cx="660.3" cy="279.4" r="2.75"/><circle cx="660.5" cy="229.2" r="2.75"/><circle cx="660.8" cy="263.2" r="2.75"/><circle cx="660.9" cy="330.6" r="2.75"/><circle cx="660.5" cy="214.4" r="2.75"/><circle cx="660.9" cy="226.7" r="2.75"/><circle cx="661.0" cy="293.7" r="2.75"/><circle cx="661.5" cy="260.0" r="2.75"/><circle cx="661.4" cy="241.2" r="2.75"/><circle cx="662.2" cy="316.3" r="2.75"/><circle cx="662.2" cy="301.0" r="2.75"/><circle cx="662.0" cy="228.3" r="2.75"/><circle cx="662.7" cy="326.6" r="2.75"/><circle cx="662.1" cy="281.6" r="2.75"/><circle cx="662.4" cy="233.6" r="2.75"/><circle cx="662.3" cy="221.2" r="2.75"/><circle cx="662.9" cy="300.9" r="2.75"/><circle cx="662.7" cy="312.4" r="2.75"/><circle cx="662.7" cy="226.0" r="2.75"/><circle cx="663.2" cy="295.6" r="2.75"/><circle cx="662.9" cy="232.0" r="2.75"/><circle cx="663.2" cy="219.1" r="2.75"/><circle cx="663.5" cy="329.5" r="2.75"/><circle cx="663.4" cy="305.9" r="2.75"/><circle cx="664.3" cy="291.5" r="2.75"/><circle cx="664.0" cy="311.1" r="2.75"/><circle cx="664.0" cy="252.6" r="2.75"/><circle cx="664.0" cy="202.5" r="2.75"/><circle cx="664.7" cy="292.7" r="2.75"/><circle cx="664.5" cy="203.0" r="2.75"/><circle cx="664.8" cy="253.8" r="2.75"/><circle cx="664.6" cy="219.6" r="2.75"/><circle cx="665.3" cy="310.9" r="2.75"/><circle cx="665.4" cy="227.6" r="2.75"/><circle cx="665.2" cy="319.4" r="2.75"/><circle cx="665.2" cy="254.8" r="2.75"/><circle cx="665.2" cy="184.8" r="2.75"/><circle cx="665.4" cy="281.2" r="2.75"/><circle cx="666.0" cy="291.9" r="2.75"/><circle cx="665.7" cy="223.9" r="2.75"/><circle cx="665.6" cy="262.9" r="2.75"/><circle cx="665.7" cy="176.4" r="2.75"/><circle cx="666.0" cy="268.2" r="2.75"/><circle cx="666.0" cy="326.3" r="2.75"/><circle cx="666.3" cy="318.9" r="2.75"/><circle cx="666.3" cy="280.1" r="2.75"/><circle cx="666.5" cy="284.6" r="2.75"/><circle cx="666.7" cy="309.9" r="2.75"/><circle cx="666.6" cy="317.8" r="2.75"/><circle cx="667.1" cy="281.3" r="2.75"/><circle cx="666.8" cy="188.6" r="2.75"/><circle cx="667.3" cy="266.6" r="2.75"/><circle cx="667.7" cy="304.9" r="2.75"/><circle cx="667.1" cy="328.3" r="2.75"/><circle cx="668.1" cy="285.5" r="2.75"/><circle cx="667.7" cy="302.4" r="2.75"/><circle cx="667.6" cy="260.9" r="2.75"/><circle cx="667.6" cy="275.1" r="2.75"/><circle cx="667.8" cy="260.1" r="2.75"/><circle cx="667.9" cy="193.0" r="2.75"/><circle cx="668.7" cy="206.0" r="2.75"/><circle cx="668.7" cy="296.8" r="2.75"/><circle cx="668.5" cy="258.2" r="2.75"/><circle cx="668.4" cy="214.8" r="2.75"/><circle cx="669.0" cy="299.3" r="2.75"/><circle cx="669.3" cy="326.7" r="2.75"/><circle cx="669.0" cy="311.2" r="2.75"/><circle cx="669.1" cy="260.6" r="2.75"/><circle cx="669.1" cy="316.8" r="2.75"/><circle cx="669.2" cy="256.5" r="2.75"/><circle cx="669.4" cy="315.1" r="2.75"/><circle cx="669.5" cy="281.2" r="2.75"/><circle cx="669.5" cy="250.7" r="2.75"/><circle cx="669.9" cy="301.7" r="2.75"/><circle cx="670.1" cy="211.2" r="2.75"/><circle cx="670.1" cy="264.9" r="2.75"/><circle cx="670.3" cy="198.0" r="2.75"/><circle cx="669.9" cy="267.9" r="2.75"/><circle cx="671.0" cy="314.8" r="2.75"/><circle cx="670.9" cy="321.4" r="2.75"/><circle cx="670.6" cy="307.0" r="2.75"/><circle cx="670.8" cy="268.1" r="2.75"/><circle cx="670.8" cy="215.1" r="2.75"/><circle cx="670.9" cy="308.6" r="2.75"/><circle cx="670.9" cy="295.8" r="2.75"/><circle cx="671.6" cy="264.8" r="2.75"/><circle cx="671.2" cy="176.9" r="2.75"/><circle cx="671.5" cy="184.1" r="2.75"/><circle cx="671.8" cy="250.0" r="2.75"/><circle cx="671.5" cy="261.6" r="2.75"/><circle cx="671.6" cy="281.7" r="2.75"/><circle cx="672.2" cy="303.9" r="2.75"/><circle cx="672.7" cy="255.1" r="2.75"/><circle cx="672.3" cy="313.0" r="2.75"/><circle cx="672.2" cy="214.1" r="2.75"/><circle cx="672.7" cy="306.7" r="2.75"/><circle cx="672.3" cy="155.8" r="2.75"/><circle cx="672.5" cy="302.0" r="2.75"/><circle cx="673.1" cy="270.1" r="2.75"/><circle cx="672.9" cy="260.6" r="2.75"/><circle cx="673.3" cy="215.8" r="2.75"/><circle cx="673.7" cy="223.5" r="2.75"/><circle cx="673.3" cy="307.1" r="2.75"/><circle cx="673.8" cy="239.6" r="2.75"/><circle cx="673.7" cy="236.3" r="2.75"/><circle cx="673.7" cy="293.3" r="2.75"/><circle cx="673.8" cy="272.5" r="2.75"/><circle cx="674.0" cy="276.1" r="2.75"/><circle cx="673.8" cy="219.2" r="2.75"/><circle cx="674.3" cy="257.2" r="2.75"/><circle cx="674.9" cy="217.3" r="2.75"/><circle cx="674.4" cy="267.2" r="2.75"/><circle cx="674.8" cy="237.8" r="2.75"/><circle cx="674.8" cy="295.8" r="2.75"/><circle cx="674.7" cy="294.7" r="2.75"/><circle cx="675.7" cy="229.7" r="2.75"/><circle cx="676.0" cy="190.0" r="2.75"/><circle cx="675.4" cy="194.2" r="2.75"/><circle cx="675.3" cy="271.1" r="2.75"/><circle cx="675.8" cy="300.3" r="2.75"/><circle cx="676.4" cy="232.6" r="2.75"/><circle cx="676.5" cy="221.6" r="2.75"/><circle cx="675.9" cy="237.9" r="2.75"/><circle cx="676.7" cy="210.3" r="2.75"/><circle cx="676.6" cy="159.4" r="2.75"/><circle cx="676.9" cy="278.9" r="2.75"/><circle cx="676.9" cy="298.0" r="2.75"/><circle cx="677.2" cy="175.3" r="2.75"/><circle cx="677.3" cy="257.5" r="2.75"/><circle cx="677.5" cy="199.6" r="2.75"/><circle cx="677.1" cy="264.3" r="2.75"/><circle cx="677.6" cy="199.7" r="2.75"/><circle cx="677.5" cy="293.7" r="2.75"/><circle cx="678.2" cy="227.0" r="2.75"/><circle cx="677.9" cy="209.3" r="2.75"/><circle cx="678.1" cy="248.6" r="2.75"/><circle cx="678.0" cy="278.7" r="2.75"/><circle cx="678.1" cy="174.6" r="2.75"/><circle cx="678.5" cy="251.6" r="2.75"/><circle cx="678.5" cy="262.1" r="2.75"/><circle cx="678.4" cy="143.1" r="2.75"/><circle cx="679.1" cy="272.9" r="2.75"/><circle cx="679.2" cy="268.1" r="2.75"/><circle cx="679.1" cy="232.0" r="2.75"/><circle cx="678.9" cy="233.6" r="2.75"/><circle cx="679.8" cy="255.8" r="2.75"/><circle cx="679.1" cy="267.7" r="2.75"/><circle cx="679.4" cy="219.1" r="2.75"/><circle cx="679.9" cy="190.5" r="2.75"/><circle cx="679.5" cy="159.3" r="2.75"/><circle cx="680.0" cy="178.1" r="2.75"/><circle cx="679.7" cy="261.3" r="2.75"/><circle cx="680.4" cy="193.5" r="2.75"/><circle cx="680.0" cy="177.6" r="2.75"/><circle cx="681.0" cy="282.8" r="2.75"/><circle cx="680.8" cy="252.2" r="2.75"/><circle cx="680.7" cy="287.4" r="2.75"/><circle cx="680.3" cy="201.0" r="2.75"/><circle cx="680.5" cy="273.4" r="2.75"/><circle cx="680.6" cy="144.4" r="2.75"/><circle cx="681.5" cy="206.2" r="2.75"/><circle cx="680.8" cy="242.5" r="2.75"/><circle cx="681.3" cy="215.3" r="2.75"/><circle cx="681.0" cy="161.3" r="2.75"/><circle cx="681.6" cy="222.4" r="2.75"/><circle cx="681.6" cy="269.4" r="2.75"/><circle cx="681.5" cy="262.1" r="2.75"/><circle cx="681.4" cy="206.8" r="2.75"/><circle cx="682.2" cy="224.0" r="2.75"/><circle cx="682.5" cy="238.4" r="2.75"/><circle cx="682.2" cy="223.0" r="2.75"/><circle cx="682.0" cy="242.4" r="2.75"/><circle cx="682.4" cy="215.7" r="2.75"/><circle cx="683.2" cy="196.3" r="2.75"/><circle cx="682.8" cy="241.0" r="2.75"/><circle cx="682.8" cy="255.3" r="2.75"/><circle cx="682.9" cy="234.5" r="2.75"/><circle cx="682.8" cy="146.1" r="2.75"/><circle cx="683.7" cy="178.8" r="2.75"/><circle cx="683.6" cy="208.9" r="2.75"/><circle cx="683.7" cy="254.5" r="2.75"/><circle cx="683.3" cy="144.1" r="2.75"/><circle cx="684.2" cy="222.2" r="2.75"/><circle cx="683.7" cy="213.1" r="2.75"/><circle cx="684.0" cy="274.2" r="2.75"/><circle cx="684.0" cy="202.2" r="2.75"/><circle cx="683.7" cy="227.2" r="2.75"/><circle cx="684.3" cy="158.6" r="2.75"/><circle cx="684.5" cy="220.2" r="2.75"/><circle cx="684.6" cy="178.1" r="2.75"/><circle cx="684.6" cy="197.4" r="2.75"/><circle cx="685.3" cy="278.1" r="2.75"/><circle cx="685.0" cy="236.2" r="2.75"/><circle cx="685.0" cy="179.3" r="2.75"/><circle cx="684.7" cy="212.3" r="2.75"/><circle cx="685.8" cy="180.9" r="2.75"/><circle cx="685.5" cy="264.1" r="2.75"/><circle cx="685.8" cy="155.3" r="2.75"/><circle cx="685.7" cy="263.6" r="2.75"/><circle cx="685.5" cy="132.2" r="2.75"/><circle cx="686.5" cy="255.9" r="2.75"/><circle cx="685.9" cy="280.4" r="2.75"/><circle cx="685.8" cy="251.7" r="2.75"/><circle cx="686.0" cy="224.9" r="2.75"/><circle cx="686.1" cy="147.3" r="2.75"/><circle cx="686.8" cy="205.9" r="2.75"/><circle cx="687.0" cy="196.3" r="2.75"/><circle cx="686.9" cy="193.2" r="2.75"/><circle cx="686.8" cy="215.5" r="2.75"/><circle cx="687.4" cy="288.7" r="2.75"/><circle cx="687.0" cy="234.6" r="2.75"/><circle cx="687.0" cy="282.2" r="2.75"/><circle cx="687.5" cy="289.5" r="2.75"/><circle cx="687.2" cy="129.8" r="2.75"/><circle cx="687.7" cy="206.1" r="2.75"/><circle cx="687.6" cy="282.2" r="2.75"/><circle cx="688.1" cy="266.6" r="2.75"/><circle cx="687.4" cy="172.4" r="2.75"/><circle cx="687.6" cy="213.7" r="2.75"/><circle cx="688.2" cy="258.3" r="2.75"/><circle cx="688.6" cy="218.3" r="2.75"/><circle cx="688.5" cy="166.5" r="2.75"/><circle cx="688.0" cy="199.8" r="2.75"/><circle cx="688.3" cy="149.7" r="2.75"/><circle cx="688.5" cy="177.6" r="2.75"/><circle cx="688.8" cy="237.8" r="2.75"/><circle cx="688.8" cy="298.1" r="2.75"/><circle cx="689.0" cy="279.5" r="2.75"/><circle cx="688.8" cy="211.6" r="2.75"/><circle cx="689.2" cy="196.6" r="2.75"/><circle cx="689.5" cy="208.6" r="2.75"/><circle cx="689.0" cy="209.5" r="2.75"/><circle cx="690.0" cy="173.0" r="2.75"/><circle cx="690.2" cy="287.3" r="2.75"/><circle cx="690.2" cy="188.9" r="2.75"/><circle cx="690.1" cy="291.1" r="2.75"/><circle cx="689.8" cy="281.5" r="2.75"/><circle cx="689.9" cy="171.4" r="2.75"/><circle cx="690.6" cy="271.9" r="2.75"/><circle cx="690.8" cy="300.5" r="2.75"/><circle cx="690.6" cy="205.7" r="2.75"/><circle cx="690.6" cy="248.7" r="2.75"/><circle cx="691.2" cy="236.5" r="2.75"/><circle cx="691.2" cy="252.0" r="2.75"/><circle cx="691.2" cy="236.0" r="2.75"/><circle cx="691.2" cy="296.7" r="2.75"/><circle cx="691.9" cy="287.9" r="2.75"/><circle cx="691.9" cy="232.7" r="2.75"/><circle cx="691.7" cy="256.0" r="2.75"/><circle cx="691.6" cy="175.9" r="2.75"/><circle cx="691.8" cy="294.2" r="2.75"/><circle cx="692.2" cy="228.5" r="2.75"/><circle cx="692.1" cy="287.0" r="2.75"/><circle cx="692.0" cy="279.1" r="2.75"/><circle cx="692.0" cy="279.0" r="2.75"/><circle cx="693.0" cy="292.4" r="2.75"/><circle cx="692.6" cy="264.9" r="2.75"/><circle cx="692.8" cy="279.1" r="2.75"/><circle cx="692.9" cy="291.3" r="2.75"/><circle cx="692.7" cy="186.1" r="2.75"/><circle cx="693.0" cy="228.2" r="2.75"/><circle cx="693.3" cy="196.1" r="2.75"/><circle cx="693.6" cy="302.6" r="2.75"/><circle cx="693.4" cy="215.5" r="2.75"/><circle cx="693.9" cy="247.6" r="2.75"/><circle cx="693.5" cy="217.5" r="2.75"/><circle cx="694.1" cy="308.6" r="2.75"/><circle cx="693.7" cy="224.8" r="2.75"/><circle cx="694.0" cy="263.9" r="2.75"/><circle cx="694.6" cy="294.0" r="2.75"/><circle cx="694.0" cy="223.1" r="2.75"/><circle cx="694.6" cy="254.4" r="2.75"/><circle cx="695.0" cy="250.4" r="2.75"/><circle cx="695.3" cy="288.5" r="2.75"/><circle cx="695.1" cy="250.2" r="2.75"/><circle cx="695.1" cy="266.7" r="2.75"/><circle cx="694.9" cy="194.8" r="2.75"/><circle cx="695.8" cy="268.8" r="2.75"/><circle cx="695.4" cy="300.2" r="2.75"/><circle cx="695.8" cy="223.2" r="2.75"/><circle cx="695.9" cy="239.5" r="2.75"/><circle cx="695.7" cy="245.0" r="2.75"/><circle cx="696.0" cy="230.8" r="2.75"/><circle cx="695.7" cy="270.1" r="2.75"/><circle cx="696.0" cy="185.4" r="2.75"/><circle cx="696.4" cy="202.5" r="2.75"/><circle cx="696.8" cy="224.2" r="2.75"/><circle cx="696.5" cy="311.9" r="2.75"/><circle cx="696.5" cy="196.8" r="2.75"/><circle cx="696.9" cy="272.0" r="2.75"/><circle cx="697.4" cy="277.9" r="2.75"/><circle cx="696.9" cy="239.4" r="2.75"/><circle cx="696.9" cy="243.8" r="2.75"/><circle cx="697.2" cy="295.8" r="2.75"/><circle cx="697.3" cy="231.5" r="2.75"/><circle cx="697.3" cy="230.6" r="2.75"/><circle cx="697.5" cy="217.9" r="2.75"/><circle cx="698.2" cy="217.3" r="2.75"/><circle cx="697.9" cy="305.2" r="2.75"/><circle cx="698.4" cy="254.3" r="2.75"/><circle cx="698.0" cy="243.3" r="2.75"/><circle cx="699.0" cy="259.2" r="2.75"/><circle cx="699.0" cy="301.6" r="2.75"/><circle cx="698.4" cy="316.0" r="2.75"/><circle cx="698.7" cy="312.8" r="2.75"/><circle cx="698.6" cy="290.0" r="2.75"/><circle cx="699.0" cy="209.0" r="2.75"/><circle cx="699.5" cy="252.1" r="2.75"/><circle cx="699.1" cy="271.7" r="2.75"/><circle cx="699.7" cy="256.6" r="2.75"/><circle cx="699.7" cy="312.3" r="2.75"/><circle cx="699.7" cy="224.1" r="2.75"/><circle cx="699.6" cy="296.7" r="2.75"/><circle cx="699.9" cy="296.9" r="2.75"/><circle cx="700.1" cy="257.0" r="2.75"/><circle cx="700.1" cy="259.9" r="2.75"/><circle cx="700.3" cy="212.9" r="2.75"/><circle cx="700.1" cy="218.3" r="2.75"/><circle cx="700.7" cy="213.2" r="2.75"/><circle cx="701.0" cy="221.3" r="2.75"/><circle cx="700.8" cy="283.4" r="2.75"/><circle cx="701.3" cy="272.2" r="2.75"/><circle cx="701.2" cy="308.6" r="2.75"/><circle cx="701.8" cy="264.2" r="2.75"/><circle cx="701.7" cy="315.4" r="2.75"/><circle cx="701.1" cy="279.1" r="2.75"/><circle cx="701.7" cy="320.0" r="2.75"/><circle cx="701.9" cy="290.2" r="2.75"/><circle cx="702.2" cy="271.0" r="2.75"/><circle cx="702.4" cy="269.2" r="2.75"/><circle cx="701.7" cy="321.4" r="2.75"/><circle cx="702.6" cy="271.9" r="2.75"/><circle cx="702.6" cy="314.4" r="2.75"/><circle cx="702.6" cy="264.8" r="2.75"/><circle cx="702.9" cy="219.3" r="2.75"/><circle cx="702.6" cy="282.2" r="2.75"/><circle cx="703.5" cy="289.9" r="2.75"/><circle cx="703.1" cy="235.2" r="2.75"/><circle cx="703.3" cy="331.7" r="2.75"/><circle cx="703.6" cy="333.2" r="2.75"/><circle cx="703.4" cy="319.7" r="2.75"/><circle cx="703.7" cy="333.2" r="2.75"/><circle cx="704.0" cy="240.9" r="2.75"/><circle cx="704.1" cy="294.6" r="2.75"/><circle cx="704.6" cy="275.2" r="2.75"/><circle cx="704.5" cy="205.6" r="2.75"/><circle cx="704.1" cy="301.2" r="2.75"/><circle cx="704.4" cy="224.2" r="2.75"/><circle cx="704.8" cy="258.6" r="2.75"/><circle cx="704.6" cy="330.6" r="2.75"/><circle cx="704.8" cy="206.1" r="2.75"/><circle cx="705.1" cy="304.4" r="2.75"/><circle cx="704.8" cy="173.1" r="2.75"/><circle cx="705.4" cy="303.0" r="2.75"/><circle cx="705.6" cy="321.2" r="2.75"/><circle cx="705.2" cy="206.8" r="2.75"/><circle cx="705.3" cy="170.5" r="2.75"/><circle cx="705.7" cy="325.6" r="2.75"/><circle cx="705.8" cy="224.6" r="2.75"/><circle cx="705.5" cy="276.8" r="2.75"/><circle cx="705.9" cy="286.9" r="2.75"/><circle cx="706.2" cy="328.2" r="2.75"/><circle cx="706.8" cy="274.9" r="2.75"/><circle cx="706.2" cy="290.0" r="2.75"/><circle cx="707.3" cy="230.0" r="2.75"/><circle cx="707.3" cy="281.9" r="2.75"/><circle cx="707.1" cy="318.3" r="2.75"/><circle cx="706.8" cy="199.1" r="2.75"/><circle cx="706.7" cy="292.0" r="2.75"/><circle cx="707.2" cy="180.2" r="2.75"/><circle cx="707.6" cy="313.1" r="2.75"/><circle cx="707.3" cy="223.1" r="2.75"/><circle cx="708.0" cy="279.3" r="2.75"/><circle cx="708.0" cy="211.7" r="2.75"/><circle cx="708.2" cy="181.1" r="2.75"/><circle cx="708.4" cy="231.1" r="2.75"/><circle cx="708.3" cy="175.8" r="2.75"/><circle cx="708.7" cy="167.6" r="2.75"/><circle cx="708.6" cy="226.6" r="2.75"/><circle cx="708.3" cy="172.4" r="2.75"/><circle cx="709.0" cy="295.3" r="2.75"/><circle cx="708.6" cy="131.2" r="2.75"/><circle cx="709.1" cy="298.7" r="2.75"/><circle cx="709.3" cy="272.2" r="2.75"/><circle cx="708.9" cy="228.0" r="2.75"/><circle cx="709.0" cy="223.3" r="2.75"/><circle cx="709.9" cy="199.3" r="2.75"/><circle cx="709.5" cy="257.9" r="2.75"/><circle cx="709.5" cy="218.7" r="2.75"/><circle cx="709.6" cy="289.1" r="2.75"/><circle cx="710.6" cy="161.3" r="2.75"/><circle cx="710.0" cy="267.5" r="2.75"/><circle cx="710.3" cy="251.9" r="2.75"/><circle cx="710.5" cy="181.7" r="2.75"/><circle cx="710.3" cy="134.6" r="2.75"/><circle cx="711.1" cy="292.7" r="2.75"/><circle cx="711.0" cy="277.4" r="2.75"/><circle cx="710.5" cy="169.1" r="2.75"/><circle cx="710.9" cy="171.8" r="2.75"/><circle cx="711.8" cy="285.6" r="2.75"/><circle cx="711.3" cy="288.4" r="2.75"/><circle cx="711.5" cy="267.2" r="2.75"/><circle cx="711.9" cy="146.1" r="2.75"/><circle cx="712.1" cy="203.6" r="2.75"/><circle cx="712.3" cy="174.5" r="2.75"/><circle cx="711.9" cy="123.6" r="2.75"/><circle cx="712.2" cy="218.2" r="2.75"/><circle cx="712.1" cy="254.9" r="2.75"/><circle cx="712.7" cy="275.2" r="2.75"/><circle cx="712.8" cy="253.9" r="2.75"/><circle cx="712.7" cy="249.6" r="2.75"/><circle cx="712.7" cy="210.3" r="2.75"/><circle cx="713.4" cy="259.7" r="2.75"/><circle cx="712.7" cy="264.0" r="2.75"/><circle cx="713.1" cy="193.9" r="2.75"/><circle cx="713.3" cy="251.8" r="2.75"/><circle cx="713.7" cy="278.4" r="2.75"/><circle cx="713.4" cy="149.6" r="2.75"/><circle cx="714.4" cy="189.3" r="2.75"/><circle cx="714.1" cy="182.2" r="2.75"/><circle cx="713.9" cy="148.6" r="2.75"/><circle cx="714.2" cy="211.9" r="2.75"/><circle cx="714.7" cy="260.3" r="2.75"/><circle cx="714.8" cy="167.2" r="2.75"/><circle cx="714.8" cy="172.2" r="2.75"/><circle cx="714.9" cy="210.5" r="2.75"/><circle cx="715.5" cy="170.6" r="2.75"/><circle cx="715.4" cy="253.1" r="2.75"/><circle cx="715.2" cy="130.0" r="2.75"/><circle cx="715.8" cy="211.2" r="2.75"/><circle cx="715.8" cy="277.2" r="2.75"/><circle cx="716.0" cy="258.8" r="2.75"/><circle cx="716.2" cy="160.2" r="2.75"/><circle cx="716.7" cy="166.6" r="2.75"/><circle cx="716.3" cy="202.1" r="2.75"/><circle cx="716.7" cy="247.0" r="2.75"/><circle cx="716.7" cy="213.6" r="2.75"/><circle cx="716.7" cy="260.1" r="2.75"/><circle cx="716.8" cy="209.7" r="2.75"/><circle cx="717.3" cy="250.5" r="2.75"/><circle cx="717.3" cy="171.0" r="2.75"/><circle cx="717.2" cy="234.8" r="2.75"/><circle cx="717.3" cy="213.8" r="2.75"/><circle cx="717.6" cy="261.1" r="2.75"/><circle cx="718.4" cy="212.4" r="2.75"/><circle cx="718.0" cy="235.3" r="2.75"/><circle cx="718.9" cy="221.2" r="2.75"/><circle cx="718.6" cy="150.1" r="2.75"/><circle cx="718.4" cy="294.4" r="2.75"/><circle cx="718.4" cy="248.0" r="2.75"/><circle cx="719.1" cy="209.4" r="2.75"/><circle cx="719.3" cy="238.8" r="2.75"/><circle cx="718.8" cy="163.4" r="2.75"/><circle cx="720.0" cy="279.7" r="2.75"/><circle cx="719.5" cy="259.0" r="2.75"/><circle cx="719.7" cy="174.1" r="2.75"/><circle cx="719.6" cy="175.6" r="2.75"/><circle cx="720.1" cy="219.2" r="2.75"/><circle cx="720.4" cy="283.4" r="2.75"/><circle cx="719.8" cy="261.5" r="2.75"/><circle cx="719.8" cy="276.6" r="2.75"/><circle cx="720.9" cy="297.9" r="2.75"/><circle cx="721.1" cy="174.1" r="2.75"/><circle cx="720.8" cy="277.8" r="2.75"/><circle cx="720.9" cy="169.7" r="2.75"/><circle cx="721.0" cy="207.6" r="2.75"/><circle cx="721.0" cy="272.8" r="2.75"/><circle cx="721.4" cy="280.9" r="2.75"/><circle cx="722.0" cy="233.4" r="2.75"/><circle cx="721.5" cy="198.1" r="2.75"/><circle cx="722.0" cy="291.5" r="2.75"/><circle cx="721.5" cy="260.5" r="2.75"/><circle cx="721.7" cy="205.7" r="2.75"/><circle cx="722.2" cy="302.0" r="2.75"/><circle cx="722.4" cy="247.7" r="2.75"/><circle cx="722.1" cy="293.7" r="2.75"/><circle cx="723.3" cy="248.9" r="2.75"/><circle cx="722.7" cy="304.2" r="2.75"/><circle cx="722.9" cy="281.2" r="2.75"/><circle cx="723.2" cy="252.2" r="2.75"/><circle cx="722.9" cy="260.7" r="2.75"/><circle cx="723.4" cy="289.9" r="2.75"/><circle cx="723.8" cy="196.6" r="2.75"/><circle cx="723.4" cy="277.5" r="2.75"/><circle cx="723.6" cy="292.9" r="2.75"/><circle cx="724.1" cy="247.4" r="2.75"/><circle cx="724.4" cy="261.2" r="2.75"/><circle cx="724.2" cy="243.8" r="2.75"/><circle cx="723.9" cy="232.3" r="2.75"/><circle cx="724.1" cy="287.4" r="2.75"/><circle cx="724.4" cy="296.6" r="2.75"/><circle cx="724.4" cy="235.9" r="2.75"/><circle cx="724.3" cy="306.8" r="2.75"/><circle cx="724.6" cy="192.7" r="2.75"/><circle cx="724.8" cy="255.3" r="2.75"/><circle cx="725.2" cy="231.1" r="2.75"/><circle cx="725.2" cy="286.4" r="2.75"/><circle cx="725.5" cy="226.4" r="2.75"/><circle cx="724.9" cy="251.3" r="2.75"/><circle cx="726.1" cy="229.1" r="2.75"/><circle cx="725.9" cy="296.8" r="2.75"/><circle cx="725.9" cy="221.5" r="2.75"/><circle cx="725.5" cy="237.8" r="2.75"/><circle cx="725.8" cy="273.6" r="2.75"/><circle cx="725.7" cy="189.0" r="2.75"/><circle cx="726.6" cy="311.8" r="2.75"/><circle cx="726.1" cy="291.8" r="2.75"/><circle cx="726.4" cy="316.5" r="2.75"/><circle cx="726.5" cy="249.8" r="2.75"/><circle cx="726.7" cy="232.1" r="2.75"/><circle cx="727.1" cy="240.1" r="2.75"/><circle cx="726.6" cy="292.6" r="2.75"/><circle cx="726.6" cy="282.2" r="2.75"/><circle cx="726.8" cy="213.0" r="2.75"/><circle cx="727.1" cy="319.8" r="2.75"/><circle cx="727.6" cy="268.7" r="2.75"/><circle cx="727.1" cy="283.9" r="2.75"/><circle cx="727.6" cy="234.3" r="2.75"/><circle cx="727.3" cy="205.1" r="2.75"/><circle cx="727.8" cy="264.2" r="2.75"/><circle cx="728.0" cy="308.1" r="2.75"/><circle cx="727.9" cy="287.1" r="2.75"/><circle cx="727.8" cy="300.0" r="2.75"/><circle cx="727.9" cy="214.4" r="2.75"/><circle cx="728.3" cy="292.4" r="2.75"/><circle cx="728.8" cy="260.8" r="2.75"/><circle cx="728.8" cy="247.1" r="2.75"/><circle cx="728.1" cy="300.3" r="2.75"/><circle cx="729.4" cy="325.1" r="2.75"/><circle cx="728.9" cy="261.5" r="2.75"/><circle cx="728.7" cy="277.0" r="2.75"/><circle cx="729.5" cy="259.1" r="2.75"/><circle cx="729.9" cy="259.3" r="2.75"/><circle cx="729.9" cy="330.0" r="2.75"/><circle cx="730.2" cy="290.1" r="2.75"/><circle cx="730.3" cy="256.4" r="2.75"/><circle cx="730.4" cy="304.5" r="2.75"/><circle cx="730.6" cy="291.2" r="2.75"/><circle cx="730.6" cy="259.1" r="2.75"/><circle cx="731.0" cy="302.5" r="2.75"/><circle cx="731.0" cy="329.7" r="2.75"/><circle cx="731.0" cy="276.8" r="2.75"/><circle cx="731.2" cy="270.3" r="2.75"/><circle cx="730.9" cy="327.8" r="2.75"/><circle cx="732.0" cy="310.9" r="2.75"/><circle cx="731.8" cy="337.8" r="2.75"/><circle cx="731.6" cy="331.2" r="2.75"/><circle cx="731.7" cy="240.7" r="2.75"/><circle cx="731.9" cy="336.8" r="2.75"/><circle cx="732.6" cy="273.2" r="2.75"/><circle cx="731.9" cy="336.6" r="2.75"/><circle cx="732.6" cy="264.4" r="2.75"/><circle cx="732.5" cy="263.4" r="2.75"/><circle cx="733.2" cy="327.8" r="2.75"/><circle cx="732.8" cy="330.3" r="2.75"/><circle cx="733.7" cy="302.6" r="2.75"/><circle cx="733.0" cy="291.2" r="2.75"/><circle cx="733.6" cy="301.0" r="2.75"/><circle cx="733.3" cy="311.7" r="2.75"/><circle cx="733.7" cy="289.0" r="2.75"/><circle cx="733.9" cy="295.2" r="2.75"/><circle cx="733.8" cy="330.9" r="2.75"/><circle cx="734.1" cy="294.0" r="2.75"/><circle cx="734.0" cy="295.7" r="2.75"/><circle cx="734.3" cy="292.9" r="2.75"/><circle cx="734.4" cy="301.8" r="2.75"/><circle cx="734.6" cy="329.4" r="2.75"/><circle cx="735.3" cy="287.4" r="2.75"/><circle cx="734.8" cy="300.6" r="2.75"/><circle cx="735.4" cy="312.3" r="2.75"/><circle cx="735.3" cy="290.2" r="2.75"/><circle cx="736.0" cy="339.5" r="2.75"/><circle cx="735.7" cy="315.3" r="2.75"/><circle cx="736.0" cy="302.9" r="2.75"/><circle cx="735.6" cy="258.6" r="2.75"/><circle cx="736.4" cy="321.3" r="2.75"/><circle cx="736.1" cy="288.2" r="2.75"/><circle cx="735.8" cy="315.6" r="2.75"/><circle cx="736.4" cy="297.1" r="2.75"/><circle cx="736.5" cy="324.8" r="2.75"/><circle cx="736.4" cy="314.6" r="2.75"/><circle cx="736.9" cy="302.5" r="2.75"/><circle cx="737.0" cy="309.6" r="2.75"/><circle cx="737.6" cy="337.1" r="2.75"/><circle cx="737.6" cy="339.5" r="2.75"/><circle cx="738.1" cy="341.6" r="2.75"/><circle cx="738.1" cy="309.8" r="2.75"/><circle cx="738.0" cy="353.6" r="2.75"/><circle cx="737.5" cy="339.1" r="2.75"/><circle cx="738.4" cy="320.7" r="2.75"/><circle cx="738.3" cy="347.7" r="2.75"/><circle cx="738.2" cy="347.1" r="2.75"/><circle cx="738.3" cy="290.8" r="2.75"/><circle cx="738.7" cy="311.9" r="2.75"/><circle cx="739.2" cy="347.1" r="2.75"/><circle cx="738.6" cy="335.3" r="2.75"/><circle cx="739.7" cy="327.7" r="2.75"/><circle cx="739.4" cy="357.8" r="2.75"/><circle cx="739.7" cy="342.3" r="2.75"/><circle cx="740.0" cy="323.1" r="2.75"/><circle cx="740.0" cy="347.7" r="2.75"/><circle cx="740.0" cy="343.7" r="2.75"/><circle cx="739.6" cy="330.1" r="2.75"/><circle cx="740.2" cy="360.4" r="2.75"/><circle cx="740.9" cy="339.4" r="2.75"/><circle cx="740.2" cy="347.2" r="2.75"/><circle cx="740.4" cy="318.9" r="2.75"/><circle cx="740.5" cy="280.9" r="2.75"/><circle cx="741.2" cy="334.7" r="2.75"/><circle cx="741.1" cy="339.5" r="2.75"/><circle cx="741.0" cy="349.6" r="2.75"/><circle cx="741.4" cy="338.9" r="2.75"/><circle cx="741.7" cy="343.0" r="2.75"/><circle cx="742.0" cy="335.7" r="2.75"/><circle cx="741.8" cy="345.5" r="2.75"/><circle cx="742.0" cy="350.5" r="2.75"/><circle cx="741.6" cy="351.8" r="2.75"/><circle cx="742.5" cy="356.6" r="2.75"/><circle cx="742.2" cy="339.3" r="2.75"/><circle cx="742.4" cy="343.1" r="2.75"/><circle cx="742.3" cy="340.5" r="2.75"/><circle cx="742.8" cy="341.9" r="2.75"/><circle cx="743.1" cy="347.8" r="2.75"/><circle cx="742.7" cy="348.4" r="2.75"/><circle cx="742.7" cy="317.3" r="2.75"/><circle cx="743.6" cy="348.7" r="2.75"/><circle cx="742.9" cy="351.3" r="2.75"/><circle cx="743.4" cy="341.8" r="2.75"/><circle cx="743.0" cy="329.9" r="2.75"/><circle cx="743.3" cy="317.8" r="2.75"/><circle cx="744.1" cy="332.4" r="2.75"/><circle cx="744.1" cy="339.2" r="2.75"/><circle cx="743.7" cy="359.7" r="2.75"/><circle cx="744.4" cy="347.5" r="2.75"/><circle cx="744.4" cy="364.7" r="2.75"/><circle cx="744.2" cy="349.5" r="2.75"/><circle cx="745.1" cy="364.3" r="2.75"/><circle cx="744.9" cy="357.0" r="2.75"/><circle cx="745.1" cy="343.7" r="2.75"/><circle cx="744.7" cy="336.8" r="2.75"/><circle cx="745.7" cy="361.1" r="2.75"/><circle cx="745.8" cy="339.8" r="2.75"/><circle cx="745.3" cy="344.7" r="2.75"/><circle cx="745.1" cy="364.3" r="2.75"/><circle cx="746.2" cy="351.0" r="2.75"/><circle cx="746.0" cy="357.4" r="2.75"/><circle cx="746.3" cy="365.1" r="2.75"/><circle cx="745.8" cy="366.1" r="2.75"/><circle cx="746.4" cy="363.4" r="2.75"/><circle cx="746.8" cy="341.6" r="2.75"/><circle cx="747.0" cy="360.1" r="2.75"/><circle cx="746.3" cy="356.1" r="2.75"/><circle cx="747.1" cy="350.9" r="2.75"/><circle cx="747.4" cy="349.5" r="2.75"/><circle cx="747.0" cy="333.9" r="2.75"/><circle cx="747.9" cy="344.5" r="2.75"/><circle cx="748.0" cy="337.0" r="2.75"/><circle cx="748.1" cy="353.3" r="2.75"/><circle cx="747.8" cy="344.7" r="2.75"/><circle cx="747.4" cy="340.5" r="2.75"/><circle cx="748.0" cy="346.8" r="2.75"/><circle cx="748.4" cy="358.0" r="2.75"/><circle cx="748.1" cy="365.9" r="2.75"/><circle cx="748.6" cy="365.5" r="2.75"/><circle cx="748.6" cy="347.3" r="2.75"/><circle cx="748.7" cy="361.8" r="2.75"/><circle cx="748.8" cy="347.6" r="2.75"/><circle cx="748.4" cy="353.9" r="2.75"/><circle cx="748.8" cy="364.1" r="2.75"/><circle cx="749.0" cy="353.5" r="2.75"/><circle cx="749.2" cy="366.0" r="2.75"/><circle cx="749.3" cy="352.9" r="2.75"/><circle cx="749.7" cy="350.1" r="2.75"/><circle cx="749.6" cy="348.8" r="2.75"/><circle cx="750.2" cy="346.9" r="2.75"/><circle cx="750.2" cy="362.8" r="2.75"/><circle cx="749.8" cy="342.1" r="2.75"/><circle cx="749.8" cy="354.6" r="2.75"/><circle cx="750.1" cy="358.7" r="2.75"/><circle cx="750.4" cy="358.0" r="2.75"/><circle cx="750.1" cy="340.0" r="2.75"/><circle cx="750.8" cy="346.5" r="2.75"/><circle cx="750.2" cy="358.8" r="2.75"/><circle cx="751.2" cy="349.9" r="2.75"/><circle cx="750.6" cy="342.3" r="2.75"/><circle cx="751.4" cy="343.0" r="2.75"/><circle cx="750.8" cy="367.2" r="2.75"/><circle cx="751.2" cy="358.1" r="2.75"/><circle cx="751.6" cy="355.9" r="2.75"/><circle cx="751.9" cy="365.6" r="2.75"/><circle cx="752.2" cy="355.2" r="2.75"/><circle cx="752.2" cy="361.9" r="2.75"/><circle cx="752.3" cy="344.8" r="2.75"/><circle cx="751.7" cy="347.6" r="2.75"/><circle cx="752.8" cy="355.8" r="2.75"/><circle cx="752.7" cy="363.5" r="2.75"/><circle cx="752.4" cy="351.4" r="2.75"/><circle cx="753.3" cy="367.9" r="2.75"/><circle cx="752.8" cy="355.8" r="2.75"/><circle cx="753.4" cy="366.2" r="2.75"/><circle cx="753.4" cy="361.1" r="2.75"/><circle cx="754.0" cy="355.3" r="2.75"/><circle cx="753.7" cy="364.3" r="2.75"/><circle cx="753.7" cy="357.7" r="2.75"/><circle cx="753.6" cy="359.4" r="2.75"/><circle cx="754.4" cy="367.7" r="2.75"/><circle cx="754.5" cy="352.8" r="2.75"/><circle cx="754.3" cy="363.5" r="2.75"/><circle cx="754.4" cy="364.1" r="2.75"/><circle cx="754.5" cy="361.4" r="2.75"/><circle cx="754.7" cy="366.1" r="2.75"/><circle cx="755.2" cy="365.8" r="2.75"/><circle cx="755.0" cy="364.7" r="2.75"/><circle cx="755.6" cy="358.7" r="2.75"/><circle cx="755.8" cy="363.7" r="2.75"/><circle cx="755.6" cy="360.6" r="2.75"/><circle cx="755.3" cy="354.3" r="2.75"/><circle cx="755.9" cy="357.7" r="2.75"/><circle cx="755.8" cy="368.7" r="2.75"/><circle cx="756.1" cy="369.8" r="2.75"/><circle cx="755.9" cy="363.1" r="2.75"/><circle cx="755.9" cy="353.1" r="2.75"/><circle cx="756.9" cy="358.8" r="2.75"/><circle cx="756.4" cy="367.4" r="2.75"/><circle cx="756.5" cy="363.2" r="2.75"/><circle cx="756.6" cy="361.8" r="2.75"/><circle cx="756.2" cy="363.8" r="2.75"/><circle cx="756.5" cy="343.4" r="2.75"/><circle cx="757.1" cy="369.0" r="2.75"/><circle cx="757.3" cy="359.7" r="2.75"/><circle cx="757.4" cy="364.1" r="2.75"/><circle cx="757.4" cy="363.9" r="2.75"/><circle cx="757.4" cy="368.2" r="2.75"/><circle cx="757.5" cy="369.5" r="2.75"/><circle cx="757.7" cy="363.2" r="2.75"/><circle cx="757.6" cy="366.4" r="2.75"/><circle cx="757.7" cy="371.0" r="2.75"/><circle cx="757.8" cy="366.9" r="2.75"/><circle cx="758.2" cy="362.8" r="2.75"/><circle cx="758.0" cy="364.6" r="2.75"/><circle cx="758.3" cy="365.1" r="2.75"/><circle cx="758.1" cy="353.9" r="2.75"/><circle cx="758.6" cy="366.0" r="2.75"/><circle cx="758.9" cy="365.0" r="2.75"/><circle cx="759.0" cy="366.6" r="2.75"/><circle cx="758.9" cy="361.7" r="2.75"/><circle cx="759.5" cy="360.8" r="2.75"/><circle cx="759.1" cy="365.6" r="2.75"/><circle cx="759.4" cy="364.0" r="2.75"/><circle cx="759.2" cy="342.7" r="2.75"/><circle cx="760.0" cy="360.4" r="2.75"/><circle cx="759.7" cy="363.5" r="2.75"/><circle cx="759.6" cy="364.5" r="2.75"/><circle cx="759.7" cy="362.2" r="2.75"/><circle cx="760.7" cy="361.2" r="2.75"/><circle cx="760.1" cy="358.9" r="2.75"/><circle cx="760.1" cy="361.3" r="2.75"/><circle cx="760.2" cy="363.1" r="2.75"/><circle cx="760.6" cy="357.1" r="2.75"/><circle cx="761.1" cy="359.4" r="2.75"/><circle cx="761.0" cy="358.8" r="2.75"/><circle cx="761.1" cy="358.1" r="2.75"/><circle cx="761.2" cy="357.9" r="2.75"/><circle cx="761.6" cy="355.8" r="2.75"/><circle cx="761.6" cy="354.7" r="2.75"/><circle cx="761.7" cy="354.8" r="2.75"/><circle cx="761.6" cy="353.6" r="2.75"/><circle cx="762.4" cy="354.8" r="2.75"/><circle cx="762.3" cy="355.9" r="2.75"/><circle cx="762.0" cy="351.8" r="2.75"/><circle cx="762.6" cy="355.0" r="2.75"/><circle cx="762.2" cy="353.4" r="2.75"/><circle cx="762.7" cy="351.2" r="2.75"/><circle cx="762.5" cy="334.9" r="2.75"/><circle cx="763.0" cy="349.6" r="2.75"/><circle cx="762.9" cy="347.7" r="2.75"/><circle cx="762.9" cy="347.0" r="2.75"/><circle cx="762.9" cy="343.5" r="2.75"/><circle cx="763.4" cy="340.0" r="2.75"/><circle cx="763.8" cy="338.6" r="2.75"/><circle cx="763.7" cy="340.3" r="2.75"/><circle cx="763.9" cy="350.0" r="2.75"/><circle cx="764.2" cy="344.4" r="2.75"/><circle cx="764.1" cy="339.3" r="2.75"/><circle cx="764.2" cy="341.1" r="2.75"/><circle cx="764.2" cy="341.5" r="2.75"/><circle cx="764.5" cy="346.1" r="2.75"/><circle cx="764.7" cy="332.0" r="2.75"/><circle cx="764.4" cy="340.2" r="2.75"/><circle cx="764.8" cy="335.9" r="2.75"/><circle cx="765.5" cy="338.0" r="2.75"/><circle cx="765.2" cy="331.6" r="2.75"/><circle cx="765.6" cy="334.3" r="2.75"/><circle cx="765.6" cy="345.4" r="2.75"/><circle cx="765.0" cy="341.6" r="2.75"/><circle cx="765.9" cy="330.2" r="2.75"/><circle cx="766.1" cy="322.5" r="2.75"/><circle cx="766.2" cy="329.4" r="2.75"/><circle cx="766.2" cy="313.2" r="2.75"/><circle cx="765.8" cy="307.2" r="2.75"/><circle cx="766.6" cy="332.3" r="2.75"/><circle cx="766.8" cy="322.8" r="2.75"/><circle cx="766.5" cy="338.4" r="2.75"/><circle cx="766.0" cy="326.5" r="2.75"/><circle cx="766.1" cy="332.2" r="2.75"/><circle cx="766.7" cy="328.9" r="2.75"/><circle cx="767.0" cy="319.8" r="2.75"/><circle cx="767.0" cy="315.1" r="2.75"/><circle cx="766.6" cy="327.2" r="2.75"/><circle cx="767.3" cy="325.3" r="2.75"/><circle cx="767.2" cy="312.0" r="2.75"/><circle cx="767.5" cy="337.0" r="2.75"/><circle cx="767.2" cy="340.4" r="2.75"/><circle cx="767.5" cy="277.1" r="2.75"/><circle cx="767.7" cy="331.3" r="2.75"/><circle cx="768.3" cy="293.0" r="2.75"/><circle cx="767.8" cy="300.3" r="2.75"/><circle cx="767.8" cy="292.6" r="2.75"/><circle cx="768.9" cy="333.2" r="2.75"/><circle cx="768.5" cy="330.2" r="2.75"/><circle cx="768.2" cy="295.9" r="2.75"/><circle cx="768.9" cy="327.4" r="2.75"/><circle cx="769.3" cy="310.6" r="2.75"/><circle cx="769.3" cy="312.2" r="2.75"/><circle cx="769.2" cy="286.4" r="2.75"/><circle cx="768.9" cy="303.5" r="2.75"/><circle cx="769.1" cy="279.4" r="2.75"/><circle cx="770.0" cy="308.4" r="2.75"/><circle cx="769.4" cy="325.1" r="2.75"/><circle cx="769.8" cy="323.4" r="2.75"/><circle cx="770.0" cy="326.6" r="2.75"/><circle cx="770.2" cy="282.3" r="2.75"/><circle cx="770.3" cy="306.9" r="2.75"/><circle cx="769.9" cy="281.3" r="2.75"/><circle cx="770.7" cy="316.9" r="2.75"/><circle cx="770.9" cy="340.6" r="2.75"/><circle cx="770.6" cy="320.2" r="2.75"/><circle cx="770.9" cy="273.6" r="2.75"/><circle cx="771.3" cy="310.5" r="2.75"/><circle cx="771.4" cy="278.6" r="2.75"/><circle cx="771.1" cy="342.1" r="2.75"/><circle cx="771.1" cy="306.1" r="2.75"/><circle cx="772.1" cy="330.6" r="2.75"/><circle cx="771.5" cy="329.2" r="2.75"/><circle cx="771.6" cy="335.1" r="2.75"/><circle cx="771.5" cy="292.7" r="2.75"/><circle cx="772.2" cy="280.8" r="2.75"/><circle cx="772.2" cy="330.5" r="2.75"/><circle cx="772.8" cy="308.5" r="2.75"/><circle cx="772.5" cy="335.5" r="2.75"/><circle cx="772.7" cy="301.5" r="2.75"/><circle cx="773.1" cy="302.1" r="2.75"/><circle cx="772.7" cy="299.9" r="2.75"/><circle cx="772.9" cy="322.7" r="2.75"/><circle cx="773.0" cy="276.5" r="2.75"/><circle cx="773.5" cy="316.9" r="2.75"/><circle cx="773.6" cy="293.4" r="2.75"/><circle cx="773.4" cy="304.9" r="2.75"/><circle cx="773.5" cy="267.1" r="2.75"/><circle cx="773.9" cy="314.0" r="2.75"/><circle cx="773.8" cy="334.0" r="2.75"/><circle cx="774.4" cy="340.5" r="2.75"/><circle cx="773.8" cy="346.3" r="2.75"/><circle cx="773.9" cy="333.4" r="2.75"/><circle cx="774.9" cy="339.9" r="2.75"/><circle cx="775.0" cy="337.5" r="2.75"/><circle cx="774.6" cy="311.0" r="2.75"/><circle cx="774.9" cy="344.5" r="2.75"/><circle cx="774.6" cy="258.0" r="2.75"/><circle cx="775.1" cy="346.5" r="2.75"/><circle cx="775.6" cy="335.2" r="2.75"/><circle cx="775.3" cy="347.9" r="2.75"/><circle cx="775.6" cy="347.5" r="2.75"/><circle cx="775.3" cy="345.4" r="2.75"/><circle cx="775.7" cy="321.4" r="2.75"/><circle cx="776.0" cy="312.0" r="2.75"/><circle cx="775.7" cy="339.4" r="2.75"/><circle cx="775.5" cy="336.1" r="2.75"/><circle cx="776.3" cy="321.1" r="2.75"/><circle cx="776.7" cy="349.1" r="2.75"/><circle cx="776.2" cy="324.6" r="2.75"/><circle cx="776.1" cy="342.8" r="2.75"/><circle cx="776.1" cy="348.8" r="2.75"/><circle cx="776.5" cy="345.9" r="2.75"/><circle cx="777.0" cy="344.2" r="2.75"/><circle cx="776.8" cy="342.4" r="2.75"/><circle cx="776.5" cy="337.2" r="2.75"/><circle cx="777.1" cy="349.8" r="2.75"/><circle cx="777.4" cy="337.3" r="2.75"/><circle cx="777.2" cy="345.2" r="2.75"/><circle cx="777.2" cy="341.1" r="2.75"/><circle cx="778.0" cy="342.0" r="2.75"/><circle cx="778.1" cy="355.0" r="2.75"/><circle cx="777.7" cy="356.4" r="2.75"/><circle cx="778.1" cy="344.1" r="2.75"/><circle cx="778.2" cy="337.6" r="2.75"/><circle cx="778.6" cy="344.9" r="2.75"/><circle cx="778.1" cy="357.8" r="2.75"/><circle cx="778.1" cy="326.1" r="2.75"/><circle cx="778.8" cy="340.9" r="2.75"/><circle cx="778.9" cy="355.4" r="2.75"/><circle cx="779.2" cy="329.3" r="2.75"/><circle cx="778.8" cy="324.8" r="2.75"/><circle cx="778.8" cy="325.1" r="2.75"/><circle cx="779.1" cy="326.9" r="2.75"/><circle cx="779.0" cy="313.6" r="2.75"/><circle cx="779.5" cy="358.2" r="2.75"/><circle cx="779.5" cy="350.3" r="2.75"/><circle cx="779.7" cy="343.2" r="2.75"/><circle cx="779.2" cy="336.8" r="2.75"/><circle cx="780.4" cy="340.5" r="2.75"/><circle cx="780.1" cy="351.2" r="2.75"/><circle cx="780.1" cy="329.2" r="2.75"/><circle cx="780.2" cy="339.7" r="2.75"/><circle cx="780.4" cy="334.4" r="2.75"/><circle cx="780.8" cy="352.0" r="2.75"/><circle cx="780.9" cy="362.0" r="2.75"/><circle cx="780.7" cy="342.7" r="2.75"/><circle cx="781.6" cy="348.0" r="2.75"/><circle cx="781.2" cy="350.5" r="2.75"/><circle cx="781.1" cy="350.4" r="2.75"/><circle cx="780.9" cy="363.6" r="2.75"/><circle cx="782.2" cy="364.2" r="2.75"/><circle cx="781.9" cy="351.5" r="2.75"/><circle cx="781.6" cy="341.1" r="2.75"/><circle cx="781.8" cy="326.2" r="2.75"/><circle cx="782.7" cy="351.6" r="2.75"/><circle cx="782.0" cy="347.3" r="2.75"/><circle cx="782.3" cy="363.9" r="2.75"/><circle cx="782.1" cy="344.8" r="2.75"/><circle cx="782.6" cy="358.2" r="2.75"/><circle cx="782.6" cy="352.4" r="2.75"/><circle cx="782.7" cy="367.4" r="2.75"/><circle cx="782.9" cy="329.3" r="2.75"/><circle cx="783.1" cy="364.4" r="2.75"/><circle cx="783.6" cy="344.4" r="2.75"/><circle cx="783.8" cy="357.1" r="2.75"/><circle cx="783.2" cy="364.6" r="2.75"/><circle cx="783.5" cy="344.7" r="2.75"/><circle cx="783.9" cy="353.9" r="2.75"/><circle cx="784.4" cy="365.6" r="2.75"/><circle cx="783.7" cy="356.9" r="2.75"/><circle cx="783.7" cy="357.9" r="2.75"/><circle cx="784.0" cy="337.9" r="2.75"/><circle cx="784.3" cy="367.9" r="2.75"/><circle cx="784.6" cy="368.5" r="2.75"/><circle cx="784.4" cy="361.4" r="2.75"/><circle cx="784.5" cy="337.0" r="2.75"/><circle cx="784.9" cy="363.7" r="2.75"/><circle cx="785.2" cy="354.2" r="2.75"/><circle cx="785.4" cy="370.2" r="2.75"/><circle cx="784.8" cy="353.6" r="2.75"/><circle cx="785.9" cy="352.8" r="2.75"/><circle cx="785.8" cy="362.0" r="2.75"/><circle cx="785.5" cy="358.5" r="2.75"/><circle cx="786.0" cy="353.0" r="2.75"/><circle cx="786.2" cy="351.0" r="2.75"/><circle cx="786.6" cy="363.4" r="2.75"/><circle cx="786.4" cy="371.0" r="2.75"/><circle cx="786.1" cy="369.8" r="2.75"/><circle cx="787.0" cy="373.6" r="2.75"/><circle cx="786.6" cy="353.1" r="2.75"/><circle cx="786.8" cy="362.9" r="2.75"/><circle cx="786.9" cy="357.6" r="2.75"/><circle cx="786.7" cy="344.5" r="2.75"/><circle cx="787.2" cy="357.9" r="2.75"/><circle cx="787.5" cy="353.2" r="2.75"/><circle cx="787.1" cy="374.7" r="2.75"/><circle cx="788.2" cy="370.4" r="2.75"/><circle cx="788.0" cy="366.3" r="2.75"/><circle cx="788.1" cy="366.4" r="2.75"/><circle cx="788.3" cy="374.5" r="2.75"/><circle cx="788.2" cy="365.2" r="2.75"/><circle cx="788.3" cy="360.5" r="2.75"/><circle cx="789.1" cy="353.0" r="2.75"/><circle cx="788.8" cy="372.3" r="2.75"/><circle cx="788.6" cy="358.1" r="2.75"/><circle cx="789.2" cy="354.7" r="2.75"/><circle cx="788.6" cy="368.0" r="2.75"/><circle cx="789.1" cy="360.5" r="2.75"/><circle cx="789.4" cy="362.9" r="2.75"/><circle cx="789.4" cy="374.9" r="2.75"/><circle cx="789.8" cy="373.9" r="2.75"/><circle cx="789.2" cy="366.5" r="2.75"/><circle cx="790.2" cy="354.4" r="2.75"/><circle cx="789.8" cy="363.2" r="2.75"/><circle cx="789.9" cy="366.0" r="2.75"/><circle cx="791.0" cy="371.4" r="2.75"/><circle cx="790.7" cy="368.0" r="2.75"/><circle cx="790.8" cy="360.8" r="2.75"/><circle cx="790.3" cy="365.9" r="2.75"/><circle cx="791.3" cy="368.1" r="2.75"/><circle cx="791.2" cy="370.4" r="2.75"/><circle cx="791.4" cy="368.5" r="2.75"/><circle cx="791.4" cy="358.3" r="2.75"/><circle cx="791.4" cy="366.5" r="2.75"/><circle cx="791.4" cy="344.9" r="2.75"/><circle cx="791.8" cy="347.0" r="2.75"/><circle cx="791.8" cy="361.0" r="2.75"/><circle cx="791.6" cy="344.5" r="2.75"/><circle cx="791.9" cy="356.0" r="2.75"/><circle cx="791.9" cy="365.1" r="2.75"/><circle cx="792.5" cy="347.6" r="2.75"/><circle cx="792.4" cy="357.2" r="2.75"/><circle cx="792.3" cy="352.1" r="2.75"/><circle cx="792.2" cy="330.4" r="2.75"/><circle cx="792.8" cy="337.2" r="2.75"/><circle cx="792.9" cy="353.3" r="2.75"/><circle cx="792.8" cy="353.8" r="2.75"/><circle cx="793.2" cy="351.6" r="2.75"/><circle cx="792.8" cy="323.4" r="2.75"/><circle cx="793.5" cy="348.5" r="2.75"/><circle cx="793.5" cy="347.4" r="2.75"/><circle cx="793.3" cy="359.3" r="2.75"/><circle cx="793.5" cy="351.6" r="2.75"/><circle cx="794.2" cy="336.8" r="2.75"/><circle cx="793.9" cy="357.4" r="2.75"/><circle cx="793.8" cy="332.8" r="2.75"/><circle cx="794.0" cy="337.1" r="2.75"/><circle cx="794.1" cy="352.1" r="2.75"/><circle cx="794.7" cy="322.9" r="2.75"/><circle cx="794.5" cy="351.0" r="2.75"/><circle cx="794.8" cy="355.6" r="2.75"/><circle cx="794.6" cy="356.2" r="2.75"/><circle cx="794.5" cy="329.0" r="2.75"/><circle cx="795.3" cy="339.5" r="2.75"/><circle cx="794.8" cy="343.6" r="2.75"/><circle cx="794.7" cy="332.3" r="2.75"/><circle cx="795.3" cy="326.3" r="2.75"/><circle cx="795.8" cy="337.3" r="2.75"/><circle cx="795.3" cy="329.2" r="2.75"/><circle cx="795.5" cy="309.8" r="2.75"/><circle cx="796.4" cy="316.3" r="2.75"/><circle cx="795.9" cy="347.6" r="2.75"/><circle cx="796.1" cy="325.3" r="2.75"/><circle cx="796.4" cy="311.1" r="2.75"/><circle cx="796.1" cy="297.7" r="2.75"/><circle cx="796.9" cy="325.8" r="2.75"/><circle cx="796.9" cy="315.7" r="2.75"/><circle cx="796.7" cy="344.8" r="2.75"/><circle cx="797.6" cy="306.3" r="2.75"/><circle cx="797.4" cy="308.0" r="2.75"/><circle cx="797.0" cy="303.2" r="2.75"/><circle cx="798.1" cy="303.8" r="2.75"/><circle cx="797.8" cy="338.2" r="2.75"/><circle cx="797.6" cy="293.2" r="2.75"/><circle cx="797.7" cy="309.1" r="2.75"/><circle cx="798.1" cy="287.8" r="2.75"/><circle cx="798.2" cy="329.1" r="2.75"/><circle cx="798.0" cy="299.4" r="2.75"/><circle cx="798.2" cy="286.0" r="2.75"/><circle cx="798.2" cy="319.0" r="2.75"/><circle cx="798.8" cy="303.6" r="2.75"/><circle cx="798.9" cy="278.1" r="2.75"/><circle cx="798.5" cy="330.2" r="2.75"/><circle cx="798.5" cy="319.9" r="2.75"/><circle cx="799.0" cy="277.8" r="2.75"/><circle cx="799.0" cy="306.7" r="2.75"/><circle cx="799.3" cy="333.1" r="2.75"/><circle cx="799.4" cy="304.1" r="2.75"/><circle cx="799.4" cy="263.2" r="2.75"/><circle cx="799.9" cy="269.1" r="2.75"/><circle cx="799.9" cy="285.4" r="2.75"/><circle cx="800.1" cy="337.2" r="2.75"/><circle cx="799.7" cy="324.9" r="2.75"/><circle cx="800.3" cy="288.0" r="2.75"/><circle cx="800.8" cy="325.9" r="2.75"/><circle cx="800.5" cy="302.9" r="2.75"/><circle cx="800.6" cy="330.0" r="2.75"/><circle cx="800.5" cy="248.2" r="2.75"/><circle cx="800.9" cy="328.8" r="2.75"/><circle cx="801.3" cy="328.8" r="2.75"/><circle cx="801.2" cy="257.1" r="2.75"/><circle cx="801.0" cy="322.6" r="2.75"/><circle cx="801.8" cy="325.5" r="2.75"/><circle cx="801.3" cy="269.1" r="2.75"/><circle cx="801.8" cy="310.8" r="2.75"/><circle cx="801.9" cy="243.2" r="2.75"/><circle cx="801.2" cy="294.2" r="2.75"/><circle cx="802.2" cy="251.5" r="2.75"/><circle cx="802.1" cy="275.5" r="2.75"/><circle cx="801.9" cy="317.1" r="2.75"/><circle cx="802.2" cy="293.0" r="2.75"/><circle cx="802.1" cy="220.1" r="2.75"/><circle cx="802.4" cy="289.2" r="2.75"/><circle cx="802.3" cy="267.0" r="2.75"/><circle cx="803.0" cy="309.4" r="2.75"/><circle cx="802.9" cy="289.7" r="2.75"/><circle cx="803.0" cy="253.9" r="2.75"/><circle cx="803.1" cy="300.8" r="2.75"/><circle cx="803.0" cy="300.5" r="2.75"/><circle cx="803.6" cy="326.0" r="2.75"/><circle cx="803.6" cy="327.6" r="2.75"/><circle cx="804.0" cy="257.2" r="2.75"/><circle cx="803.6" cy="321.7" r="2.75"/><circle cx="804.2" cy="239.8" r="2.75"/><circle cx="804.2" cy="242.3" r="2.75"/><circle cx="804.6" cy="321.5" r="2.75"/><circle cx="804.4" cy="325.6" r="2.75"/><circle cx="804.5" cy="302.7" r="2.75"/><circle cx="804.2" cy="243.4" r="2.75"/><circle cx="805.3" cy="253.5" r="2.75"/><circle cx="805.2" cy="324.2" r="2.75"/><circle cx="805.2" cy="314.6" r="2.75"/><circle cx="805.0" cy="312.8" r="2.75"/><circle cx="804.9" cy="207.5" r="2.75"/><circle cx="805.1" cy="228.5" r="2.75"/><circle cx="805.4" cy="303.6" r="2.75"/><circle cx="805.8" cy="318.3" r="2.75"/><circle cx="806.2" cy="296.6" r="2.75"/><circle cx="806.1" cy="267.2" r="2.75"/><circle cx="806.3" cy="231.4" r="2.75"/><circle cx="806.2" cy="302.0" r="2.75"/><circle cx="806.5" cy="241.7" r="2.75"/><circle cx="806.7" cy="310.3" r="2.75"/><circle cx="806.9" cy="242.5" r="2.75"/><circle cx="806.8" cy="318.9" r="2.75"/><circle cx="806.5" cy="183.5" r="2.75"/><circle cx="806.7" cy="297.0" r="2.75"/><circle cx="807.2" cy="314.5" r="2.75"/><circle cx="807.2" cy="302.1" r="2.75"/><circle cx="807.0" cy="264.7" r="2.75"/><circle cx="807.1" cy="206.3" r="2.75"/><circle cx="807.7" cy="313.1" r="2.75"/><circle cx="807.6" cy="226.8" r="2.75"/><circle cx="807.3" cy="278.1" r="2.75"/><circle cx="807.8" cy="275.3" r="2.75"/><circle cx="808.3" cy="290.9" r="2.75"/><circle cx="808.3" cy="314.5" r="2.75"/><circle cx="807.8" cy="265.0" r="2.75"/><circle cx="808.3" cy="311.5" r="2.75"/><circle cx="809.0" cy="313.7" r="2.75"/><circle cx="808.7" cy="326.3" r="2.75"/><circle cx="808.7" cy="317.8" r="2.75"/><circle cx="808.6" cy="217.8" r="2.75"/><circle cx="809.0" cy="259.3" r="2.75"/><circle cx="809.4" cy="316.0" r="2.75"/><circle cx="809.5" cy="303.6" r="2.75"/><circle cx="809.3" cy="230.9" r="2.75"/><circle cx="808.9" cy="263.8" r="2.75"/><circle cx="809.7" cy="287.1" r="2.75"/><circle cx="809.9" cy="260.0" r="2.75"/><circle cx="810.0" cy="270.2" r="2.75"/><circle cx="810.1" cy="261.6" r="2.75"/><circle cx="810.3" cy="225.9" r="2.75"/><circle cx="810.7" cy="255.1" r="2.75"/><circle cx="810.6" cy="306.4" r="2.75"/><circle cx="810.7" cy="288.9" r="2.75"/><circle cx="810.7" cy="262.0" r="2.75"/><circle cx="811.2" cy="230.2" r="2.75"/><circle cx="811.0" cy="282.6" r="2.75"/><circle cx="811.6" cy="291.6" r="2.75"/><circle cx="811.9" cy="235.1" r="2.75"/><circle cx="811.3" cy="279.7" r="2.75"/><circle cx="812.2" cy="311.0" r="2.75"/><circle cx="811.7" cy="216.8" r="2.75"/><circle cx="812.0" cy="239.5" r="2.75"/><circle cx="812.3" cy="270.3" r="2.75"/><circle cx="812.1" cy="325.7" r="2.75"/><circle cx="812.0" cy="197.5" r="2.75"/><circle cx="812.5" cy="318.6" r="2.75"/><circle cx="812.8" cy="288.5" r="2.75"/><circle cx="812.6" cy="276.0" r="2.75"/><circle cx="812.4" cy="297.6" r="2.75"/><circle cx="812.9" cy="310.9" r="2.75"/><circle cx="813.4" cy="312.9" r="2.75"/><circle cx="813.4" cy="301.9" r="2.75"/><circle cx="813.3" cy="298.2" r="2.75"/><circle cx="814.0" cy="280.1" r="2.75"/><circle cx="813.4" cy="296.0" r="2.75"/><circle cx="813.9" cy="300.4" r="2.75"/><circle cx="813.9" cy="258.0" r="2.75"/><circle cx="814.5" cy="278.6" r="2.75"/><circle cx="814.4" cy="314.3" r="2.75"/><circle cx="813.9" cy="253.3" r="2.75"/><circle cx="814.0" cy="265.3" r="2.75"/><circle cx="813.9" cy="319.7" r="2.75"/><circle cx="814.2" cy="160.4" r="2.75"/><circle cx="814.5" cy="221.2" r="2.75"/><circle cx="814.9" cy="218.9" r="2.75"/><circle cx="815.2" cy="289.7" r="2.75"/><circle cx="814.6" cy="253.2" r="2.75"/><circle cx="814.5" cy="243.8" r="2.75"/><circle cx="814.8" cy="201.4" r="2.75"/><circle cx="815.4" cy="266.4" r="2.75"/><circle cx="815.2" cy="315.1" r="2.75"/><circle cx="815.3" cy="238.9" r="2.75"/><circle cx="815.2" cy="271.9" r="2.75"/><circle cx="815.4" cy="288.7" r="2.75"/><circle cx="816.0" cy="243.9" r="2.75"/><circle cx="816.1" cy="309.4" r="2.75"/><circle cx="815.6" cy="245.4" r="2.75"/><circle cx="816.2" cy="322.4" r="2.75"/><circle cx="816.3" cy="217.3" r="2.75"/><circle cx="816.1" cy="315.9" r="2.75"/><circle cx="816.1" cy="250.9" r="2.75"/><circle cx="816.3" cy="313.0" r="2.75"/><circle cx="816.3" cy="222.3" r="2.75"/><circle cx="816.4" cy="200.6" r="2.75"/><circle cx="817.0" cy="223.8" r="2.75"/><circle cx="817.0" cy="217.4" r="2.75"/><circle cx="816.8" cy="305.0" r="2.75"/><circle cx="816.8" cy="306.4" r="2.75"/><circle cx="817.6" cy="206.3" r="2.75"/><circle cx="817.7" cy="276.4" r="2.75"/><circle cx="817.7" cy="317.5" r="2.75"/><circle cx="817.3" cy="240.4" r="2.75"/><circle cx="818.5" cy="239.7" r="2.75"/><circle cx="818.0" cy="272.6" r="2.75"/><circle cx="818.1" cy="308.1" r="2.75"/><circle cx="818.2" cy="215.3" r="2.75"/><circle cx="818.4" cy="318.6" r="2.75"/><circle cx="818.6" cy="216.5" r="2.75"/><circle cx="819.0" cy="277.2" r="2.75"/><circle cx="818.6" cy="241.2" r="2.75"/><circle cx="818.9" cy="253.6" r="2.75"/><circle cx="819.3" cy="223.6" r="2.75"/><circle cx="818.9" cy="226.8" r="2.75"/><circle cx="819.3" cy="279.6" r="2.75"/><circle cx="819.5" cy="300.3" r="2.75"/><circle cx="819.0" cy="226.8" r="2.75"/><circle cx="819.2" cy="196.4" r="2.75"/><circle cx="819.5" cy="282.7" r="2.75"/><circle cx="819.9" cy="307.7" r="2.75"/><circle cx="819.5" cy="307.5" r="2.75"/><circle cx="820.1" cy="247.8" r="2.75"/><circle cx="820.3" cy="262.2" r="2.75"/><circle cx="820.0" cy="261.5" r="2.75"/><circle cx="820.5" cy="242.7" r="2.75"/><circle cx="821.2" cy="293.1" r="2.75"/><circle cx="820.7" cy="309.0" r="2.75"/><circle cx="820.5" cy="279.2" r="2.75"/><circle cx="821.2" cy="285.2" r="2.75"/><circle cx="821.4" cy="272.0" r="2.75"/><circle cx="821.8" cy="251.8" r="2.75"/><circle cx="821.4" cy="292.0" r="2.75"/><circle cx="821.1" cy="233.2" r="2.75"/><circle cx="822.3" cy="294.4" r="2.75"/><circle cx="822.0" cy="221.0" r="2.75"/><circle cx="822.1" cy="297.0" r="2.75"/><circle cx="821.7" cy="287.2" r="2.75"/><circle cx="822.1" cy="265.9" r="2.75"/><circle cx="821.9" cy="198.8" r="2.75"/><circle cx="822.8" cy="274.9" r="2.75"/><circle cx="822.2" cy="269.3" r="2.75"/><circle cx="822.8" cy="239.4" r="2.75"/><circle cx="822.9" cy="204.0" r="2.75"/><circle cx="823.2" cy="215.7" r="2.75"/><circle cx="822.7" cy="221.2" r="2.75"/><circle cx="823.0" cy="196.2" r="2.75"/><circle cx="823.9" cy="252.0" r="2.75"/><circle cx="823.4" cy="229.2" r="2.75"/><circle cx="823.2" cy="202.0" r="2.75"/><circle cx="823.9" cy="291.0" r="2.75"/><circle cx="823.6" cy="197.8" r="2.75"/><circle cx="824.2" cy="233.0" r="2.75"/><circle cx="824.3" cy="298.9" r="2.75"/><circle cx="824.2" cy="236.8" r="2.75"/><circle cx="824.4" cy="237.9" r="2.75"/><circle cx="824.6" cy="295.5" r="2.75"/><circle cx="824.8" cy="301.0" r="2.75"/><circle cx="824.8" cy="233.2" r="2.75"/><circle cx="824.4" cy="239.1" r="2.75"/><circle cx="824.7" cy="187.2" r="2.75"/><circle cx="825.0" cy="208.3" r="2.75"/><circle cx="825.6" cy="274.1" r="2.75"/><circle cx="825.0" cy="254.4" r="2.75"/><circle cx="824.9" cy="293.3" r="2.75"/><circle cx="826.1" cy="266.6" r="2.75"/><circle cx="825.9" cy="268.4" r="2.75"/><circle cx="825.7" cy="238.6" r="2.75"/><circle cx="825.6" cy="263.4" r="2.75"/><circle cx="826.1" cy="278.1" r="2.75"/><circle cx="826.2" cy="200.7" r="2.75"/><circle cx="826.6" cy="250.2" r="2.75"/><circle cx="826.4" cy="261.6" r="2.75"/><circle cx="826.9" cy="274.7" r="2.75"/><circle cx="826.7" cy="262.5" r="2.75"/><circle cx="826.9" cy="214.6" r="2.75"/><circle cx="827.4" cy="198.3" r="2.75"/><circle cx="827.4" cy="298.5" r="2.75"/><circle cx="827.5" cy="301.2" r="2.75"/><circle cx="827.6" cy="276.8" r="2.75"/><circle cx="827.7" cy="223.0" r="2.75"/><circle cx="827.7" cy="260.2" r="2.75"/><circle cx="828.1" cy="272.3" r="2.75"/><circle cx="828.3" cy="255.0" r="2.75"/><circle cx="828.6" cy="258.8" r="2.75"/><circle cx="828.4" cy="260.8" r="2.75"/><circle cx="828.9" cy="210.1" r="2.75"/><circle cx="828.4" cy="235.8" r="2.75"/><circle cx="829.0" cy="234.4" r="2.75"/><circle cx="829.3" cy="251.0" r="2.75"/><circle cx="828.8" cy="281.0" r="2.75"/><circle cx="829.5" cy="303.8" r="2.75"/><circle cx="829.6" cy="271.5" r="2.75"/><circle cx="829.3" cy="207.3" r="2.75"/><circle cx="829.8" cy="268.4" r="2.75"/><circle cx="829.9" cy="271.0" r="2.75"/><circle cx="830.3" cy="270.3" r="2.75"/><circle cx="830.3" cy="264.3" r="2.75"/><circle cx="829.9" cy="265.6" r="2.75"/><circle cx="830.4" cy="277.7" r="2.75"/><circle cx="830.6" cy="250.9" r="2.75"/><circle cx="830.8" cy="247.3" r="2.75"/><circle cx="830.4" cy="236.1" r="2.75"/><circle cx="831.0" cy="217.2" r="2.75"/><circle cx="830.8" cy="221.1" r="2.75"/><circle cx="831.6" cy="207.8" r="2.75"/><circle cx="831.7" cy="192.3" r="2.75"/><circle cx="831.3" cy="303.1" r="2.75"/><circle cx="831.3" cy="275.3" r="2.75"/><circle cx="831.3" cy="185.9" r="2.75"/><circle cx="832.1" cy="235.5" r="2.75"/><circle cx="832.2" cy="273.4" r="2.75"/><circle cx="831.5" cy="294.9" r="2.75"/><circle cx="831.8" cy="268.1" r="2.75"/><circle cx="832.2" cy="222.7" r="2.75"/><circle cx="832.7" cy="266.5" r="2.75"/><circle cx="832.5" cy="201.0" r="2.75"/><circle cx="832.2" cy="259.8" r="2.75"/><circle cx="832.2" cy="218.8" r="2.75"/><circle cx="833.3" cy="243.5" r="2.75"/><circle cx="833.1" cy="257.2" r="2.75"/><circle cx="833.3" cy="275.9" r="2.75"/><circle cx="833.0" cy="221.2" r="2.75"/><circle cx="833.1" cy="280.8" r="2.75"/><circle cx="833.4" cy="283.8" r="2.75"/><circle cx="833.3" cy="280.8" r="2.75"/><circle cx="833.3" cy="298.9" r="2.75"/><circle cx="833.5" cy="299.9" r="2.75"/><circle cx="833.6" cy="249.5" r="2.75"/><circle cx="834.4" cy="267.3" r="2.75"/><circle cx="833.7" cy="286.7" r="2.75"/><circle cx="833.7" cy="311.2" r="2.75"/><circle cx="834.3" cy="202.4" r="2.75"/><circle cx="833.7" cy="234.2" r="2.75"/><circle cx="834.0" cy="184.0" r="2.75"/><circle cx="834.3" cy="196.2" r="2.75"/><circle cx="834.2" cy="194.6" r="2.75"/><circle cx="834.6" cy="238.9" r="2.75"/><circle cx="834.7" cy="308.8" r="2.75"/><circle cx="834.7" cy="297.6" r="2.75"/><circle cx="835.0" cy="257.4" r="2.75"/><circle cx="835.1" cy="283.6" r="2.75"/><circle cx="834.9" cy="252.0" r="2.75"/><circle cx="835.4" cy="218.6" r="2.75"/><circle cx="835.4" cy="269.3" r="2.75"/><circle cx="835.4" cy="229.5" r="2.75"/><circle cx="835.9" cy="260.4" r="2.75"/><circle cx="835.9" cy="227.7" r="2.75"/><circle cx="836.6" cy="240.6" r="2.75"/><circle cx="836.3" cy="254.6" r="2.75"/><circle cx="835.9" cy="221.1" r="2.75"/><circle cx="836.5" cy="295.6" r="2.75"/><circle cx="836.4" cy="201.0" r="2.75"/><circle cx="837.0" cy="299.3" r="2.75"/><circle cx="837.5" cy="216.8" r="2.75"/><circle cx="837.4" cy="308.4" r="2.75"/><circle cx="837.4" cy="252.9" r="2.75"/><circle cx="837.6" cy="280.1" r="2.75"/><circle cx="838.2" cy="196.5" r="2.75"/><circle cx="837.6" cy="294.9" r="2.75"/><circle cx="838.0" cy="226.7" r="2.75"/><circle cx="837.5" cy="230.5" r="2.75"/><circle cx="838.1" cy="231.0" r="2.75"/><circle cx="838.3" cy="306.2" r="2.75"/><circle cx="838.7" cy="248.0" r="2.75"/><circle cx="838.4" cy="239.0" r="2.75"/><circle cx="838.7" cy="205.3" r="2.75"/><circle cx="838.6" cy="285.3" r="2.75"/><circle cx="839.0" cy="255.9" r="2.75"/><circle cx="839.2" cy="216.6" r="2.75"/><circle cx="838.9" cy="230.2" r="2.75"/><circle cx="839.6" cy="278.8" r="2.75"/><circle cx="839.4" cy="259.3" r="2.75"/><circle cx="839.5" cy="278.7" r="2.75"/><circle cx="839.8" cy="267.9" r="2.75"/><circle cx="839.6" cy="249.7" r="2.75"/><circle cx="839.5" cy="187.5" r="2.75"/><circle cx="840.4" cy="245.5" r="2.75"/><circle cx="839.8" cy="281.3" r="2.75"/><circle cx="839.9" cy="262.4" r="2.75"/><circle cx="840.3" cy="272.1" r="2.75"/><circle cx="840.3" cy="282.0" r="2.75"/><circle cx="840.9" cy="226.9" r="2.75"/><circle cx="840.4" cy="282.1" r="2.75"/><circle cx="840.9" cy="256.9" r="2.75"/><circle cx="841.4" cy="225.6" r="2.75"/><circle cx="841.4" cy="232.9" r="2.75"/><circle cx="841.1" cy="254.9" r="2.75"/><circle cx="841.3" cy="268.8" r="2.75"/><circle cx="841.8" cy="287.0" r="2.75"/><circle cx="842.1" cy="290.4" r="2.75"/><circle cx="842.0" cy="285.7" r="2.75"/><circle cx="841.8" cy="273.1" r="2.75"/><circle cx="841.4" cy="228.2" r="2.75"/><circle cx="842.0" cy="267.4" r="2.75"/><circle cx="842.2" cy="248.0" r="2.75"/><circle cx="842.0" cy="291.2" r="2.75"/><circle cx="841.9" cy="291.3" r="2.75"/><circle cx="842.3" cy="186.7" r="2.75"/><circle cx="842.9" cy="205.3" r="2.75"/><circle cx="842.5" cy="290.0" r="2.75"/><circle cx="843.2" cy="258.9" r="2.75"/><circle cx="842.8" cy="261.7" r="2.75"/><circle cx="842.9" cy="270.4" r="2.75"/><circle cx="843.3" cy="283.5" r="2.75"/><circle cx="843.4" cy="259.0" r="2.75"/><circle cx="843.0" cy="240.1" r="2.75"/><circle cx="843.4" cy="231.1" r="2.75"/><circle cx="844.3" cy="206.8" r="2.75"/><circle cx="844.1" cy="207.1" r="2.75"/><circle cx="844.1" cy="280.2" r="2.75"/><circle cx="844.3" cy="217.1" r="2.75"/><circle cx="844.8" cy="289.0" r="2.75"/><circle cx="844.3" cy="276.5" r="2.75"/><circle cx="844.7" cy="236.8" r="2.75"/><circle cx="844.8" cy="268.4" r="2.75"/><circle cx="845.1" cy="295.5" r="2.75"/><circle cx="845.1" cy="267.5" r="2.75"/><circle cx="845.0" cy="251.2" r="2.75"/><circle cx="845.0" cy="185.7" r="2.75"/><circle cx="845.8" cy="255.0" r="2.75"/><circle cx="845.9" cy="205.7" r="2.75"/><circle cx="845.6" cy="240.2" r="2.75"/><circle cx="845.5" cy="296.0" r="2.75"/><circle cx="846.2" cy="284.0" r="2.75"/><circle cx="846.1" cy="228.6" r="2.75"/><circle cx="846.0" cy="249.7" r="2.75"/><circle cx="845.9" cy="260.2" r="2.75"/><circle cx="846.8" cy="242.2" r="2.75"/><circle cx="846.9" cy="248.4" r="2.75"/><circle cx="846.4" cy="280.8" r="2.75"/><circle cx="847.6" cy="232.0" r="2.75"/><circle cx="847.5" cy="238.3" r="2.75"/><circle cx="847.6" cy="227.6" r="2.75"/><circle cx="847.0" cy="269.2" r="2.75"/><circle cx="847.7" cy="235.4" r="2.75"/><circle cx="847.6" cy="229.4" r="2.75"/><circle cx="847.5" cy="229.1" r="2.75"/><circle cx="847.6" cy="270.5" r="2.75"/><circle cx="848.3" cy="278.6" r="2.75"/><circle cx="848.7" cy="302.3" r="2.75"/><circle cx="848.6" cy="278.0" r="2.75"/><circle cx="848.7" cy="296.9" r="2.75"/><circle cx="848.8" cy="209.1" r="2.75"/><circle cx="849.0" cy="242.2" r="2.75"/><circle cx="849.1" cy="198.0" r="2.75"/><circle cx="848.8" cy="210.0" r="2.75"/><circle cx="849.2" cy="259.3" r="2.75"/><circle cx="849.3" cy="307.4" r="2.75"/><circle cx="849.2" cy="283.2" r="2.75"/><circle cx="849.6" cy="271.8" r="2.75"/><circle cx="849.5" cy="234.1" r="2.75"/><circle cx="849.8" cy="251.3" r="2.75"/><circle cx="850.1" cy="272.0" r="2.75"/><circle cx="849.7" cy="312.4" r="2.75"/><circle cx="850.2" cy="249.1" r="2.75"/><circle cx="850.7" cy="285.6" r="2.75"/><circle cx="850.3" cy="259.1" r="2.75"/><circle cx="850.7" cy="263.9" r="2.75"/><circle cx="851.4" cy="295.3" r="2.75"/><circle cx="851.1" cy="275.6" r="2.75"/><circle cx="850.8" cy="295.6" r="2.75"/><circle cx="851.1" cy="270.4" r="2.75"/><circle cx="851.3" cy="267.5" r="2.75"/><circle cx="851.6" cy="313.5" r="2.75"/><circle cx="851.3" cy="314.1" r="2.75"/><circle cx="851.7" cy="273.9" r="2.75"/><circle cx="851.6" cy="214.1" r="2.75"/><circle cx="852.2" cy="331.1" r="2.75"/><circle cx="852.3" cy="306.5" r="2.75"/><circle cx="851.9" cy="281.3" r="2.75"/><circle cx="852.2" cy="297.8" r="2.75"/><circle cx="852.8" cy="226.2" r="2.75"/><circle cx="852.7" cy="313.8" r="2.75"/><circle cx="852.5" cy="267.6" r="2.75"/><circle cx="853.3" cy="272.3" r="2.75"/><circle cx="853.5" cy="275.1" r="2.75"/><circle cx="853.5" cy="277.1" r="2.75"/><circle cx="853.7" cy="268.6" r="2.75"/><circle cx="853.3" cy="212.4" r="2.75"/><circle cx="854.1" cy="297.4" r="2.75"/><circle cx="853.5" cy="301.8" r="2.75"/><circle cx="853.8" cy="325.3" r="2.75"/><circle cx="854.2" cy="290.1" r="2.75"/><circle cx="854.6" cy="320.5" r="2.75"/><circle cx="854.5" cy="312.4" r="2.75"/><circle cx="854.8" cy="331.9" r="2.75"/><circle cx="854.3" cy="314.9" r="2.75"/><circle cx="855.2" cy="280.6" r="2.75"/><circle cx="855.1" cy="287.3" r="2.75"/><circle cx="855.3" cy="258.5" r="2.75"/><circle cx="854.7" cy="309.8" r="2.75"/><circle cx="855.0" cy="247.9" r="2.75"/><circle cx="855.6" cy="329.6" r="2.75"/><circle cx="855.5" cy="291.8" r="2.75"/><circle cx="855.2" cy="284.5" r="2.75"/><circle cx="855.5" cy="219.5" r="2.75"/><circle cx="856.2" cy="323.3" r="2.75"/><circle cx="856.4" cy="283.3" r="2.75"/><circle cx="855.7" cy="291.1" r="2.75"/><circle cx="856.3" cy="290.7" r="2.75"/><circle cx="856.3" cy="271.9" r="2.75"/><circle cx="856.2" cy="261.2" r="2.75"/><circle cx="856.7" cy="307.3" r="2.75"/><circle cx="856.9" cy="331.0" r="2.75"/><circle cx="857.2" cy="256.4" r="2.75"/><circle cx="857.3" cy="333.9" r="2.75"/><circle cx="857.5" cy="321.3" r="2.75"/><circle cx="856.8" cy="274.3" r="2.75"/><circle cx="857.9" cy="256.8" r="2.75"/><circle cx="857.9" cy="263.5" r="2.75"/><circle cx="857.8" cy="305.6" r="2.75"/><circle cx="857.7" cy="234.9" r="2.75"/><circle cx="858.2" cy="305.3" r="2.75"/><circle cx="858.4" cy="257.1" r="2.75"/><circle cx="858.1" cy="311.1" r="2.75"/><circle cx="858.6" cy="309.2" r="2.75"/><circle cx="858.4" cy="313.2" r="2.75"/><circle cx="858.7" cy="260.8" r="2.75"/><circle cx="858.4" cy="329.4" r="2.75"/><circle cx="859.0" cy="259.5" r="2.75"/><circle cx="859.3" cy="257.4" r="2.75"/><circle cx="859.2" cy="248.1" r="2.75"/><circle cx="859.6" cy="253.6" r="2.75"/><circle cx="859.5" cy="296.6" r="2.75"/><circle cx="860.3" cy="288.4" r="2.75"/><circle cx="859.9" cy="284.8" r="2.75"/><circle cx="860.1" cy="299.8" r="2.75"/><circle cx="860.3" cy="295.7" r="2.75"/><circle cx="860.2" cy="267.2" r="2.75"/><circle cx="860.3" cy="308.7" r="2.75"/><circle cx="860.8" cy="282.9" r="2.75"/><circle cx="860.8" cy="299.9" r="2.75"/><circle cx="860.2" cy="288.4" r="2.75"/><circle cx="861.3" cy="320.9" r="2.75"/><circle cx="861.3" cy="322.0" r="2.75"/><circle cx="860.7" cy="265.0" r="2.75"/><circle cx="861.3" cy="320.2" r="2.75"/><circle cx="861.3" cy="298.2" r="2.75"/><circle cx="861.0" cy="211.9" r="2.75"/><circle cx="861.2" cy="318.8" r="2.75"/><circle cx="861.8" cy="280.2" r="2.75"/><circle cx="861.4" cy="293.2" r="2.75"/><circle cx="861.3" cy="276.6" r="2.75"/><circle cx="862.1" cy="279.3" r="2.75"/><circle cx="861.8" cy="239.8" r="2.75"/><circle cx="862.2" cy="285.0" r="2.75"/><circle cx="862.8" cy="287.1" r="2.75"/><circle cx="862.7" cy="259.7" r="2.75"/><circle cx="862.8" cy="258.0" r="2.75"/><circle cx="862.7" cy="252.6" r="2.75"/><circle cx="862.9" cy="299.3" r="2.75"/><circle cx="863.1" cy="304.3" r="2.75"/><circle cx="863.3" cy="259.5" r="2.75"/><circle cx="862.9" cy="245.2" r="2.75"/><circle cx="863.3" cy="241.3" r="2.75"/><circle cx="863.6" cy="267.1" r="2.75"/><circle cx="863.4" cy="236.8" r="2.75"/><circle cx="863.6" cy="311.0" r="2.75"/><circle cx="864.1" cy="230.0" r="2.75"/><circle cx="864.0" cy="270.7" r="2.75"/><circle cx="863.9" cy="263.9" r="2.75"/><circle cx="864.7" cy="262.6" r="2.75"/><circle cx="864.0" cy="320.5" r="2.75"/><circle cx="864.8" cy="302.9" r="2.75"/><circle cx="865.0" cy="252.2" r="2.75"/><circle cx="864.7" cy="305.8" r="2.75"/><circle cx="865.6" cy="285.8" r="2.75"/><circle cx="865.5" cy="296.7" r="2.75"/><circle cx="865.1" cy="253.6" r="2.75"/><circle cx="865.4" cy="224.7" r="2.75"/><circle cx="866.0" cy="306.0" r="2.75"/><circle cx="865.6" cy="277.8" r="2.75"/><circle cx="865.9" cy="242.9" r="2.75"/><circle cx="865.7" cy="279.8" r="2.75"/><circle cx="866.4" cy="279.4" r="2.75"/><circle cx="866.7" cy="252.5" r="2.75"/><circle cx="866.6" cy="276.7" r="2.75"/><circle cx="866.2" cy="316.2" r="2.75"/><circle cx="867.1" cy="253.2" r="2.75"/><circle cx="867.0" cy="290.9" r="2.75"/><circle cx="867.2" cy="263.2" r="2.75"/><circle cx="866.9" cy="283.6" r="2.75"/><circle cx="867.8" cy="303.9" r="2.75"/><circle cx="867.9" cy="296.3" r="2.75"/><circle cx="867.7" cy="303.0" r="2.75"/><circle cx="867.5" cy="275.4" r="2.75"/><circle cx="868.5" cy="283.5" r="2.75"/><circle cx="868.1" cy="293.7" r="2.75"/><circle cx="868.1" cy="281.5" r="2.75"/><circle cx="869.0" cy="320.3" r="2.75"/><circle cx="868.8" cy="307.1" r="2.75"/><circle cx="868.3" cy="325.1" r="2.75"/><circle cx="868.8" cy="303.2" r="2.75"/><circle cx="869.5" cy="344.4" r="2.75"/><circle cx="869.0" cy="343.9" r="2.75"/><circle cx="869.3" cy="318.5" r="2.75"/><circle cx="869.4" cy="333.3" r="2.75"/><circle cx="869.8" cy="330.5" r="2.75"/><circle cx="869.6" cy="324.0" r="2.75"/><circle cx="869.9" cy="333.4" r="2.75"/><circle cx="869.6" cy="318.6" r="2.75"/><circle cx="870.3" cy="338.8" r="2.75"/><circle cx="870.6" cy="329.3" r="2.75"/><circle cx="870.3" cy="352.7" r="2.75"/><circle cx="870.3" cy="310.3" r="2.75"/><circle cx="871.2" cy="340.1" r="2.75"/><circle cx="870.9" cy="358.7" r="2.75"/><circle cx="870.8" cy="356.5" r="2.75"/><circle cx="871.1" cy="355.2" r="2.75"/><circle cx="871.2" cy="345.6" r="2.75"/><circle cx="871.1" cy="347.6" r="2.75"/><circle cx="871.3" cy="355.7" r="2.75"/><circle cx="871.7" cy="349.8" r="2.75"/><circle cx="872.2" cy="357.3" r="2.75"/><circle cx="872.2" cy="357.7" r="2.75"/><circle cx="872.1" cy="362.0" r="2.75"/><circle cx="872.9" cy="354.0" r="2.75"/><circle cx="872.3" cy="347.7" r="2.75"/><circle cx="872.4" cy="353.1" r="2.75"/><circle cx="872.7" cy="358.4" r="2.75"/><circle cx="872.3" cy="337.2" r="2.75"/><circle cx="873.3" cy="354.6" r="2.75"/><circle cx="873.4" cy="350.8" r="2.75"/><circle cx="873.0" cy="351.9" r="2.75"/><circle cx="873.1" cy="355.7" r="2.75"/><circle cx="872.8" cy="362.4" r="2.75"/><circle cx="873.9" cy="367.1" r="2.75"/><circle cx="873.9" cy="354.7" r="2.75"/><circle cx="873.9" cy="360.2" r="2.75"/><circle cx="873.3" cy="367.3" r="2.75"/><circle cx="873.6" cy="338.8" r="2.75"/><circle cx="874.5" cy="360.0" r="2.75"/><circle cx="874.0" cy="349.4" r="2.75"/><circle cx="874.3" cy="366.0" r="2.75"/><circle cx="873.9" cy="360.7" r="2.75"/><circle cx="874.2" cy="342.2" r="2.75"/><circle cx="874.6" cy="364.8" r="2.75"/><circle cx="875.1" cy="355.0" r="2.75"/><circle cx="875.1" cy="365.6" r="2.75"/><circle cx="874.7" cy="336.0" r="2.75"/><circle cx="875.5" cy="369.9" r="2.75"/><circle cx="875.0" cy="355.6" r="2.75"/><circle cx="875.1" cy="352.8" r="2.75"/><circle cx="875.2" cy="362.2" r="2.75"/><circle cx="875.3" cy="346.1" r="2.75"/><circle cx="875.5" cy="367.7" r="2.75"/><circle cx="876.2" cy="360.3" r="2.75"/><circle cx="875.9" cy="356.2" r="2.75"/><circle cx="875.5" cy="367.6" r="2.75"/><circle cx="876.1" cy="369.0" r="2.75"/><circle cx="876.7" cy="347.5" r="2.75"/><circle cx="876.4" cy="359.4" r="2.75"/><circle cx="876.8" cy="367.6" r="2.75"/><circle cx="876.4" cy="369.2" r="2.75"/><circle cx="877.0" cy="367.8" r="2.75"/><circle cx="876.6" cy="363.7" r="2.75"/><circle cx="877.0" cy="347.3" r="2.75"/><circle cx="877.1" cy="371.2" r="2.75"/><circle cx="877.8" cy="344.4" r="2.75"/><circle cx="877.6" cy="360.5" r="2.75"/><circle cx="877.5" cy="333.0" r="2.75"/><circle cx="878.2" cy="357.5" r="2.75"/><circle cx="878.3" cy="342.5" r="2.75"/><circle cx="878.3" cy="371.0" r="2.75"/><circle cx="878.2" cy="340.8" r="2.75"/><circle cx="878.6" cy="334.2" r="2.75"/><circle cx="878.8" cy="342.4" r="2.75"/><circle cx="878.2" cy="349.2" r="2.75"/><circle cx="878.3" cy="373.1" r="2.75"/><circle cx="879.4" cy="329.3" r="2.75"/><circle cx="878.8" cy="365.9" r="2.75"/><circle cx="878.9" cy="361.4" r="2.75"/><circle cx="878.8" cy="356.9" r="2.75"/><circle cx="879.1" cy="343.8" r="2.75"/><circle cx="879.6" cy="345.1" r="2.75"/><circle cx="879.9" cy="337.3" r="2.75"/><circle cx="879.5" cy="347.0" r="2.75"/><circle cx="879.6" cy="336.2" r="2.75"/><circle cx="879.7" cy="371.6" r="2.75"/><circle cx="880.5" cy="335.4" r="2.75"/><circle cx="880.2" cy="370.7" r="2.75"/><circle cx="880.4" cy="337.8" r="2.75"/><circle cx="879.9" cy="335.0" r="2.75"/><circle cx="879.9" cy="320.6" r="2.75"/><circle cx="880.6" cy="318.8" r="2.75"/><circle cx="880.5" cy="336.3" r="2.75"/><circle cx="880.9" cy="370.4" r="2.75"/><circle cx="880.5" cy="373.3" r="2.75"/><circle cx="880.7" cy="331.0" r="2.75"/><circle cx="881.6" cy="369.8" r="2.75"/><circle cx="881.0" cy="313.2" r="2.75"/><circle cx="881.3" cy="339.2" r="2.75"/><circle cx="881.2" cy="311.7" r="2.75"/><circle cx="881.3" cy="289.8" r="2.75"/><circle cx="881.5" cy="344.8" r="2.75"/><circle cx="881.8" cy="356.9" r="2.75"/><circle cx="881.8" cy="337.5" r="2.75"/><circle cx="881.6" cy="365.2" r="2.75"/><circle cx="881.9" cy="308.1" r="2.75"/><circle cx="882.8" cy="324.4" r="2.75"/><circle cx="882.7" cy="357.1" r="2.75"/><circle cx="882.4" cy="354.2" r="2.75"/><circle cx="882.3" cy="327.8" r="2.75"/><circle cx="882.4" cy="307.3" r="2.75"/><circle cx="882.6" cy="326.8" r="2.75"/><circle cx="883.3" cy="330.8" r="2.75"/><circle cx="883.4" cy="362.6" r="2.75"/><circle cx="882.8" cy="364.0" r="2.75"/><circle cx="883.7" cy="348.0" r="2.75"/><circle cx="883.2" cy="356.9" r="2.75"/><circle cx="883.7" cy="374.7" r="2.75"/><circle cx="883.6" cy="328.3" r="2.75"/><circle cx="884.3" cy="367.7" r="2.75"/><circle cx="884.2" cy="370.1" r="2.75"/><circle cx="884.0" cy="367.6" r="2.75"/><circle cx="883.8" cy="370.6" r="2.75"/><circle cx="884.6" cy="374.2" r="2.75"/><circle cx="884.7" cy="376.7" r="2.75"/><circle cx="884.9" cy="358.8" r="2.75"/><circle cx="884.9" cy="351.7" r="2.75"/><circle cx="885.2" cy="366.7" r="2.75"/><circle cx="885.0" cy="370.6" r="2.75"/><circle cx="885.1" cy="377.8" r="2.75"/><circle cx="885.0" cy="362.7" r="2.75"/><circle cx="885.7" cy="359.6" r="2.75"/><circle cx="885.8" cy="375.6" r="2.75"/><circle cx="885.6" cy="366.8" r="2.75"/><circle cx="885.5" cy="354.3" r="2.75"/><circle cx="886.1" cy="367.7" r="2.75"/><circle cx="886.6" cy="338.5" r="2.75"/><circle cx="886.5" cy="370.3" r="2.75"/><circle cx="886.3" cy="353.7" r="2.75"/><circle cx="886.8" cy="345.3" r="2.75"/><circle cx="887.1" cy="356.2" r="2.75"/><circle cx="886.5" cy="353.8" r="2.75"/><circle cx="887.2" cy="357.9" r="2.75"/><circle cx="887.6" cy="361.2" r="2.75"/><circle cx="887.7" cy="377.1" r="2.75"/><circle cx="887.8" cy="372.8" r="2.75"/><circle cx="887.6" cy="368.9" r="2.75"/><circle cx="888.3" cy="369.8" r="2.75"/><circle cx="887.6" cy="348.5" r="2.75"/><circle cx="888.4" cy="363.5" r="2.75"/><circle cx="888.6" cy="375.8" r="2.75"/><circle cx="888.2" cy="360.0" r="2.75"/><circle cx="888.5" cy="330.5" r="2.75"/><circle cx="888.8" cy="352.1" r="2.75"/><circle cx="889.1" cy="355.1" r="2.75"/><circle cx="889.0" cy="369.3" r="2.75"/><circle cx="889.3" cy="371.7" r="2.75"/><circle cx="889.2" cy="348.2" r="2.75"/><circle cx="889.2" cy="356.6" r="2.75"/><circle cx="889.7" cy="375.2" r="2.75"/><circle cx="889.8" cy="355.5" r="2.75"/><circle cx="890.2" cy="358.8" r="2.75"/><circle cx="890.1" cy="367.4" r="2.75"/><circle cx="890.2" cy="348.5" r="2.75"/><circle cx="890.0" cy="374.1" r="2.75"/><circle cx="890.1" cy="336.6" r="2.75"/><circle cx="890.4" cy="377.3" r="2.75"/><circle cx="890.9" cy="375.4" r="2.75"/><circle cx="890.5" cy="364.0" r="2.75"/><circle cx="890.9" cy="368.0" r="2.75"/><circle cx="891.2" cy="353.0" r="2.75"/><circle cx="891.1" cy="368.0" r="2.75"/><circle cx="891.6" cy="374.5" r="2.75"/><circle cx="890.9" cy="376.8" r="2.75"/><circle cx="891.6" cy="368.1" r="2.75"/><circle cx="891.4" cy="375.9" r="2.75"/><circle cx="891.5" cy="358.2" r="2.75"/><circle cx="892.1" cy="362.8" r="2.75"/><circle cx="892.0" cy="365.4" r="2.75"/><circle cx="891.8" cy="346.0" r="2.75"/><circle cx="892.2" cy="360.1" r="2.75"/><circle cx="892.0" cy="377.3" r="2.75"/><circle cx="892.0" cy="371.5" r="2.75"/><circle cx="892.7" cy="367.3" r="2.75"/><circle cx="893.0" cy="366.7" r="2.75"/><circle cx="892.7" cy="364.4" r="2.75"/><circle cx="892.7" cy="361.9" r="2.75"/><circle cx="893.8" cy="367.1" r="2.75"/><circle cx="893.8" cy="367.2" r="2.75"/><circle cx="893.2" cy="369.5" r="2.75"/><circle cx="894.0" cy="354.1" r="2.75"/><circle cx="893.7" cy="354.7" r="2.75"/><circle cx="893.9" cy="357.7" r="2.75"/><circle cx="894.2" cy="368.5" r="2.75"/><circle cx="894.3" cy="354.0" r="2.75"/><circle cx="894.8" cy="370.8" r="2.75"/><circle cx="894.2" cy="368.9" r="2.75"/><circle cx="895.0" cy="366.8" r="2.75"/><circle cx="895.1" cy="373.9" r="2.75"/><circle cx="894.8" cy="378.1" r="2.75"/><circle cx="895.0" cy="369.2" r="2.75"/><circle cx="895.1" cy="341.1" r="2.75"/><circle cx="895.7" cy="366.4" r="2.75"/><circle cx="895.7" cy="377.0" r="2.75"/><circle cx="895.6" cy="355.6" r="2.75"/><circle cx="896.5" cy="368.0" r="2.75"/><circle cx="896.0" cy="373.7" r="2.75"/><circle cx="896.5" cy="372.6" r="2.75"/><circle cx="896.5" cy="355.2" r="2.75"/><circle cx="896.6" cy="355.9" r="2.75"/><circle cx="896.5" cy="364.2" r="2.75"/><circle cx="897.0" cy="371.8" r="2.75"/><circle cx="897.6" cy="374.7" r="2.75"/><circle cx="897.5" cy="369.8" r="2.75"/><circle cx="897.0" cy="367.1" r="2.75"/><circle cx="898.1" cy="373.7" r="2.75"/><circle cx="898.0" cy="369.4" r="2.75"/><circle cx="898.1" cy="375.9" r="2.75"/><circle cx="897.5" cy="361.2" r="2.75"/><circle cx="898.1" cy="373.1" r="2.75"/><circle cx="897.8" cy="337.0" r="2.75"/><circle cx="898.1" cy="361.7" r="2.75"/><circle cx="898.5" cy="372.3" r="2.75"/><circle cx="898.7" cy="361.6" r="2.75"/><circle cx="898.7" cy="362.9" r="2.75"/><circle cx="899.0" cy="367.9" r="2.75"/><circle cx="898.6" cy="367.9" r="2.75"/><circle cx="899.2" cy="372.2" r="2.75"/><circle cx="899.8" cy="365.9" r="2.75"/><circle cx="899.8" cy="358.7" r="2.75"/><circle cx="899.7" cy="358.2" r="2.75"/><circle cx="900.2" cy="367.8" r="2.75"/><circle cx="900.1" cy="377.1" r="2.75"/><circle cx="900.3" cy="369.4" r="2.75"/><circle cx="900.0" cy="366.6" r="2.75"/><circle cx="900.0" cy="357.4" r="2.75"/><circle cx="900.2" cy="359.1" r="2.75"/><circle cx="900.5" cy="367.6" r="2.75"/><circle cx="900.9" cy="376.3" r="2.75"/><circle cx="900.8" cy="364.7" r="2.75"/><circle cx="900.8" cy="372.8" r="2.75"/><circle cx="901.1" cy="369.2" r="2.75"/><circle cx="901.2" cy="369.0" r="2.75"/><circle cx="901.1" cy="373.3" r="2.75"/><circle cx="901.4" cy="370.2" r="2.75"/><circle cx="901.3" cy="367.0" r="2.75"/><circle cx="902.0" cy="361.5" r="2.75"/><circle cx="901.7" cy="370.4" r="2.75"/><circle cx="902.0" cy="367.3" r="2.75"/><circle cx="901.7" cy="350.3" r="2.75"/><circle cx="902.0" cy="374.5" r="2.75"/><circle cx="902.3" cy="367.7" r="2.75"/><circle cx="902.5" cy="375.2" r="2.75"/><circle cx="902.3" cy="354.1" r="2.75"/><circle cx="903.2" cy="364.1" r="2.75"/><circle cx="903.1" cy="371.8" r="2.75"/><circle cx="902.5" cy="365.4" r="2.75"/><circle cx="902.5" cy="362.1" r="2.75"/><circle cx="903.3" cy="370.5" r="2.75"/><circle cx="903.0" cy="359.5" r="2.75"/><circle cx="903.5" cy="359.5" r="2.75"/><circle cx="903.7" cy="367.3" r="2.75"/><circle cx="903.7" cy="372.0" r="2.75"/><circle cx="903.5" cy="364.9" r="2.75"/><circle cx="903.7" cy="362.2" r="2.75"/><circle cx="903.9" cy="364.6" r="2.75"/><circle cx="904.3" cy="369.2" r="2.75"/><circle cx="904.1" cy="361.1" r="2.75"/><circle cx="904.2" cy="367.3" r="2.75"/><circle cx="904.5" cy="357.3" r="2.75"/><circle cx="904.7" cy="353.6" r="2.75"/><circle cx="905.0" cy="352.3" r="2.75"/><circle cx="904.7" cy="360.9" r="2.75"/><circle cx="905.0" cy="371.5" r="2.75"/><circle cx="905.7" cy="353.5" r="2.75"/><circle cx="905.4" cy="359.6" r="2.75"/><circle cx="905.3" cy="370.6" r="2.75"/><circle cx="905.5" cy="330.0" r="2.75"/><circle cx="906.4" cy="367.6" r="2.75"/><circle cx="906.1" cy="360.0" r="2.75"/><circle cx="905.8" cy="348.9" r="2.75"/><circle cx="907.0" cy="356.6" r="2.75"/><circle cx="906.7" cy="364.8" r="2.75"/><circle cx="906.6" cy="357.9" r="2.75"/><circle cx="906.9" cy="368.2" r="2.75"/><circle cx="906.6" cy="309.5" r="2.75"/><circle cx="907.4" cy="347.9" r="2.75"/><circle cx="907.4" cy="350.2" r="2.75"/><circle cx="907.3" cy="353.3" r="2.75"/><circle cx="907.5" cy="367.7" r="2.75"/><circle cx="907.1" cy="352.4" r="2.75"/><circle cx="907.8" cy="334.0" r="2.75"/><circle cx="907.9" cy="342.7" r="2.75"/><circle cx="907.6" cy="337.6" r="2.75"/><circle cx="908.5" cy="348.2" r="2.75"/><circle cx="907.9" cy="344.8" r="2.75"/><circle cx="908.0" cy="351.4" r="2.75"/><circle cx="908.5" cy="345.9" r="2.75"/><circle cx="908.3" cy="325.1" r="2.75"/><circle cx="908.5" cy="363.3" r="2.75"/><circle cx="908.6" cy="364.6" r="2.75"/><circle cx="908.9" cy="331.5" r="2.75"/><circle cx="909.6" cy="326.3" r="2.75"/><circle cx="909.8" cy="336.3" r="2.75"/><circle cx="909.4" cy="331.9" r="2.75"/><circle cx="909.3" cy="364.5" r="2.75"/><circle cx="909.8" cy="336.8" r="2.75"/><circle cx="909.6" cy="345.3" r="2.75"/><circle cx="909.6" cy="323.1" r="2.75"/><circle cx="910.0" cy="358.7" r="2.75"/><circle cx="910.3" cy="347.9" r="2.75"/><circle cx="910.3" cy="328.1" r="2.75"/><circle cx="910.4" cy="350.6" r="2.75"/><circle cx="910.2" cy="337.7" r="2.75"/><circle cx="910.5" cy="362.1" r="2.75"/><circle cx="910.9" cy="350.6" r="2.75"/><circle cx="911.1" cy="353.0" r="2.75"/><circle cx="910.8" cy="320.9" r="2.75"/><circle cx="911.3" cy="331.1" r="2.75"/><circle cx="911.6" cy="357.5" r="2.75"/><circle cx="911.4" cy="337.8" r="2.75"/><circle cx="911.3" cy="336.1" r="2.75"/><circle cx="911.8" cy="327.4" r="2.75"/><circle cx="911.8" cy="358.1" r="2.75"/><circle cx="911.8" cy="334.9" r="2.75"/><circle cx="911.9" cy="359.9" r="2.75"/><circle cx="911.8" cy="322.9" r="2.75"/><circle cx="913.0" cy="335.4" r="2.75"/><circle cx="912.4" cy="358.6" r="2.75"/><circle cx="912.8" cy="348.2" r="2.75"/><circle cx="913.0" cy="344.9" r="2.75"/><circle cx="913.0" cy="336.8" r="2.75"/><circle cx="913.4" cy="341.9" r="2.75"/><circle cx="913.4" cy="358.3" r="2.75"/><circle cx="913.9" cy="327.6" r="2.75"/><circle cx="913.6" cy="336.8" r="2.75"/><circle cx="914.1" cy="354.2" r="2.75"/><circle cx="914.6" cy="311.7" r="2.75"/><circle cx="914.1" cy="326.9" r="2.75"/><circle cx="914.5" cy="318.4" r="2.75"/><circle cx="914.2" cy="348.3" r="2.75"/><circle cx="914.7" cy="354.6" r="2.75"/><circle cx="914.5" cy="349.6" r="2.75"/><circle cx="914.7" cy="337.0" r="2.75"/><circle cx="915.1" cy="332.3" r="2.75"/><circle cx="915.2" cy="347.5" r="2.75"/><circle cx="915.3" cy="347.2" r="2.75"/><circle cx="915.6" cy="334.3" r="2.75"/><circle cx="915.3" cy="354.4" r="2.75"/><circle cx="915.4" cy="298.3" r="2.75"/><circle cx="915.9" cy="326.1" r="2.75"/><circle cx="916.3" cy="346.9" r="2.75"/><circle cx="916.0" cy="338.2" r="2.75"/><circle cx="915.7" cy="333.0" r="2.75"/><circle cx="916.2" cy="326.6" r="2.75"/><circle cx="916.3" cy="314.7" r="2.75"/><circle cx="916.7" cy="347.0" r="2.75"/><circle cx="916.9" cy="328.8" r="2.75"/><circle cx="916.5" cy="303.4" r="2.75"/><circle cx="916.9" cy="350.0" r="2.75"/><circle cx="917.2" cy="354.8" r="2.75"/><circle cx="917.2" cy="345.6" r="2.75"/><circle cx="917.2" cy="322.2" r="2.75"/><circle cx="917.5" cy="344.1" r="2.75"/><circle cx="918.0" cy="349.2" r="2.75"/><circle cx="917.4" cy="345.5" r="2.75"/><circle cx="917.9" cy="355.3" r="2.75"/><circle cx="918.3" cy="312.0" r="2.75"/><circle cx="918.2" cy="355.4" r="2.75"/><circle cx="919.0" cy="327.8" r="2.75"/><circle cx="918.9" cy="339.5" r="2.75"/><circle cx="919.0" cy="350.7" r="2.75"/><circle cx="919.1" cy="332.2" r="2.75"/><circle cx="918.4" cy="340.5" r="2.75"/><circle cx="919.7" cy="323.7" r="2.75"/><circle cx="919.2" cy="313.0" r="2.75"/><circle cx="919.2" cy="321.6" r="2.75"/><circle cx="920.2" cy="330.6" r="2.75"/><circle cx="919.9" cy="344.3" r="2.75"/><circle cx="920.2" cy="339.2" r="2.75"/><circle cx="919.9" cy="345.0" r="2.75"/><circle cx="920.7" cy="316.9" r="2.75"/><circle cx="920.6" cy="360.1" r="2.75"/><circle cx="920.5" cy="331.9" r="2.75"/><circle cx="920.3" cy="356.1" r="2.75"/><circle cx="920.2" cy="347.4" r="2.75"/><circle cx="920.6" cy="334.4" r="2.75"/><circle cx="921.0" cy="343.5" r="2.75"/><circle cx="921.2" cy="331.6" r="2.75"/><circle cx="920.7" cy="329.0" r="2.75"/><circle cx="921.2" cy="346.1" r="2.75"/><circle cx="921.4" cy="346.7" r="2.75"/><circle cx="921.2" cy="332.0" r="2.75"/><circle cx="921.2" cy="347.7" r="2.75"/><circle cx="922.3" cy="345.8" r="2.75"/><circle cx="922.0" cy="364.3" r="2.75"/><circle cx="922.4" cy="342.4" r="2.75"/><circle cx="922.7" cy="347.6" r="2.75"/><circle cx="922.5" cy="335.5" r="2.75"/><circle cx="922.8" cy="320.0" r="2.75"/><circle cx="922.8" cy="360.4" r="2.75"/><circle cx="922.8" cy="366.3" r="2.75"/><circle cx="922.6" cy="315.1" r="2.75"/><circle cx="923.5" cy="340.6" r="2.75"/><circle cx="923.2" cy="364.3" r="2.75"/><circle cx="923.4" cy="354.8" r="2.75"/><circle cx="924.0" cy="328.0" r="2.75"/><circle cx="923.3" cy="345.1" r="2.75"/><circle cx="923.3" cy="338.6" r="2.75"/><circle cx="924.0" cy="361.0" r="2.75"/><circle cx="924.3" cy="346.7" r="2.75"/><circle cx="923.9" cy="326.6" r="2.75"/><circle cx="924.6" cy="322.8" r="2.75"/><circle cx="925.1" cy="353.6" r="2.75"/><circle cx="925.1" cy="332.2" r="2.75"/><circle cx="924.9" cy="344.3" r="2.75"/><circle cx="925.6" cy="331.9" r="2.75"/><circle cx="925.1" cy="353.4" r="2.75"/><circle cx="925.3" cy="340.8" r="2.75"/><circle cx="925.7" cy="318.4" r="2.75"/><circle cx="925.6" cy="324.2" r="2.75"/><circle cx="926.1" cy="350.3" r="2.75"/><circle cx="925.6" cy="327.5" r="2.75"/><circle cx="926.2" cy="320.4" r="2.75"/><circle cx="926.5" cy="351.4" r="2.75"/><circle cx="926.6" cy="347.0" r="2.75"/><circle cx="926.5" cy="330.4" r="2.75"/><circle cx="926.6" cy="325.1" r="2.75"/><circle cx="926.8" cy="329.7" r="2.75"/><circle cx="927.1" cy="351.5" r="2.75"/><circle cx="927.3" cy="329.1" r="2.75"/><circle cx="926.6" cy="356.0" r="2.75"/><circle cx="927.8" cy="308.7" r="2.75"/><circle cx="927.3" cy="324.4" r="2.75"/><circle cx="927.4" cy="337.2" r="2.75"/><circle cx="927.3" cy="302.4" r="2.75"/><circle cx="927.7" cy="340.5" r="2.75"/><circle cx="928.0" cy="327.8" r="2.75"/><circle cx="928.3" cy="345.5" r="2.75"/><circle cx="928.3" cy="352.1" r="2.75"/><circle cx="927.9" cy="347.0" r="2.75"/><circle cx="929.0" cy="316.4" r="2.75"/><circle cx="928.6" cy="328.2" r="2.75"/><circle cx="928.9" cy="313.1" r="2.75"/><circle cx="928.6" cy="309.5" r="2.75"/><circle cx="928.7" cy="349.9" r="2.75"/><circle cx="929.4" cy="325.0" r="2.75"/><circle cx="929.3" cy="298.8" r="2.75"/><circle cx="929.1" cy="344.0" r="2.75"/><circle cx="929.4" cy="338.2" r="2.75"/><circle cx="929.4" cy="323.7" r="2.75"/><circle cx="930.0" cy="325.7" r="2.75"/><circle cx="929.7" cy="305.5" r="2.75"/><circle cx="929.4" cy="340.9" r="2.75"/><circle cx="930.4" cy="339.1" r="2.75"/><circle cx="930.4" cy="326.8" r="2.75"/><circle cx="930.6" cy="333.2" r="2.75"/><circle cx="930.7" cy="336.4" r="2.75"/><circle cx="930.3" cy="264.7" r="2.75"/><circle cx="931.2" cy="330.4" r="2.75"/><circle cx="930.6" cy="301.3" r="2.75"/><circle cx="930.5" cy="337.9" r="2.75"/><circle cx="931.5" cy="340.3" r="2.75"/><circle cx="931.4" cy="343.2" r="2.75"/><circle cx="931.5" cy="296.0" r="2.75"/><circle cx="931.2" cy="329.1" r="2.75"/><circle cx="931.0" cy="305.7" r="2.75"/><circle cx="931.6" cy="310.0" r="2.75"/><circle cx="931.9" cy="309.3" r="2.75"/><circle cx="932.2" cy="300.7" r="2.75"/><circle cx="931.6" cy="335.4" r="2.75"/><circle cx="932.9" cy="290.1" r="2.75"/><circle cx="932.7" cy="293.9" r="2.75"/><circle cx="932.1" cy="306.6" r="2.75"/><circle cx="932.3" cy="324.2" r="2.75"/><circle cx="933.3" cy="313.3" r="2.75"/><circle cx="933.4" cy="281.7" r="2.75"/><circle cx="932.7" cy="327.2" r="2.75"/><circle cx="932.9" cy="331.3" r="2.75"/><circle cx="933.0" cy="272.6" r="2.75"/><circle cx="933.8" cy="318.9" r="2.75"/><circle cx="933.6" cy="334.0" r="2.75"/><circle cx="933.7" cy="292.0" r="2.75"/><circle cx="933.8" cy="332.9" r="2.75"/><circle cx="934.3" cy="336.2" r="2.75"/><circle cx="934.5" cy="304.9" r="2.75"/><circle cx="933.9" cy="292.5" r="2.75"/><circle cx="934.7" cy="322.2" r="2.75"/><circle cx="934.6" cy="322.1" r="2.75"/><circle cx="934.9" cy="335.8" r="2.75"/><circle cx="934.7" cy="326.9" r="2.75"/><circle cx="935.2" cy="310.1" r="2.75"/><circle cx="935.3" cy="328.1" r="2.75"/><circle cx="935.6" cy="326.2" r="2.75"/><circle cx="935.1" cy="306.3" r="2.75"/><circle cx="935.6" cy="329.7" r="2.75"/><circle cx="935.7" cy="309.4" r="2.75"/><circle cx="936.1" cy="277.8" r="2.75"/><circle cx="936.0" cy="338.9" r="2.75"/><circle cx="935.5" cy="312.4" r="2.75"/><circle cx="936.0" cy="302.4" r="2.75"/><circle cx="936.4" cy="293.0" r="2.75"/><circle cx="936.1" cy="298.1" r="2.75"/><circle cx="936.5" cy="272.8" r="2.75"/><circle cx="936.8" cy="308.5" r="2.75"/><circle cx="936.6" cy="311.0" r="2.75"/><circle cx="937.2" cy="327.9" r="2.75"/><circle cx="937.3" cy="320.5" r="2.75"/><circle cx="936.9" cy="332.2" r="2.75"/><circle cx="937.1" cy="305.0" r="2.75"/><circle cx="937.7" cy="310.9" r="2.75"/><circle cx="937.1" cy="325.6" r="2.75"/><circle cx="937.9" cy="311.2" r="2.75"/><circle cx="937.7" cy="308.2" r="2.75"/><circle cx="937.9" cy="347.1" r="2.75"/><circle cx="938.0" cy="271.9" r="2.75"/><circle cx="938.2" cy="285.0" r="2.75"/><circle cx="938.3" cy="287.4" r="2.75"/><circle cx="938.4" cy="295.2" r="2.75"/><circle cx="938.8" cy="293.1" r="2.75"/><circle cx="938.8" cy="288.6" r="2.75"/><circle cx="939.2" cy="328.4" r="2.75"/><circle cx="939.4" cy="335.6" r="2.75"/><circle cx="939.0" cy="342.5" r="2.75"/><circle cx="938.9" cy="321.5" r="2.75"/><circle cx="940.0" cy="336.1" r="2.75"/><circle cx="940.0" cy="351.6" r="2.75"/><circle cx="939.8" cy="342.0" r="2.75"/><circle cx="939.4" cy="341.4" r="2.75"/><circle cx="939.6" cy="264.1" r="2.75"/><circle cx="940.5" cy="327.7" r="2.75"/><circle cx="940.0" cy="312.6" r="2.75"/><circle cx="940.3" cy="333.4" r="2.75"/><circle cx="940.4" cy="293.8" r="2.75"/><circle cx="940.1" cy="329.8" r="2.75"/><circle cx="940.9" cy="338.6" r="2.75"/><circle cx="940.9" cy="307.4" r="2.75"/><circle cx="940.5" cy="304.3" r="2.75"/><circle cx="940.5" cy="344.1" r="2.75"/><circle cx="941.5" cy="323.5" r="2.75"/><circle cx="941.1" cy="353.7" r="2.75"/><circle cx="941.3" cy="339.0" r="2.75"/><circle cx="941.8" cy="327.9" r="2.75"/><circle cx="941.5" cy="344.1" r="2.75"/><circle cx="941.7" cy="301.6" r="2.75"/><circle cx="942.1" cy="353.0" r="2.75"/><circle cx="942.5" cy="327.5" r="2.75"/><circle cx="942.7" cy="357.8" r="2.75"/><circle cx="942.3" cy="346.7" r="2.75"/><circle cx="942.7" cy="319.7" r="2.75"/><circle cx="628.1" cy="189.0" r="2.75"/><circle cx="635.6" cy="200.8" r="2.75"/><circle cx="624.9" cy="214.7" r="2.75"/><circle cx="628.1" cy="212.6" r="2.75"/><circle cx="657.1" cy="177.1" r="2.75"/><circle cx="663.6" cy="194.3" r="2.75"/><circle cx="680.8" cy="111.6" r="2.75"/><circle cx="682.3" cy="111.0" r="2.75"/><circle cx="685.1" cy="133.1" r="2.75"/><circle cx="682.9" cy="141.7" r="2.75"/><circle cx="678.6" cy="152.4" r="2.75"/><circle cx="674.3" cy="161.0" r="2.75"/><circle cx="700.1" cy="139.5" r="2.75"/><circle cx="699.0" cy="158.9" r="2.75"/><circle cx="712.6" cy="86.9" r="2.75"/><circle cx="712.4" cy="111.2" r="2.75"/><circle cx="711.9" cy="128.8" r="2.75"/><circle cx="717.3" cy="136.3" r="2.75"/><circle cx="721.6" cy="165.3" r="2.75"/><circle cx="728.0" cy="211.5" r="2.75"/><circle cx="736.7" cy="256.6" r="2.75"/><circle cx="771.0" cy="269.5" r="2.75"/><circle cx="700.0" cy="150.0" r="2.75"/><circle cx="686.0" cy="135.0" r="2.75"/><circle cx="684.0" cy="132.0" r="2.75"/><circle cx="824.7" cy="137.4" r="2.75"/><circle cx="825.7" cy="154.6" r="2.75"/><circle cx="825.7" cy="162.1" r="2.75"/><circle cx="827.4" cy="170.7" r="2.75"/><circle cx="847.2" cy="152.4" r="2.75"/><circle cx="847.6" cy="158.9" r="2.75"/><circle cx="839.7" cy="165.3" r="2.75"/><circle cx="847.2" cy="170.7" r="2.75"/><circle cx="807.5" cy="181.4" r="2.75"/><circle cx="807.5" cy="193.2" r="2.75"/><circle cx="833.3" cy="180.4" r="2.75"/><circle cx="838.6" cy="184.7" r="2.75"/><circle cx="848.3" cy="190.0" r="2.75"/><circle cx="862.3" cy="204.0" r="2.75"/><circle cx="866.6" cy="204.0" r="2.75"/><circle cx="865.5" cy="213.7" r="2.75"/><circle cx="809.6" cy="208.3" r="2.75"/><circle cx="882.7" cy="307.9" r="2.75"/><circle cx="884.0" cy="312.0" r="2.75"/><circle cx="914.9" cy="302.5" r="2.75"/><circle cx="922.4" cy="315.4" r="2.75"/><circle cx="935.3" cy="262.0" r="2.75"/><circle cx="935.3" cy="266.0" r="2.75"/><circle cx="623.8" cy="215.5" r="2.75"/><circle cx="627.0" cy="213.3" r="2.75"/><circle cx="746.3" cy="306.8" r="2.75"/><circle cx="746.3" cy="319.7" r="2.75"/><circle cx="753.8" cy="341.2" r="2.75"/>
</g>
<polyline points="614.4,291.7 614.8,321.4 615.1,290.6 615.5,323.0 615.8,289.4 616.1,324.7 616.5,289.6 616.9,326.3 617.2,292.3 617.5,329.6 617.9,293.8 618.2,334.7 618.6,293.0 619.0,337.3 619.3,291.7 619.6,335.1 620.0,289.6 620.4,332.4 620.7,286.6 621.0,330.3 621.4,286.7 621.8,328.9 622.1,289.1 622.5,327.5 622.8,287.2 623.1,326.1 623.5,282.0 623.9,323.7 624.2,280.2 624.5,320.3 624.9,279.9 625.2,318.0 625.6,279.6 626.0,317.9 626.3,279.4 626.6,317.9 627.0,281.2 627.4,317.9 627.7,287.3 628.0,318.0 628.4,291.5 628.8,318.2 629.1,292.5 629.5,321.8 629.8,293.6 630.1,327.9 630.5,294.7 630.9,336.1 631.2,293.2 631.5,336.1 631.9,289.9 632.2,329.4 632.6,291.6 633.0,327.8 633.3,297.8 633.6,327.0 634.0,301.6 634.4,326.0 634.7,302.7 635.0,324.0 635.4,303.7 635.8,323.1 636.1,305.1 636.5,324.4 636.8,306.2 637.1,326.1 637.5,306.9 637.9,329.5 638.2,308.4 638.5,334.2 638.9,311.0 639.2,337.3 639.6,312.2 640.0,337.1 640.3,312.0 640.6,334.2 641.0,312.8 641.4,333.4 641.7,314.4 642.0,335.1 642.4,316.0 642.8,339.1 643.1,315.6 643.5,345.2 643.8,313.9 644.1,348.8 644.5,316.0 644.9,351.4 645.2,323.0 645.5,355.0 645.9,328.2 646.2,357.5 646.6,330.3 647.0,358.4 647.3,332.5 647.6,360.4 648.0,332.0 648.4,363.9 648.7,328.9 649.0,367.7 649.4,328.5 649.8,372.0 650.1,330.2 650.5,375.9 650.8,330.3 651.1,379.3 651.5,323.7 651.9,381.8 652.2,317.6 652.5,382.2 652.9,314.3 653.2,381.4 653.6,314.4 654.0,384.0 654.3,309.4 654.6,371.6 655.0,299.1 655.4,363.9 655.7,298.4 656.0,357.7 656.4,299.7 656.8,354.0 657.1,303.3 657.5,356.8 657.8,310.4 658.1,358.9 658.5,315.0 658.9,353.5 659.2,312.8 659.5,352.8 659.9,308.0 660.2,353.1 660.6,307.4 661.0,354.4 661.3,309.5 661.6,355.4 662.0,309.1 662.4,356.4 662.7,308.4 663.0,357.5 663.4,307.9 663.8,359.4 664.1,306.8 664.5,362.2 664.8,305.2 665.1,364.3 665.5,303.5 665.9,364.8 666.2,301.9 666.5,364.2 666.9,301.5 667.2,364.4 667.6,302.7 668.0,363.1 668.3,305.4 668.6,358.8 669.0,310.2 669.4,356.3 669.7,311.2 670.0,352.9 670.4,308.9 670.8,351.5 671.1,306.5 671.5,352.1 671.8,301.1 672.1,350.8 672.5,293.0 672.9,348.0 673.2,288.9 673.5,345.1 673.9,288.3 674.2,342.2 674.6,286.9 675.0,339.6 675.3,284.6 675.6,337.3 676.0,282.4 676.4,334.7 676.7,281.1 677.0,332.2 677.4,280.9 677.8,330.7 678.1,279.9 678.5,331.6 678.8,278.0 679.1,334.7 679.5,271.0 679.9,335.2 680.2,260.1 680.5,332.2 680.9,254.5 681.2,327.3 681.6,252.4 681.9,323.9 682.3,250.3 682.6,319.7 683.0,250.7 683.4,312.9 683.7,257.7 684.0,312.0 684.4,262.9 684.8,314.0 685.1,265.9 685.4,316.0 685.8,268.8 686.1,320.3 686.5,271.8 686.9,326.5 687.2,277.6 687.5,330.4 687.9,284.4 688.2,333.4 688.6,288.5 688.9,337.9 689.3,285.9 689.6,340.9 690.0,280.1 690.4,342.5 690.7,277.7 691.0,344.1 691.4,278.3 691.8,343.2 692.1,282.6 692.4,339.4 692.8,291.6 693.1,337.9 693.5,296.9 693.9,339.3 694.2,297.7 694.5,340.7 694.9,298.5 695.2,342.1 695.6,299.3 695.9,344.9 696.3,295.5 696.6,349.1 697.0,287.6 697.4,351.9 697.7,284.2 698.0,353.4 698.4,286.1 698.8,358.2 699.1,290.3 699.4,365.4 699.8,295.9 700.1,375.4 700.5,300.1 700.9,369.3 701.2,302.9 701.5,366.9 701.9,305.7 702.2,368.3 702.6,308.4 702.9,373.6 703.3,311.0 703.6,382.9 704.0,309.9 704.4,384.5 704.7,302.7 705.0,386.1 705.4,294.5 705.8,376.7 706.1,289.3 706.4,365.1 706.8,284.5 707.1,356.2 707.5,279.2 707.9,350.2 708.2,273.6 708.5,344.2 708.9,266.9 709.2,343.2 709.6,259.4 709.9,346.6 710.3,253.2 710.6,347.3 711.0,247.6 711.4,345.4 711.7,242.0 712.0,347.1 712.4,236.4 712.8,341.0 713.1,236.3 713.4,328.2 713.8,252.9 714.1,325.4 714.5,263.8 714.9,324.7 715.2,267.3 715.5,326.4 715.9,267.3 716.2,327.7 716.6,264.7 716.9,328.7 717.3,265.7 717.6,330.1 718.0,269.5 718.4,331.7 718.7,277.1 719.0,332.8 719.4,288.6 719.8,333.3 720.1,294.7 720.4,334.2 720.8,292.3 721.1,335.6 721.5,286.4 721.9,337.0 722.2,284.8 722.5,338.5 722.9,286.5 723.2,337.6 723.6,288.2 723.9,334.3 724.3,288.9 724.6,337.7 725.0,288.7 725.4,346.9 725.7,290.5 726.0,351.8 726.4,293.2 726.8,353.6 727.1,295.8 727.4,355.7 727.8,298.7 728.1,357.4 728.5,303.2 728.9,358.9 729.2,310.2 729.5,360.4 729.9,315.4 730.2,360.8 730.6,315.7 730.9,360.0 731.3,314.3 731.6,360.1 732.0,315.0 732.4,361.3 732.7,318.5 733.0,361.0 733.4,324.4 733.8,359.2 734.1,328.6 734.4,359.1 734.8,330.7 735.1,360.9 735.5,332.7 735.9,362.7 736.2,334.7 736.5,367.1 736.9,337.7 737.2,373.6 737.6,341.7 737.9,377.6 738.3,345.1 738.6,379.3 739.0,347.9 739.4,381.0 739.7,350.3 740.0,382.7 740.4,352.3 740.8,384.0 741.1,354.6 741.4,384.7 741.8,356.4 742.1,385.7 742.5,356.1 742.9,387.2 743.2,353.6 743.5,388.6 743.9,352.3 744.2,388.6 744.6,352.9 744.9,389.4 745.3,353.7 745.6,391.0 746.0,354.2 746.4,391.7 746.7,354.5 747.0,391.8 747.4,356.1 747.8,391.9 748.1,359.2 748.4,392.0 748.8,359.4 749.1,392.1 749.5,356.6 749.9,392.1 750.2,355.6 750.5,392.1 750.9,356.1 751.2,391.6 751.6,356.5 751.9,390.4 752.3,356.9 752.6,389.8 753.0,355.5 753.4,389.9 753.7,352.7 754.0,389.2 754.4,351.8 754.8,387.7 755.1,353.8 755.4,387.0 755.8,357.7 756.1,387.8 756.5,359.9 756.9,389.1 757.2,360.3 757.5,389.8 757.9,358.4 758.2,389.9 758.6,352.0 758.9,389.0 759.3,346.7 759.6,387.6 760.0,343.1 760.4,386.2 760.7,339.4 761.0,384.8 761.4,335.8 761.8,384.8 762.1,333.3 762.4,386.2 762.8,332.4 763.1,386.4 763.5,330.5 763.9,385.2 764.2,327.1 764.5,382.7 764.9,323.7 765.2,378.0 765.6,321.2 765.9,374.7 766.3,319.8 766.6,373.1 767.0,316.2 767.4,372.4 767.7,311.6 768.0,372.6 768.4,310.2 768.8,371.7 769.1,311.0 769.4,369.5 769.8,311.7 770.1,372.1 770.5,312.4 770.9,378.9 771.2,313.5 771.5,380.8 771.9,314.9 772.2,378.8 772.6,317.7 772.9,378.0 773.3,320.4 773.6,378.4 774.0,323.2 774.4,378.8 774.7,325.9 775.0,376.6 775.4,328.9 775.8,372.0 776.1,332.3 776.4,372.7 776.8,335.2 777.1,377.8 777.5,337.9 777.9,379.9 778.2,340.5 778.5,379.9 778.9,343.5 779.2,379.8 779.6,347.0 779.9,380.2 780.3,349.4 780.6,380.9 781.0,350.8 781.4,388.0 781.7,352.3 782.0,389.4 782.4,353.8 782.8,390.9 783.1,355.5 783.4,392.3 783.8,357.9 784.1,387.6 784.5,360.5 784.9,388.8 785.2,361.8 785.5,390.0 785.9,361.7 786.2,391.4 786.6,362.0 786.9,392.8 787.3,362.7 787.6,392.5 788.0,363.6 788.4,390.0 788.7,364.3 789.0,387.7 789.4,364.8 789.8,387.8 790.1,365.5 790.4,386.0 790.8,366.3 791.1,382.6 791.5,365.7 791.9,378.8 792.2,362.4 792.5,375.0 792.9,359.6 793.2,372.6 793.6,356.4 793.9,370.9 794.3,352.8 794.6,374.4 795.0,349.2 795.4,371.2 795.7,345.2 796.0,368.3 796.4,340.9 796.8,367.7 797.1,337.0 797.4,360.0 797.8,333.7 798.1,356.2 798.5,330.9 798.9,355.2 799.2,327.6 799.5,357.7 799.9,325.0 800.2,358.6 800.6,323.0 800.9,358.0 801.3,320.9 801.6,357.5 802.0,318.5 802.4,356.3 802.7,316.2 803.0,354.3 803.4,313.9 803.8,352.9 804.1,311.5 804.4,352.2 804.8,309.0 805.1,352.2 805.5,306.6 805.9,352.2 806.2,304.3 806.5,350.3 806.9,307.0 807.2,346.3 807.6,314.6 807.9,344.4 808.3,314.9 808.6,344.7 809.0,308.2 809.4,345.0 809.7,305.7 810.0,345.3 810.4,306.2 810.8,345.4 811.1,306.7 811.4,344.7 811.8,307.1 812.1,343.9 812.5,309.5 812.9,346.6 813.2,314.2 813.5,351.8 813.9,316.8 814.2,359.2 814.6,316.9 814.9,358.3 815.3,316.4 815.6,357.3 816.0,314.9 816.4,349.7 816.7,310.9 817.0,347.3 817.4,304.8 817.8,345.6 818.1,303.5 818.4,344.5 818.8,307.3 819.1,343.5 819.5,308.8 819.9,341.3 820.2,307.4 820.5,337.7 820.9,305.9 821.2,335.3 821.6,304.0 821.9,334.4 822.3,301.8 822.6,333.9 823.0,300.5 823.4,333.2 823.7,298.6 824.0,332.6 824.4,296.0 824.8,331.9 825.1,293.3 825.4,331.2 825.8,291.4 826.1,330.4 826.5,293.3 826.9,330.7 827.2,295.1 827.5,331.1 827.9,294.5 828.2,331.5 828.6,292.2 828.9,333.4 829.3,292.2 829.6,336.6 830.0,294.1 830.4,336.6 830.7,296.2 831.0,333.7 831.4,298.2 831.8,332.5 832.1,300.0 832.4,332.9 832.8,299.7 833.1,332.8 833.5,299.0 833.9,333.6 834.2,298.3 834.5,335.4 834.9,297.6 835.2,335.8 835.6,296.7 835.9,334.8 836.3,295.9 836.6,333.2 837.0,292.8 837.4,332.1 837.7,287.8 838.0,331.5 838.4,284.8 838.8,330.9 839.1,282.3 839.4,330.2 839.8,279.8 840.1,331.2 840.5,277.6 840.9,333.8 841.2,275.4 841.5,334.8 841.9,276.9 842.2,334.3 842.6,283.8 842.9,333.9 843.3,286.6 843.6,334.6 844.0,283.3 844.4,336.0 844.7,275.0 845.0,337.1 845.4,262.8 845.8,337.9 846.1,257.0 846.4,339.0 846.8,254.7 847.1,340.3 847.5,260.0 847.9,341.9 848.2,275.8 848.5,343.9 848.9,287.8 849.2,345.8 849.6,295.6 849.9,347.5 850.3,304.5 850.6,349.4 851.0,314.0 851.4,351.5 851.7,320.4 852.0,351.7 852.4,321.0 852.8,349.2 853.1,321.7 853.4,348.3 853.8,322.4 854.1,349.5 854.5,322.5 854.9,352.6 855.2,322.1 855.5,357.4 855.9,322.3 856.2,358.1 856.6,322.9 856.9,354.1 857.3,323.1 857.6,350.9 858.0,323.1 858.4,349.5 858.7,321.5 859.0,348.0 859.4,321.7 859.8,347.6 860.1,316.9 860.4,346.2 860.8,307.4 861.1,343.8 861.5,301.5 861.9,341.4 862.2,299.9 862.5,338.6 862.9,304.5 863.2,336.4 863.6,308.1 863.9,335.0 864.3,310.3 864.6,334.1 865.0,313.3 865.4,337.7 865.7,317.2 866.0,342.9 866.4,321.7 866.8,347.1 867.1,326.8 867.4,350.6 867.8,331.5 868.1,355.5 868.5,336.8 868.9,361.2 869.2,342.5 869.5,371.3 869.9,348.9 870.2,374.5 870.6,355.8 870.9,377.8 871.3,359.6 871.6,380.3 872.0,361.0 872.4,382.1 872.7,362.4 873.1,383.8 873.4,363.1 873.8,385.4 874.1,363.2 874.4,387.1 874.8,363.0 875.1,388.8 875.5,362.6 875.9,390.6 876.2,363.1 876.6,392.3 876.9,364.4 877.2,387.1 877.6,365.7 877.9,386.6 878.3,367.0 878.6,388.3 879.0,368.5 879.4,392.4 879.7,369.8 880.1,400.6 880.4,369.7 880.8,400.6 881.1,370.7 881.4,393.9 881.8,373.4 882.1,392.2 882.5,374.7 882.9,391.2 883.2,371.8 883.5,391.1 883.9,366.8 884.2,391.1 884.6,364.7 884.9,391.0 885.3,364.8 885.6,390.9 886.0,365.6 886.4,390.8 886.7,366.0 887.0,390.7 887.4,365.6 887.8,390.7 888.1,366.5 888.4,390.7 888.8,369.4 889.1,390.9 889.5,371.0 889.9,391.3 890.2,371.1 890.5,391.5 890.9,371.1 891.2,391.6 891.6,370.8 891.9,391.6 892.3,370.7 892.6,391.6 893.0,369.3 893.4,392.2 893.7,366.6 894.0,393.3 894.4,365.7 894.8,393.7 895.1,365.7 895.4,393.6 895.8,365.5 896.1,393.5 896.5,365.6 896.9,393.4 897.2,365.8 897.5,392.9 897.9,366.0 898.2,392.1 898.6,366.6 898.9,391.6 899.3,367.8 899.6,391.3 900.0,368.4 900.4,390.8 900.7,368.3 901.0,390.5 901.4,367.3 901.8,390.3 902.1,365.8 902.4,390.0 902.8,364.0 903.1,389.7 903.5,361.9 903.9,389.9 904.2,360.1 904.5,390.6 904.9,358.5 905.2,390.8 905.6,356.9 905.9,390.4 906.3,355.2 906.6,389.9 907.0,353.4 907.4,389.7 907.7,353.8 908.0,389.8 908.4,358.6 908.8,389.6 909.1,361.1 909.4,387.1 909.8,359.9 910.1,381.4 910.5,358.8 910.9,377.9 911.2,357.7 911.5,377.2 911.9,353.9 912.2,378.8 912.6,347.6 912.9,382.6 913.3,344.0 913.6,384.0 914.0,344.2 914.4,383.2 914.7,346.4 915.0,382.0 915.4,347.1 915.8,381.1 916.1,343.3 916.4,378.8 916.8,340.0 917.1,375.0 917.5,339.8 917.9,374.5 918.2,341.7 918.5,377.1 918.9,343.5 919.2,379.0 919.6,346.2 919.9,381.3 920.3,349.9 920.6,384.8 921.0,352.6 921.4,392.3 921.7,354.0 922.0,385.4 922.4,355.1 922.8,382.0 923.1,351.6 923.4,379.4 923.8,348.4 924.1,379.0 924.5,344.6 924.9,378.7 925.2,340.1 925.5,378.3 925.9,336.1 926.2,381.4 926.6,333.2 926.9,387.7 927.3,330.7 927.6,396.0 928.0,327.9 928.4,395.6 928.7,324.6 929.0,395.3 929.4,321.3 929.8,386.5 930.1,320.5 930.4,379.7 930.8,323.5 931.1,375.3 931.5,325.0 931.9,372.6 932.2,323.5 932.5,367.9 932.9,322.0 933.2,365.0 933.6,316.4 933.9,364.3 934.3,307.2 934.6,369.2 935.0,302.2 935.4,379.1 935.7,306.7 936.0,380.9 936.4,317.0 936.8,375.3 937.1,324.2 937.4,373.8 937.8,327.8 938.1,376.3 938.5,331.4 938.9,377.9 939.2,334.7 939.5,378.7 939.9,338.1 940.2,381.4 940.6,341.5 940.9,385.3 941.3,344.2 941.6,386.7 942.0,347.4 942.4,386.5" fill="none" stroke="#5597D1" stroke-width="1.6" stroke-linejoin="round"/>
</g>
<polyline points="614.1,250.9 620.6,278.9 624.9,309.0 629.2,334.7 635.6,364.8 642.1,373.4 646.4,386.3 650.7,389.5 655.0,367.0 659.3,336.9 663.6,304.7 667.9,285.3 671.1,279.9 675.4,287.5 679.7,270.3 682.9,259.5 687.2,257.4 691.5,246.6 696.9,229.4 702.3,210.1 705.0,207.8 709.9,209.4 713.3,196.2 718.2,184.5 724.9,184.5 729.9,163.0 734.8,154.7 739.8,149.7 744.8,139.7 748.9,135.6 753.1,138.9 758.1,140.6 760.6,147.2 763.9,143.0 767.2,158.0 771.4,177.9 773.9,179.6 776.3,169.6 779.5,165.3 783.8,169.6 789.2,165.3 793.5,168.5 796.7,165.3 799.9,171.8 803.2,172.8 806.4,158.9 811.8,151.3 815.0,156.7 819.3,164.2 823.6,148.1 827.9,130.9 831.1,128.8 835.4,121.3 839.7,125.5 844.0,107.3 848.3,90.1 852.6,81.5 856.9,82.6 860.1,96.5 863.3,109.4 867.6,117.0 872.0,121.3 877.3,119.1 880.5,123.4 884.8,127.7 889.1,122.3 893.4,117.0 897.7,101.9 901.0,103.0 905.2,95.5 909.5,115.9 912.8,129.8 918.1,130.9 922.4,141.7 925.7,146.0 928.9,141.7 932.1,152.4 936.4,173.9 940.7,189.0 942.2,192.0" fill="none" stroke="#961A1C" stroke-width="4.2" stroke-linejoin="round" stroke-linecap="round"/>
<line x1="613.80" y1="71.50" x2="942.80" y2="71.50" stroke="#000" stroke-width="1.25"/>
<line x1="613.80" y1="399.40" x2="942.80" y2="399.40" stroke="#000" stroke-width="1.25"/>
<line x1="614.40" y1="71.50" x2="614.40" y2="399.40" stroke="#000" stroke-width="1.25"/>
<line x1="942.20" y1="71.50" x2="942.20" y2="399.40" stroke="#000" stroke-width="1.25"/>
<line x1="614.40" y1="63.10" x2="614.40" y2="71.50" stroke="#000" stroke-width="1.1"/>
<line x1="614.40" y1="399.40" x2="614.40" y2="407.80" stroke="#000" stroke-width="1.1"/>
<text transform="translate(614.40 429.30) scale(1 1.06)" font-size="14.8" text-anchor="middle">10/10</text>
<line x1="661.23" y1="63.10" x2="661.23" y2="71.50" stroke="#000" stroke-width="1.1"/>
<line x1="661.23" y1="399.40" x2="661.23" y2="407.80" stroke="#000" stroke-width="1.1"/>
<text transform="translate(661.23 429.30) scale(1 1.06)" font-size="14.8" text-anchor="middle">11/10</text>
<line x1="708.06" y1="63.10" x2="708.06" y2="71.50" stroke="#000" stroke-width="1.1"/>
<line x1="708.06" y1="399.40" x2="708.06" y2="407.80" stroke="#000" stroke-width="1.1"/>
<text transform="translate(708.06 429.30) scale(1 1.06)" font-size="14.8" text-anchor="middle">12/10</text>
<line x1="754.89" y1="63.10" x2="754.89" y2="71.50" stroke="#000" stroke-width="1.1"/>
<line x1="754.89" y1="399.40" x2="754.89" y2="407.80" stroke="#000" stroke-width="1.1"/>
<text transform="translate(754.89 429.30) scale(1 1.06)" font-size="14.8" text-anchor="middle">13/10</text>
<line x1="801.71" y1="63.10" x2="801.71" y2="71.50" stroke="#000" stroke-width="1.1"/>
<line x1="801.71" y1="399.40" x2="801.71" y2="407.80" stroke="#000" stroke-width="1.1"/>
<text transform="translate(801.71 429.30) scale(1 1.06)" font-size="14.8" text-anchor="middle">14/10</text>
<line x1="848.54" y1="63.10" x2="848.54" y2="71.50" stroke="#000" stroke-width="1.1"/>
<line x1="848.54" y1="399.40" x2="848.54" y2="407.80" stroke="#000" stroke-width="1.1"/>
<text transform="translate(848.54 429.30) scale(1 1.06)" font-size="14.8" text-anchor="middle">15/10</text>
<line x1="895.37" y1="63.10" x2="895.37" y2="71.50" stroke="#000" stroke-width="1.1"/>
<line x1="895.37" y1="399.40" x2="895.37" y2="407.80" stroke="#000" stroke-width="1.1"/>
<text transform="translate(895.37 429.30) scale(1 1.06)" font-size="14.8" text-anchor="middle">16/10</text>
<line x1="942.20" y1="63.10" x2="942.20" y2="71.50" stroke="#000" stroke-width="1.1"/>
<line x1="942.20" y1="399.40" x2="942.20" y2="407.80" stroke="#000" stroke-width="1.1"/>
<text transform="translate(942.20 429.30) scale(1 1.06)" font-size="14.8" text-anchor="middle">17/10</text>
<text transform="translate(778.60 457.80) scale(1 1.02)" font-size="21.2" text-anchor="middle">Time (Day/UTC)</text>
<line x1="94.00" y1="794.64" x2="430.20" y2="794.64" stroke="#000" stroke-width="1.0"/>
<line x1="94.00" y1="729.08" x2="430.20" y2="729.08" stroke="#000" stroke-width="1.0"/>
<line x1="94.00" y1="663.52" x2="430.20" y2="663.52" stroke="#000" stroke-width="1.0"/>
<line x1="94.00" y1="597.96" x2="430.20" y2="597.96" stroke="#000" stroke-width="1.0"/>
<line x1="94.00" y1="532.40" x2="102.40" y2="532.40" stroke="#000" stroke-width="1.0"/>
<line x1="94.00" y1="860.20" x2="102.40" y2="860.20" stroke="#000" stroke-width="1.0"/>
<text transform="translate(83.40 865.50) scale(1 1.06)" font-size="14.8" text-anchor="end">0</text>
<text transform="translate(83.40 799.94) scale(1 1.06)" font-size="14.8" text-anchor="end">20</text>
<text transform="translate(83.40 734.38) scale(1 1.06)" font-size="14.8" text-anchor="end">40</text>
<text transform="translate(83.40 668.82) scale(1 1.06)" font-size="14.8" text-anchor="end">60</text>
<text transform="translate(83.40 603.26) scale(1 1.06)" font-size="14.8" text-anchor="end">80</text>
<text transform="translate(83.40 537.70) scale(1 1.06)" font-size="14.8" text-anchor="end">100</text>
<line x1="98.20" y1="827.42" x2="102.40" y2="827.42" stroke="#8a8a8a" stroke-width="1.0"/>
<line x1="98.20" y1="761.86" x2="102.40" y2="761.86" stroke="#8a8a8a" stroke-width="1.0"/>
<line x1="98.20" y1="696.30" x2="102.40" y2="696.30" stroke="#8a8a8a" stroke-width="1.0"/>
<line x1="98.20" y1="630.74" x2="102.40" y2="630.74" stroke="#8a8a8a" stroke-width="1.0"/>
<line x1="98.20" y1="565.18" x2="102.40" y2="565.18" stroke="#8a8a8a" stroke-width="1.0"/>
<line x1="430.20" y1="860.20" x2="438.60" y2="860.20" stroke="#000" stroke-width="1.0"/>
<text transform="translate(448.60 865.50) scale(1 1.06)" font-size="14.8" text-anchor="start">0.00</text>
<line x1="430.20" y1="849.24" x2="434.40" y2="849.24" stroke="#8a8a8a" stroke-width="1.0"/>
<line x1="430.20" y1="838.28" x2="434.40" y2="838.28" stroke="#8a8a8a" stroke-width="1.0"/>
<line x1="430.20" y1="827.32" x2="434.40" y2="827.32" stroke="#8a8a8a" stroke-width="1.0"/>
<line x1="430.20" y1="816.36" x2="434.40" y2="816.36" stroke="#8a8a8a" stroke-width="1.0"/>
<line x1="430.20" y1="805.40" x2="438.60" y2="805.40" stroke="#000" stroke-width="1.0"/>
<text transform="translate(448.60 810.70) scale(1 1.06)" font-size="14.8" text-anchor="start">0.05</text>
<line x1="430.20" y1="794.44" x2="434.40" y2="794.44" stroke="#8a8a8a" stroke-width="1.0"/>
<line x1="430.20" y1="783.48" x2="434.40" y2="783.48" stroke="#8a8a8a" stroke-width="1.0"/>
<line x1="430.20" y1="772.52" x2="434.40" y2="772.52" stroke="#8a8a8a" stroke-width="1.0"/>
<line x1="430.20" y1="761.56" x2="434.40" y2="761.56" stroke="#8a8a8a" stroke-width="1.0"/>
<line x1="430.20" y1="750.60" x2="438.60" y2="750.60" stroke="#000" stroke-width="1.0"/>
<text transform="translate(448.60 755.90) scale(1 1.06)" font-size="14.8" text-anchor="start">0.10</text>
<line x1="430.20" y1="739.64" x2="434.40" y2="739.64" stroke="#8a8a8a" stroke-width="1.0"/>
<line x1="430.20" y1="728.68" x2="434.40" y2="728.68" stroke="#8a8a8a" stroke-width="1.0"/>
<line x1="430.20" y1="717.72" x2="434.40" y2="717.72" stroke="#8a8a8a" stroke-width="1.0"/>
<line x1="430.20" y1="706.76" x2="434.40" y2="706.76" stroke="#8a8a8a" stroke-width="1.0"/>
<line x1="430.20" y1="695.80" x2="438.60" y2="695.80" stroke="#000" stroke-width="1.0"/>
<text transform="translate(448.60 701.10) scale(1 1.06)" font-size="14.8" text-anchor="start">0.15</text>
<line x1="430.20" y1="684.84" x2="434.40" y2="684.84" stroke="#8a8a8a" stroke-width="1.0"/>
<line x1="430.20" y1="673.88" x2="434.40" y2="673.88" stroke="#8a8a8a" stroke-width="1.0"/>
<line x1="430.20" y1="662.92" x2="434.40" y2="662.92" stroke="#8a8a8a" stroke-width="1.0"/>
<line x1="430.20" y1="651.96" x2="434.40" y2="651.96" stroke="#8a8a8a" stroke-width="1.0"/>
<line x1="430.20" y1="641.00" x2="438.60" y2="641.00" stroke="#000" stroke-width="1.0"/>
<text transform="translate(448.60 646.30) scale(1 1.06)" font-size="14.8" text-anchor="start">0.20</text>
<line x1="430.20" y1="630.04" x2="434.40" y2="630.04" stroke="#8a8a8a" stroke-width="1.0"/>
<line x1="430.20" y1="619.08" x2="434.40" y2="619.08" stroke="#8a8a8a" stroke-width="1.0"/>
<line x1="430.20" y1="608.12" x2="434.40" y2="608.12" stroke="#8a8a8a" stroke-width="1.0"/>
<line x1="430.20" y1="597.16" x2="434.40" y2="597.16" stroke="#8a8a8a" stroke-width="1.0"/>
<line x1="430.20" y1="586.20" x2="438.60" y2="586.20" stroke="#000" stroke-width="1.0"/>
<text transform="translate(448.60 591.50) scale(1 1.06)" font-size="14.8" text-anchor="start">0.25</text>
<line x1="430.20" y1="575.24" x2="434.40" y2="575.24" stroke="#8a8a8a" stroke-width="1.0"/>
<line x1="430.20" y1="564.28" x2="434.40" y2="564.28" stroke="#8a8a8a" stroke-width="1.0"/>
<line x1="430.20" y1="553.32" x2="434.40" y2="553.32" stroke="#8a8a8a" stroke-width="1.0"/>
<line x1="430.20" y1="542.36" x2="434.40" y2="542.36" stroke="#8a8a8a" stroke-width="1.0"/>
<text transform="translate(44.60 696.10) rotate(-90)" font-size="21.5" text-anchor="middle">Percent &amp; Total Rainfall</text>
<text transform="translate(265.80 511.30) scale(1 1.04)" font-size="25.5" text-anchor="middle" textLength="455.5" lengthAdjust="spacingAndGlyphs">Relative Humidity (%) &amp; Precipitation (in)</text>
<g clip-path="url(#c3x)" fill="none" stroke-linejoin="round" stroke-linecap="round">
<polyline points="101.7,652.8 106.6,642.9 108.3,618.0 110.0,589.8 112.5,618.0 114.9,619.6 115.8,579.8 118.3,588.1 119.9,549.9 123.2,563.2 126.6,563.2 130.7,563.2 132.4,576.5 134.9,553.2 138.2,548.3 141.2,541.6 142.3,626.3 144.8,657.8 149.0,594.7 149.8,682.7 153.1,662.8 155.6,613.0 158.9,694.3 163.9,604.7 166.4,679.4 169.7,708.5 174.7,692.0 178.0,659.5 181.3,679.4 183.8,601.4 186.3,637.9 188.0,659.5 191.3,642.9 195.5,636.2 197.9,661.1 201.3,649.5 204.6,671.1 210.4,682.7 212.9,667.8 217.9,647.9 222.8,662.8 226.2,676.1 231.1,674.4 232.8,619.6 236.1,672.8 239.4,637.9 242.8,609.7 247.7,588.1 250.2,613.0 256.0,656.2 257.7,629.6 262.7,644.5 266.0,635.0 270.0,626.3 273.3,613.0 275.8,606.4 276.6,579.8 279.1,550.8 280.8,584.8 283.2,604.7 286.6,596.4 289.0,629.6 289.9,652.8 292.4,636.2 294.9,649.5 298.2,641.2 301.5,669.4 304.8,676.1 308.1,686.0 309.8,649.5 314.0,642.9 317.3,652.8 321.4,689.4 324.7,669.4 328.9,662.8 333.0,649.5 338.0,654.5 341.3,644.5 344.7,662.8 348.0,694.3 354.6,679.4 357.9,667.8 361.3,593.1 364.6,627.9 367.9,563.2 370.4,596.4 372.9,637.9 376.2,604.7 379.5,613.0 382.8,589.8 386.2,606.4 388.7,578.1 391.1,646.2 392.8,692.7 397.8,697.7 402.8,679.4 406.9,661.1 411.1,676.1 414.4,609.7 418.5,603.0 421.0,659.5 426.0,646.2 429.3,606.4 430.2,604.0" stroke="#8DC850" stroke-width="5.9"/>
<polyline points="101.2,859.7 109.1,859.7 110.8,848.2 117.9,843.0 119.6,821.9 119.6,795.5 120.5,769.1 123.1,758.6 130.2,756.8 146.0,757.7 151.3,753.3 156.5,746.3 163.6,744.5 165.3,737.5 179.4,735.7 186.4,734.0 200.5,734.0 275.0,734.0 278.0,726.0 281.0,720.0 286.0,716.5 430.2,716.5" stroke="#47B247" stroke-width="12.6"/>
</g>
<line x1="101.80" y1="532.40" x2="430.80" y2="532.40" stroke="#000" stroke-width="1.25"/>
<line x1="101.80" y1="860.20" x2="430.80" y2="860.20" stroke="#000" stroke-width="1.25"/>
<line x1="102.40" y1="532.40" x2="102.40" y2="860.20" stroke="#000" stroke-width="1.25"/>
<line x1="430.20" y1="532.40" x2="430.20" y2="860.20" stroke="#000" stroke-width="1.25"/>
<line x1="102.40" y1="524.00" x2="102.40" y2="532.40" stroke="#000" stroke-width="1.1"/>
<line x1="102.40" y1="860.20" x2="102.40" y2="868.60" stroke="#000" stroke-width="1.1"/>
<text transform="translate(102.40 890.10) scale(1 1.06)" font-size="14.8" text-anchor="middle">10/10</text>
<line x1="149.23" y1="524.00" x2="149.23" y2="532.40" stroke="#000" stroke-width="1.1"/>
<line x1="149.23" y1="860.20" x2="149.23" y2="868.60" stroke="#000" stroke-width="1.1"/>
<text transform="translate(149.23 890.10) scale(1 1.06)" font-size="14.8" text-anchor="middle">11/10</text>
<line x1="196.06" y1="524.00" x2="196.06" y2="532.40" stroke="#000" stroke-width="1.1"/>
<line x1="196.06" y1="860.20" x2="196.06" y2="868.60" stroke="#000" stroke-width="1.1"/>
<text transform="translate(196.06 890.10) scale(1 1.06)" font-size="14.8" text-anchor="middle">12/10</text>
<line x1="242.89" y1="524.00" x2="242.89" y2="532.40" stroke="#000" stroke-width="1.1"/>
<line x1="242.89" y1="860.20" x2="242.89" y2="868.60" stroke="#000" stroke-width="1.1"/>
<text transform="translate(242.89 890.10) scale(1 1.06)" font-size="14.8" text-anchor="middle">13/10</text>
<line x1="289.71" y1="524.00" x2="289.71" y2="532.40" stroke="#000" stroke-width="1.1"/>
<line x1="289.71" y1="860.20" x2="289.71" y2="868.60" stroke="#000" stroke-width="1.1"/>
<text transform="translate(289.71 890.10) scale(1 1.06)" font-size="14.8" text-anchor="middle">14/10</text>
<line x1="336.54" y1="524.00" x2="336.54" y2="532.40" stroke="#000" stroke-width="1.1"/>
<line x1="336.54" y1="860.20" x2="336.54" y2="868.60" stroke="#000" stroke-width="1.1"/>
<text transform="translate(336.54 890.10) scale(1 1.06)" font-size="14.8" text-anchor="middle">15/10</text>
<line x1="383.37" y1="524.00" x2="383.37" y2="532.40" stroke="#000" stroke-width="1.1"/>
<line x1="383.37" y1="860.20" x2="383.37" y2="868.60" stroke="#000" stroke-width="1.1"/>
<text transform="translate(383.37 890.10) scale(1 1.06)" font-size="14.8" text-anchor="middle">16/10</text>
<line x1="430.20" y1="524.00" x2="430.20" y2="532.40" stroke="#000" stroke-width="1.1"/>
<line x1="430.20" y1="860.20" x2="430.20" y2="868.60" stroke="#000" stroke-width="1.1"/>
<text transform="translate(430.20 890.10) scale(1 1.06)" font-size="14.8" text-anchor="middle">17/10</text>
<text transform="translate(266.60 918.60) scale(1 1.02)" font-size="21.2" text-anchor="middle">Time (Day/UTC)</text>
<line x1="605.80" y1="532.50" x2="950.70" y2="532.50" stroke="#000" stroke-width="1.0"/>
<text transform="translate(595.80 537.90) scale(1 1.04)" font-size="15.2" text-anchor="end">North</text>
<line x1="605.80" y1="614.42" x2="950.70" y2="614.42" stroke="#000" stroke-width="1.0"/>
<text transform="translate(595.80 619.82) scale(1 1.04)" font-size="15.2" text-anchor="end">West</text>
<line x1="605.80" y1="696.35" x2="950.70" y2="696.35" stroke="#000" stroke-width="1.0"/>
<text transform="translate(595.80 701.75) scale(1 1.04)" font-size="15.2" text-anchor="end">South</text>
<line x1="605.80" y1="778.28" x2="950.70" y2="778.28" stroke="#000" stroke-width="1.0"/>
<text transform="translate(595.80 783.68) scale(1 1.04)" font-size="15.2" text-anchor="end">East</text>
<line x1="605.80" y1="860.20" x2="950.70" y2="860.20" stroke="#000" stroke-width="1.0"/>
<text transform="translate(595.80 865.60) scale(1 1.04)" font-size="15.2" text-anchor="end">North</text>
<text transform="translate(540.80 696.00) rotate(-90)" font-size="21" text-anchor="middle">Direction (Colored By Speed)</text>
<text transform="translate(778.90 505.70) scale(1 1.05)" font-size="25.5" text-anchor="middle" textLength="164.0" lengthAdjust="spacingAndGlyphs">Wind Direction</text>
<rect x="952.9" y="594.10" width="30" height="21.4" fill="#8F1419"/>
<text transform="translate(1007.60 610.12)" font-size="16.3" text-anchor="middle">20+</text>
<rect x="952.9" y="614.54" width="30" height="21.4" fill="#BA1B25"/>
<text transform="translate(1007.60 630.56)" font-size="16.3" text-anchor="middle">18</text>
<rect x="952.9" y="634.98" width="30" height="21.4" fill="#DE3228"/>
<text transform="translate(1007.60 651.00)" font-size="16.3" text-anchor="middle">16</text>
<rect x="952.9" y="655.42" width="30" height="21.4" fill="#F0642A"/>
<text transform="translate(1007.60 671.44)" font-size="16.3" text-anchor="middle">14</text>
<rect x="952.9" y="675.86" width="30" height="21.4" fill="#F6A54A"/>
<text transform="translate(1007.60 691.88)" font-size="16.3" text-anchor="middle">12</text>
<rect x="952.9" y="696.30" width="30" height="21.4" fill="#E6DF5A"/>
<text transform="translate(1007.60 712.32)" font-size="16.3" text-anchor="middle">10</text>
<rect x="952.9" y="716.74" width="30" height="21.4" fill="#7CC250"/>
<text transform="translate(1007.60 732.76)" font-size="16.3" text-anchor="middle">8</text>
<rect x="952.9" y="737.18" width="30" height="21.4" fill="#47A46E"/>
<text transform="translate(1007.60 753.20)" font-size="16.3" text-anchor="middle">6</text>
<rect x="952.9" y="757.62" width="30" height="21.4" fill="#4A8CC6"/>
<text transform="translate(1007.60 773.64)" font-size="16.3" text-anchor="middle">4</text>
<rect x="952.9" y="778.06" width="30" height="21.4" fill="#7AB8E4"/>
<text transform="translate(1007.60 794.08)" font-size="16.3" text-anchor="middle">2</text>
<rect x="952.9" y="798.50" width="30" height="20.6" fill="#B8E3F8"/>
<text transform="translate(1007.60 814.52)" font-size="16.3" text-anchor="middle">0</text>
<text transform="translate(1007.40 587.90)" font-size="16.5" text-anchor="middle">mph</text>
<g>
<circle cx="904.9" cy="620.5" r="2.9" fill="#4A8CC6"/><circle cx="680.9" cy="609.3" r="2.9" fill="#DE3228"/><circle cx="628.2" cy="705.5" r="2.9" fill="#E6DF5A"/><circle cx="621.9" cy="725.6" r="2.9" fill="#E6DF5A"/><circle cx="911.2" cy="735.9" r="2.9" fill="#4A8CC6"/><circle cx="633.5" cy="724.6" r="2.9" fill="#E6DF5A"/><circle cx="798.6" cy="600.0" r="2.9" fill="#E6DF5A"/><circle cx="796.8" cy="576.4" r="2.9" fill="#7AB8E4"/><circle cx="664.4" cy="544.7" r="2.9" fill="#47A46E"/><circle cx="742.4" cy="551.6" r="2.9" fill="#4A8CC6"/><circle cx="679.1" cy="597.0" r="2.9" fill="#DE3228"/><circle cx="744.0" cy="637.9" r="2.9" fill="#B8E3F8"/><circle cx="721.2" cy="594.9" r="2.9" fill="#DE3228"/><circle cx="783.6" cy="710.0" r="2.9" fill="#4A8CC6"/><circle cx="900.0" cy="655.2" r="2.9" fill="#B8E3F8"/><circle cx="868.2" cy="542.9" r="2.9" fill="#4A8CC6"/><circle cx="890.5" cy="701.7" r="2.9" fill="#7AB8E4"/><circle cx="779.4" cy="736.0" r="2.9" fill="#E6DF5A"/><circle cx="697.5" cy="580.0" r="2.9" fill="#E6DF5A"/><circle cx="708.1" cy="586.4" r="2.9" fill="#7CC250"/><circle cx="899.0" cy="554.1" r="2.9" fill="#B8E3F8"/><circle cx="626.9" cy="725.0" r="2.9" fill="#E6DF5A"/><circle cx="856.9" cy="536.4" r="2.9" fill="#47A46E"/><circle cx="855.4" cy="565.0" r="2.9" fill="#47A46E"/><circle cx="659.0" cy="572.1" r="2.9" fill="#E6DF5A"/><circle cx="749.1" cy="771.9" r="2.9" fill="#B8E3F8"/><circle cx="696.3" cy="559.8" r="2.9" fill="#F6A54A"/><circle cx="819.6" cy="572.9" r="2.9" fill="#F6A54A"/><circle cx="910.8" cy="685.9" r="2.9" fill="#4A8CC6"/><circle cx="625.3" cy="709.4" r="2.9" fill="#F6A54A"/><circle cx="871.0" cy="803.0" r="2.9" fill="#7AB8E4"/><circle cx="935.6" cy="725.2" r="2.9" fill="#F6A54A"/><circle cx="907.4" cy="735.4" r="2.9" fill="#4A8CC6"/><circle cx="750.7" cy="818.7" r="2.9" fill="#B8E3F8"/><circle cx="786.3" cy="750.3" r="2.9" fill="#4A8CC6"/><circle cx="626.6" cy="711.0" r="2.9" fill="#E6DF5A"/><circle cx="896.0" cy="809.1" r="2.9" fill="#7AB8E4"/><circle cx="932.1" cy="740.5" r="2.9" fill="#47A46E"/><circle cx="629.3" cy="706.2" r="2.9" fill="#DE3228"/><circle cx="896.5" cy="717.8" r="2.9" fill="#B8E3F8"/><circle cx="870.1" cy="710.9" r="2.9" fill="#B8E3F8"/><circle cx="865.1" cy="552.9" r="2.9" fill="#7CC250"/><circle cx="877.4" cy="596.4" r="2.9" fill="#7AB8E4"/><circle cx="748.1" cy="712.0" r="2.9" fill="#7AB8E4"/><circle cx="899.0" cy="595.6" r="2.9" fill="#B8E3F8"/><circle cx="901.3" cy="786.7" r="2.9" fill="#7AB8E4"/><circle cx="868.2" cy="536.2" r="2.9" fill="#4A8CC6"/><circle cx="731.0" cy="578.0" r="2.9" fill="#47A46E"/><circle cx="692.6" cy="586.9" r="2.9" fill="#F6A54A"/><circle cx="853.3" cy="563.9" r="2.9" fill="#47A46E"/><circle cx="700.8" cy="582.0" r="2.9" fill="#F6A54A"/><circle cx="898.7" cy="796.4" r="2.9" fill="#7AB8E4"/><circle cx="661.4" cy="576.9" r="2.9" fill="#F6A54A"/><circle cx="882.8" cy="759.4" r="2.9" fill="#4A8CC6"/><circle cx="706.5" cy="557.1" r="2.9" fill="#47A46E"/><circle cx="783.6" cy="733.2" r="2.9" fill="#4A8CC6"/><circle cx="785.0" cy="672.4" r="2.9" fill="#7AB8E4"/><circle cx="922.4" cy="719.2" r="2.9" fill="#47A46E"/><circle cx="902.2" cy="817.9" r="2.9" fill="#B8E3F8"/><circle cx="673.1" cy="567.8" r="2.9" fill="#F0642A"/><circle cx="735.9" cy="590.4" r="2.9" fill="#7CC250"/><circle cx="827.6" cy="579.7" r="2.9" fill="#E6DF5A"/><circle cx="749.0" cy="787.4" r="2.9" fill="#7AB8E4"/><circle cx="931.2" cy="723.4" r="2.9" fill="#E6DF5A"/><circle cx="745.2" cy="571.7" r="2.9" fill="#7AB8E4"/><circle cx="789.2" cy="533.6" r="2.9" fill="#4A8CC6"/><circle cx="658.3" cy="561.7" r="2.9" fill="#E6DF5A"/><circle cx="938.5" cy="730.0" r="2.9" fill="#4A8CC6"/><circle cx="866.7" cy="546.2" r="2.9" fill="#4A8CC6"/><circle cx="655.2" cy="594.8" r="2.9" fill="#E6DF5A"/><circle cx="745.5" cy="566.1" r="2.9" fill="#7AB8E4"/><circle cx="861.0" cy="541.4" r="2.9" fill="#47A46E"/><circle cx="930.5" cy="604.7" r="2.9" fill="#7AB8E4"/><circle cx="624.0" cy="727.2" r="2.9" fill="#E6DF5A"/><circle cx="729.9" cy="582.4" r="2.9" fill="#47A46E"/><circle cx="881.0" cy="688.4" r="2.9" fill="#7AB8E4"/><circle cx="722.1" cy="596.4" r="2.9" fill="#F6A54A"/><circle cx="732.2" cy="611.7" r="2.9" fill="#47A46E"/><circle cx="704.1" cy="851.9" r="2.9" fill="#47A46E"/><circle cx="873.0" cy="698.9" r="2.9" fill="#B8E3F8"/><circle cx="704.2" cy="539.0" r="2.9" fill="#7CC250"/><circle cx="730.4" cy="590.4" r="2.9" fill="#DE3228"/><circle cx="648.6" cy="713.4" r="2.9" fill="#4A8CC6"/><circle cx="813.3" cy="571.5" r="2.9" fill="#E6DF5A"/><circle cx="742.0" cy="538.3" r="2.9" fill="#47A46E"/><circle cx="764.4" cy="728.3" r="2.9" fill="#4A8CC6"/><circle cx="880.0" cy="672.3" r="2.9" fill="#B8E3F8"/><circle cx="900.0" cy="766.0" r="2.9" fill="#7AB8E4"/><circle cx="846.2" cy="584.6" r="2.9" fill="#DE3228"/><circle cx="661.6" cy="578.9" r="2.9" fill="#F6A54A"/><circle cx="652.7" cy="592.7" r="2.9" fill="#7CC250"/><circle cx="629.7" cy="708.6" r="2.9" fill="#F0642A"/><circle cx="656.4" cy="576.4" r="2.9" fill="#7CC250"/><circle cx="802.3" cy="593.5" r="2.9" fill="#E6DF5A"/><circle cx="864.1" cy="563.6" r="2.9" fill="#7CC250"/><circle cx="925.9" cy="801.6" r="2.9" fill="#B8E3F8"/><circle cx="752.8" cy="590.6" r="2.9" fill="#7AB8E4"/><circle cx="673.5" cy="600.6" r="2.9" fill="#E6DF5A"/><circle cx="721.6" cy="600.6" r="2.9" fill="#F6A54A"/><circle cx="647.3" cy="743.9" r="2.9" fill="#7CC250"/><circle cx="776.0" cy="737.4" r="2.9" fill="#47A46E"/><circle cx="663.0" cy="574.3" r="2.9" fill="#7CC250"/><circle cx="745.6" cy="762.0" r="2.9" fill="#4A8CC6"/><circle cx="941.1" cy="691.8" r="2.9" fill="#7AB8E4"/><circle cx="796.3" cy="566.0" r="2.9" fill="#7CC250"/><circle cx="649.6" cy="705.8" r="2.9" fill="#4A8CC6"/><circle cx="907.5" cy="750.6" r="2.9" fill="#4A8CC6"/><circle cx="743.5" cy="647.9" r="2.9" fill="#B8E3F8"/><circle cx="924.7" cy="589.8" r="2.9" fill="#B8E3F8"/><circle cx="665.0" cy="568.0" r="2.9" fill="#E6DF5A"/><circle cx="937.3" cy="742.7" r="2.9" fill="#7AB8E4"/><circle cx="785.3" cy="600.9" r="2.9" fill="#4A8CC6"/><circle cx="649.1" cy="733.0" r="2.9" fill="#7CC250"/><circle cx="742.4" cy="560.8" r="2.9" fill="#7AB8E4"/><circle cx="870.0" cy="693.1" r="2.9" fill="#7AB8E4"/><circle cx="926.4" cy="632.2" r="2.9" fill="#B8E3F8"/><circle cx="812.1" cy="574.7" r="2.9" fill="#E6DF5A"/><circle cx="664.8" cy="573.3" r="2.9" fill="#F6A54A"/><circle cx="885.2" cy="712.2" r="2.9" fill="#7AB8E4"/><circle cx="700.7" cy="564.6" r="2.9" fill="#F6A54A"/><circle cx="615.3" cy="727.7" r="2.9" fill="#F6A54A"/><circle cx="691.4" cy="590.0" r="2.9" fill="#E6DF5A"/><circle cx="749.1" cy="782.2" r="2.9" fill="#7AB8E4"/><circle cx="660.7" cy="589.2" r="2.9" fill="#E6DF5A"/><circle cx="787.6" cy="598.3" r="2.9" fill="#7AB8E4"/><circle cx="898.8" cy="704.4" r="2.9" fill="#B8E3F8"/><circle cx="710.8" cy="561.8" r="2.9" fill="#47A46E"/><circle cx="873.7" cy="703.8" r="2.9" fill="#7AB8E4"/><circle cx="735.4" cy="571.6" r="2.9" fill="#4A8CC6"/><circle cx="661.1" cy="598.2" r="2.9" fill="#E6DF5A"/><circle cx="720.1" cy="594.4" r="2.9" fill="#DE3228"/><circle cx="933.0" cy="728.7" r="2.9" fill="#47A46E"/><circle cx="872.4" cy="710.2" r="2.9" fill="#7AB8E4"/><circle cx="749.0" cy="748.9" r="2.9" fill="#4A8CC6"/><circle cx="751.8" cy="722.3" r="2.9" fill="#7AB8E4"/><circle cx="909.7" cy="743.5" r="2.9" fill="#7AB8E4"/><circle cx="869.6" cy="545.0" r="2.9" fill="#4A8CC6"/><circle cx="669.0" cy="551.2" r="2.9" fill="#7CC250"/><circle cx="906.5" cy="736.3" r="2.9" fill="#4A8CC6"/><circle cx="856.8" cy="563.5" r="2.9" fill="#E6DF5A"/><circle cx="838.8" cy="558.6" r="2.9" fill="#F6A54A"/><circle cx="889.0" cy="786.3" r="2.9" fill="#B8E3F8"/><circle cx="801.5" cy="562.5" r="2.9" fill="#47A46E"/><circle cx="745.2" cy="764.2" r="2.9" fill="#B8E3F8"/><circle cx="914.5" cy="755.0" r="2.9" fill="#47A46E"/><circle cx="861.3" cy="533.8" r="2.9" fill="#47A46E"/><circle cx="651.0" cy="726.0" r="2.9" fill="#47A46E"/><circle cx="777.1" cy="721.8" r="2.9" fill="#E6DF5A"/><circle cx="736.6" cy="575.0" r="2.9" fill="#47A46E"/><circle cx="688.7" cy="600.2" r="2.9" fill="#F6A54A"/><circle cx="940.6" cy="631.3" r="2.9" fill="#7AB8E4"/><circle cx="904.9" cy="629.3" r="2.9" fill="#7AB8E4"/><circle cx="891.3" cy="640.0" r="2.9" fill="#B8E3F8"/><circle cx="797.8" cy="585.9" r="2.9" fill="#47A46E"/><circle cx="659.3" cy="549.7" r="2.9" fill="#7CC250"/><circle cx="773.6" cy="747.7" r="2.9" fill="#47A46E"/><circle cx="868.8" cy="573.9" r="2.9" fill="#F6A54A"/><circle cx="773.3" cy="715.0" r="2.9" fill="#47A46E"/><circle cx="627.5" cy="711.5" r="2.9" fill="#F0642A"/><circle cx="747.9" cy="844.9" r="2.9" fill="#7AB8E4"/><circle cx="746.8" cy="618.8" r="2.9" fill="#47A46E"/><circle cx="733.8" cy="538.8" r="2.9" fill="#4A8CC6"/><circle cx="774.6" cy="712.4" r="2.9" fill="#E6DF5A"/><circle cx="767.3" cy="700.6" r="2.9" fill="#F6A54A"/><circle cx="662.8" cy="590.4" r="2.9" fill="#E6DF5A"/><circle cx="817.9" cy="593.8" r="2.9" fill="#E6DF5A"/><circle cx="637.6" cy="712.0" r="2.9" fill="#F6A54A"/><circle cx="800.3" cy="595.0" r="2.9" fill="#E6DF5A"/><circle cx="883.5" cy="704.4" r="2.9" fill="#4A8CC6"/><circle cx="930.3" cy="636.6" r="2.9" fill="#7AB8E4"/><circle cx="941.0" cy="560.0" r="2.9" fill="#B8E3F8"/><circle cx="915.3" cy="714.4" r="2.9" fill="#7AB8E4"/><circle cx="834.2" cy="578.5" r="2.9" fill="#E6DF5A"/><circle cx="744.0" cy="661.1" r="2.9" fill="#7AB8E4"/><circle cx="791.9" cy="590.9" r="2.9" fill="#7AB8E4"/><circle cx="781.6" cy="723.5" r="2.9" fill="#47A46E"/><circle cx="785.3" cy="647.9" r="2.9" fill="#7AB8E4"/><circle cx="646.3" cy="726.0" r="2.9" fill="#7CC250"/><circle cx="687.2" cy="600.0" r="2.9" fill="#E6DF5A"/><circle cx="843.3" cy="564.9" r="2.9" fill="#E6DF5A"/><circle cx="768.7" cy="705.5" r="2.9" fill="#E6DF5A"/><circle cx="669.2" cy="564.9" r="2.9" fill="#F6A54A"/><circle cx="872.7" cy="688.9" r="2.9" fill="#7AB8E4"/><circle cx="616.9" cy="734.6" r="2.9" fill="#F0642A"/><circle cx="748.1" cy="846.9" r="2.9" fill="#4A8CC6"/><circle cx="833.2" cy="594.4" r="2.9" fill="#F6A54A"/><circle cx="712.6" cy="594.2" r="2.9" fill="#BA1B25"/><circle cx="897.5" cy="703.1" r="2.9" fill="#B8E3F8"/><circle cx="901.7" cy="814.8" r="2.9" fill="#7AB8E4"/><circle cx="730.3" cy="593.2" r="2.9" fill="#7CC250"/><circle cx="795.2" cy="603.3" r="2.9" fill="#4A8CC6"/><circle cx="823.0" cy="576.2" r="2.9" fill="#E6DF5A"/><circle cx="758.3" cy="713.0" r="2.9" fill="#4A8CC6"/><circle cx="871.0" cy="806.5" r="2.9" fill="#7AB8E4"/><circle cx="809.6" cy="580.4" r="2.9" fill="#E6DF5A"/><circle cx="707.5" cy="801.0" r="2.9" fill="#7AB8E4"/><circle cx="861.0" cy="562.4" r="2.9" fill="#E6DF5A"/><circle cx="662.7" cy="549.8" r="2.9" fill="#47A46E"/><circle cx="845.0" cy="575.4" r="2.9" fill="#BA1B25"/><circle cx="763.0" cy="742.4" r="2.9" fill="#47A46E"/><circle cx="930.3" cy="621.0" r="2.9" fill="#7AB8E4"/><circle cx="935.6" cy="719.9" r="2.9" fill="#F6A54A"/><circle cx="798.7" cy="597.3" r="2.9" fill="#E6DF5A"/><circle cx="814.6" cy="580.6" r="2.9" fill="#7CC250"/><circle cx="868.4" cy="569.8" r="2.9" fill="#E6DF5A"/><circle cx="828.6" cy="572.4" r="2.9" fill="#F0642A"/><circle cx="874.8" cy="736.9" r="2.9" fill="#B8E3F8"/><circle cx="649.8" cy="781.7" r="2.9" fill="#4A8CC6"/><circle cx="755.4" cy="735.5" r="2.9" fill="#7AB8E4"/><circle cx="777.6" cy="754.8" r="2.9" fill="#E6DF5A"/><circle cx="900.0" cy="649.8" r="2.9" fill="#B8E3F8"/><circle cx="653.7" cy="583.7" r="2.9" fill="#E6DF5A"/><circle cx="916.8" cy="716.9" r="2.9" fill="#7AB8E4"/><circle cx="795.0" cy="563.0" r="2.9" fill="#4A8CC6"/><circle cx="786.9" cy="571.8" r="2.9" fill="#7AB8E4"/><circle cx="647.9" cy="709.4" r="2.9" fill="#DE3228"/><circle cx="876.2" cy="722.2" r="2.9" fill="#7AB8E4"/><circle cx="767.0" cy="698.7" r="2.9" fill="#7CC250"/><circle cx="896.0" cy="781.0" r="2.9" fill="#7AB8E4"/><circle cx="763.7" cy="706.1" r="2.9" fill="#7CC250"/><circle cx="730.8" cy="612.1" r="2.9" fill="#F6A54A"/><circle cx="700.2" cy="558.2" r="2.9" fill="#F0642A"/><circle cx="693.4" cy="585.2" r="2.9" fill="#E6DF5A"/><circle cx="843.3" cy="556.6" r="2.9" fill="#F6A54A"/><circle cx="659.1" cy="570.5" r="2.9" fill="#F6A54A"/><circle cx="764.9" cy="734.5" r="2.9" fill="#47A46E"/><circle cx="727.0" cy="589.7" r="2.9" fill="#F0642A"/><circle cx="869.0" cy="573.5" r="2.9" fill="#E6DF5A"/><circle cx="746.0" cy="825.1" r="2.9" fill="#7AB8E4"/><circle cx="787.3" cy="586.5" r="2.9" fill="#7AB8E4"/><circle cx="703.0" cy="543.1" r="2.9" fill="#47A46E"/><circle cx="693.8" cy="561.5" r="2.9" fill="#E6DF5A"/><circle cx="659.1" cy="554.0" r="2.9" fill="#47A46E"/><circle cx="825.3" cy="591.3" r="2.9" fill="#F0642A"/><circle cx="820.4" cy="594.8" r="2.9" fill="#F6A54A"/><circle cx="661.0" cy="586.1" r="2.9" fill="#E6DF5A"/><circle cx="878.2" cy="580.6" r="2.9" fill="#B8E3F8"/><circle cx="628.2" cy="709.1" r="2.9" fill="#F6A54A"/><circle cx="833.2" cy="566.5" r="2.9" fill="#F0642A"/><circle cx="911.2" cy="741.4" r="2.9" fill="#47A46E"/><circle cx="913.8" cy="721.9" r="2.9" fill="#4A8CC6"/><circle cx="662.5" cy="588.3" r="2.9" fill="#F6A54A"/><circle cx="897.3" cy="821.4" r="2.9" fill="#7AB8E4"/><circle cx="828.3" cy="586.9" r="2.9" fill="#F0642A"/><circle cx="832.0" cy="573.4" r="2.9" fill="#E6DF5A"/><circle cx="651.8" cy="560.4" r="2.9" fill="#7CC250"/><circle cx="898.1" cy="655.2" r="2.9" fill="#7AB8E4"/><circle cx="664.9" cy="576.8" r="2.9" fill="#F6A54A"/><circle cx="746.4" cy="752.8" r="2.9" fill="#7AB8E4"/><circle cx="909.2" cy="798.1" r="2.9" fill="#7AB8E4"/><circle cx="889.0" cy="746.5" r="2.9" fill="#B8E3F8"/><circle cx="934.2" cy="694.2" r="2.9" fill="#7AB8E4"/><circle cx="747.3" cy="633.8" r="2.9" fill="#B8E3F8"/><circle cx="932.1" cy="734.0" r="2.9" fill="#7CC250"/><circle cx="898.1" cy="685.4" r="2.9" fill="#B8E3F8"/><circle cx="667.0" cy="544.7" r="2.9" fill="#47A46E"/><circle cx="751.7" cy="825.2" r="2.9" fill="#7AB8E4"/><circle cx="730.1" cy="610.8" r="2.9" fill="#47A46E"/><circle cx="749.2" cy="721.2" r="2.9" fill="#4A8CC6"/><circle cx="764.2" cy="716.1" r="2.9" fill="#7AB8E4"/><circle cx="788.3" cy="590.1" r="2.9" fill="#4A8CC6"/><circle cx="641.3" cy="706.6" r="2.9" fill="#F6A54A"/><circle cx="781.2" cy="737.1" r="2.9" fill="#4A8CC6"/><circle cx="649.8" cy="720.4" r="2.9" fill="#4A8CC6"/><circle cx="758.1" cy="710.4" r="2.9" fill="#7AB8E4"/><circle cx="763.5" cy="710.4" r="2.9" fill="#7AB8E4"/><circle cx="632.9" cy="721.6" r="2.9" fill="#F6A54A"/><circle cx="662.0" cy="563.4" r="2.9" fill="#F6A54A"/><circle cx="918.6" cy="735.2" r="2.9" fill="#47A46E"/><circle cx="893.8" cy="701.3" r="2.9" fill="#B8E3F8"/><circle cx="683.3" cy="600.0" r="2.9" fill="#DE3228"/><circle cx="741.5" cy="570.7" r="2.9" fill="#7AB8E4"/><circle cx="824.6" cy="588.3" r="2.9" fill="#F6A54A"/><circle cx="692.6" cy="534.4" r="2.9" fill="#7CC250"/><circle cx="631.5" cy="708.7" r="2.9" fill="#E6DF5A"/><circle cx="719.0" cy="600.5" r="2.9" fill="#BA1B25"/><circle cx="931.3" cy="691.3" r="2.9" fill="#4A8CC6"/><circle cx="713.4" cy="606.0" r="2.9" fill="#DE3228"/><circle cx="745.2" cy="715.3" r="2.9" fill="#7AB8E4"/><circle cx="835.1" cy="568.5" r="2.9" fill="#F6A54A"/><circle cx="919.3" cy="718.8" r="2.9" fill="#47A46E"/><circle cx="739.3" cy="590.0" r="2.9" fill="#4A8CC6"/><circle cx="878.6" cy="667.4" r="2.9" fill="#B8E3F8"/><circle cx="784.4" cy="576.3" r="2.9" fill="#4A8CC6"/><circle cx="913.0" cy="736.8" r="2.9" fill="#4A8CC6"/><circle cx="834.3" cy="578.1" r="2.9" fill="#F6A54A"/><circle cx="906.7" cy="714.6" r="2.9" fill="#4A8CC6"/><circle cx="670.8" cy="574.7" r="2.9" fill="#DE3228"/><circle cx="646.3" cy="755.3" r="2.9" fill="#4A8CC6"/><circle cx="660.3" cy="583.9" r="2.9" fill="#F6A54A"/><circle cx="639.5" cy="708.3" r="2.9" fill="#E6DF5A"/><circle cx="728.5" cy="572.0" r="2.9" fill="#7CC250"/><circle cx="867.7" cy="566.8" r="2.9" fill="#E6DF5A"/><circle cx="742.9" cy="767.1" r="2.9" fill="#7AB8E4"/><circle cx="619.9" cy="727.8" r="2.9" fill="#F0642A"/><circle cx="776.3" cy="720.4" r="2.9" fill="#E6DF5A"/><circle cx="735.7" cy="608.3" r="2.9" fill="#47A46E"/><circle cx="615.8" cy="728.1" r="2.9" fill="#E6DF5A"/><circle cx="925.5" cy="812.6" r="2.9" fill="#B8E3F8"/><circle cx="749.3" cy="729.4" r="2.9" fill="#7AB8E4"/><circle cx="900.7" cy="705.0" r="2.9" fill="#B8E3F8"/><circle cx="811.1" cy="577.9" r="2.9" fill="#7CC250"/><circle cx="743.1" cy="764.7" r="2.9" fill="#B8E3F8"/><circle cx="777.7" cy="730.7" r="2.9" fill="#7CC250"/><circle cx="668.9" cy="578.7" r="2.9" fill="#F0642A"/><circle cx="774.3" cy="738.8" r="2.9" fill="#7CC250"/><circle cx="691.0" cy="597.0" r="2.9" fill="#F6A54A"/><circle cx="902.3" cy="535.0" r="2.9" fill="#B8E3F8"/><circle cx="814.7" cy="578.4" r="2.9" fill="#E6DF5A"/><circle cx="870.5" cy="827.6" r="2.9" fill="#7AB8E4"/><circle cx="816.3" cy="586.2" r="2.9" fill="#E6DF5A"/><circle cx="906.5" cy="736.5" r="2.9" fill="#4A8CC6"/><circle cx="932.1" cy="748.0" r="2.9" fill="#47A46E"/><circle cx="749.6" cy="815.9" r="2.9" fill="#7AB8E4"/><circle cx="905.7" cy="786.3" r="2.9" fill="#7AB8E4"/><circle cx="942.0" cy="573.0" r="2.9" fill="#7AB8E4"/><circle cx="738.1" cy="536.6" r="2.9" fill="#4A8CC6"/><circle cx="925.9" cy="824.9" r="2.9" fill="#B8E3F8"/><circle cx="926.7" cy="732.3" r="2.9" fill="#4A8CC6"/><circle cx="623.7" cy="715.6" r="2.9" fill="#F6A54A"/><circle cx="644.1" cy="713.6" r="2.9" fill="#E6DF5A"/><circle cx="717.6" cy="592.6" r="2.9" fill="#8F1419"/><circle cx="929.8" cy="662.0" r="2.9" fill="#7AB8E4"/><circle cx="735.8" cy="551.8" r="2.9" fill="#4A8CC6"/><circle cx="852.9" cy="548.4" r="2.9" fill="#7CC250"/><circle cx="670.8" cy="569.9" r="2.9" fill="#F0642A"/><circle cx="628.0" cy="707.6" r="2.9" fill="#E6DF5A"/><circle cx="651.9" cy="604.9" r="2.9" fill="#7CC250"/><circle cx="883.3" cy="791.5" r="2.9" fill="#4A8CC6"/><circle cx="625.1" cy="720.7" r="2.9" fill="#F6A54A"/><circle cx="865.2" cy="541.5" r="2.9" fill="#47A46E"/><circle cx="846.1" cy="583.2" r="2.9" fill="#DE3228"/><circle cx="738.8" cy="545.5" r="2.9" fill="#4A8CC6"/><circle cx="711.3" cy="586.4" r="2.9" fill="#47A46E"/><circle cx="730.8" cy="612.0" r="2.9" fill="#F6A54A"/><circle cx="736.3" cy="543.8" r="2.9" fill="#4A8CC6"/><circle cx="899.0" cy="668.4" r="2.9" fill="#7AB8E4"/><circle cx="646.7" cy="726.7" r="2.9" fill="#7CC250"/><circle cx="656.1" cy="570.2" r="2.9" fill="#7CC250"/><circle cx="834.2" cy="572.8" r="2.9" fill="#F0642A"/><circle cx="743.7" cy="739.9" r="2.9" fill="#4A8CC6"/><circle cx="881.5" cy="788.9" r="2.9" fill="#7AB8E4"/><circle cx="724.4" cy="590.3" r="2.9" fill="#E6DF5A"/><circle cx="711.0" cy="568.4" r="2.9" fill="#47A46E"/><circle cx="748.1" cy="822.8" r="2.9" fill="#4A8CC6"/><circle cx="900.3" cy="704.4" r="2.9" fill="#B8E3F8"/><circle cx="651.8" cy="831.1" r="2.9" fill="#7AB8E4"/><circle cx="734.8" cy="567.9" r="2.9" fill="#47A46E"/><circle cx="618.2" cy="729.0" r="2.9" fill="#E6DF5A"/><circle cx="790.7" cy="549.6" r="2.9" fill="#4A8CC6"/><circle cx="710.1" cy="570.1" r="2.9" fill="#7AB8E4"/><circle cx="627.7" cy="716.5" r="2.9" fill="#F6A54A"/><circle cx="684.3" cy="605.4" r="2.9" fill="#F0642A"/><circle cx="893.4" cy="774.0" r="2.9" fill="#7AB8E4"/><circle cx="667.7" cy="601.6" r="2.9" fill="#F6A54A"/><circle cx="840.9" cy="555.0" r="2.9" fill="#F0642A"/><circle cx="631.0" cy="698.4" r="2.9" fill="#F6A54A"/><circle cx="661.7" cy="552.6" r="2.9" fill="#47A46E"/><circle cx="865.1" cy="545.0" r="2.9" fill="#7CC250"/><circle cx="866.7" cy="539.5" r="2.9" fill="#4A8CC6"/><circle cx="920.6" cy="728.7" r="2.9" fill="#47A46E"/><circle cx="877.9" cy="692.4" r="2.9" fill="#B8E3F8"/><circle cx="843.8" cy="570.3" r="2.9" fill="#F6A54A"/><circle cx="625.1" cy="715.5" r="2.9" fill="#F6A54A"/><circle cx="851.7" cy="561.7" r="2.9" fill="#F6A54A"/><circle cx="879.1" cy="603.0" r="2.9" fill="#B8E3F8"/><circle cx="642.5" cy="710.1" r="2.9" fill="#E6DF5A"/><circle cx="623.2" cy="730.6" r="2.9" fill="#F6A54A"/><circle cx="707.5" cy="822.8" r="2.9" fill="#4A8CC6"/><circle cx="883.6" cy="555.7" r="2.9" fill="#7AB8E4"/><circle cx="774.7" cy="732.8" r="2.9" fill="#E6DF5A"/><circle cx="795.1" cy="552.9" r="2.9" fill="#7AB8E4"/><circle cx="778.8" cy="738.9" r="2.9" fill="#E6DF5A"/><circle cx="649.9" cy="728.2" r="2.9" fill="#47A46E"/><circle cx="625.6" cy="713.9" r="2.9" fill="#DE3228"/><circle cx="797.9" cy="547.7" r="2.9" fill="#4A8CC6"/><circle cx="661.4" cy="552.0" r="2.9" fill="#7CC250"/><circle cx="668.3" cy="574.2" r="2.9" fill="#F6A54A"/><circle cx="664.1" cy="566.7" r="2.9" fill="#F6A54A"/><circle cx="894.3" cy="798.1" r="2.9" fill="#B8E3F8"/><circle cx="702.2" cy="566.7" r="2.9" fill="#F0642A"/><circle cx="682.1" cy="598.0" r="2.9" fill="#DE3228"/><circle cx="886.4" cy="691.3" r="2.9" fill="#7AB8E4"/><circle cx="661.6" cy="595.1" r="2.9" fill="#E6DF5A"/><circle cx="931.0" cy="695.0" r="2.9" fill="#7AB8E4"/><circle cx="785.0" cy="733.2" r="2.9" fill="#4A8CC6"/><circle cx="773.5" cy="720.8" r="2.9" fill="#47A46E"/><circle cx="798.4" cy="583.7" r="2.9" fill="#47A46E"/><circle cx="657.2" cy="591.7" r="2.9" fill="#7CC250"/><circle cx="797.7" cy="585.8" r="2.9" fill="#7AB8E4"/><circle cx="689.8" cy="564.4" r="2.9" fill="#F6A54A"/><circle cx="892.5" cy="800.8" r="2.9" fill="#B8E3F8"/><circle cx="877.6" cy="608.8" r="2.9" fill="#7AB8E4"/><circle cx="830.7" cy="588.6" r="2.9" fill="#E6DF5A"/><circle cx="655.0" cy="569.9" r="2.9" fill="#47A46E"/><circle cx="838.8" cy="579.2" r="2.9" fill="#F0642A"/><circle cx="847.0" cy="560.5" r="2.9" fill="#E6DF5A"/><circle cx="648.6" cy="713.4" r="2.9" fill="#4A8CC6"/><circle cx="802.6" cy="573.8" r="2.9" fill="#E6DF5A"/><circle cx="678.4" cy="591.2" r="2.9" fill="#8F1419"/><circle cx="791.1" cy="623.0" r="2.9" fill="#7AB8E4"/><circle cx="649.8" cy="733.0" r="2.9" fill="#4A8CC6"/><circle cx="674.3" cy="603.9" r="2.9" fill="#E6DF5A"/><circle cx="871.0" cy="797.2" r="2.9" fill="#7AB8E4"/><circle cx="749.8" cy="559.9" r="2.9" fill="#4A8CC6"/><circle cx="873.3" cy="711.8" r="2.9" fill="#4A8CC6"/><circle cx="859.3" cy="555.4" r="2.9" fill="#7CC250"/><circle cx="797.7" cy="572.5" r="2.9" fill="#4A8CC6"/><circle cx="831.5" cy="594.5" r="2.9" fill="#F0642A"/><circle cx="815.1" cy="584.1" r="2.9" fill="#F0642A"/><circle cx="860.3" cy="577.6" r="2.9" fill="#47A46E"/><circle cx="935.6" cy="722.5" r="2.9" fill="#F6A54A"/><circle cx="914.2" cy="703.5" r="2.9" fill="#7AB8E4"/><circle cx="682.9" cy="610.5" r="2.9" fill="#DE3228"/><circle cx="896.9" cy="695.8" r="2.9" fill="#7AB8E4"/><circle cx="701.0" cy="547.7" r="2.9" fill="#4A8CC6"/><circle cx="858.3" cy="858.5" r="2.9" fill="#47A46E"/><circle cx="890.0" cy="749.8" r="2.9" fill="#B8E3F8"/><circle cx="907.0" cy="763.0" r="2.9" fill="#7AB8E4"/><circle cx="914.5" cy="745.4" r="2.9" fill="#7CC250"/><circle cx="654.2" cy="595.8" r="2.9" fill="#47A46E"/><circle cx="786.3" cy="557.3" r="2.9" fill="#4A8CC6"/><circle cx="813.0" cy="590.9" r="2.9" fill="#7CC250"/><circle cx="649.2" cy="735.3" r="2.9" fill="#47A46E"/><circle cx="887.7" cy="711.8" r="2.9" fill="#7AB8E4"/><circle cx="928.4" cy="693.8" r="2.9" fill="#B8E3F8"/><circle cx="751.5" cy="837.5" r="2.9" fill="#B8E3F8"/><circle cx="682.0" cy="584.8" r="2.9" fill="#DE3228"/><circle cx="640.2" cy="715.0" r="2.9" fill="#F0642A"/><circle cx="861.3" cy="574.3" r="2.9" fill="#E6DF5A"/><circle cx="752.4" cy="856.0" r="2.9" fill="#4A8CC6"/><circle cx="695.4" cy="547.3" r="2.9" fill="#7CC250"/><circle cx="624.6" cy="710.8" r="2.9" fill="#F6A54A"/><circle cx="840.6" cy="566.7" r="2.9" fill="#F6A54A"/><circle cx="914.9" cy="720.5" r="2.9" fill="#4A8CC6"/><circle cx="933.8" cy="712.9" r="2.9" fill="#7CC250"/><circle cx="649.3" cy="702.5" r="2.9" fill="#4A8CC6"/><circle cx="813.6" cy="595.5" r="2.9" fill="#F6A54A"/><circle cx="749.0" cy="841.1" r="2.9" fill="#4A8CC6"/><circle cx="666.0" cy="569.6" r="2.9" fill="#F6A54A"/><circle cx="742.2" cy="541.9" r="2.9" fill="#4A8CC6"/><circle cx="696.3" cy="536.4" r="2.9" fill="#7CC250"/><circle cx="625.5" cy="737.1" r="2.9" fill="#E6DF5A"/><circle cx="754.8" cy="610.5" r="2.9" fill="#7AB8E4"/><circle cx="767.9" cy="744.0" r="2.9" fill="#47A46E"/><circle cx="707.5" cy="797.9" r="2.9" fill="#7AB8E4"/><circle cx="623.9" cy="725.2" r="2.9" fill="#E6DF5A"/><circle cx="876.9" cy="722.0" r="2.9" fill="#7AB8E4"/><circle cx="648.5" cy="707.1" r="2.9" fill="#47A46E"/><circle cx="651.8" cy="546.3" r="2.9" fill="#B8E3F8"/><circle cx="751.0" cy="840.1" r="2.9" fill="#7AB8E4"/><circle cx="728.9" cy="596.8" r="2.9" fill="#7CC250"/><circle cx="820.1" cy="579.9" r="2.9" fill="#F6A54A"/><circle cx="802.3" cy="567.6" r="2.9" fill="#7CC250"/><circle cx="740.4" cy="556.3" r="2.9" fill="#4A8CC6"/><circle cx="880.5" cy="637.1" r="2.9" fill="#7AB8E4"/><circle cx="921.3" cy="706.7" r="2.9" fill="#4A8CC6"/><circle cx="822.9" cy="585.6" r="2.9" fill="#DE3228"/><circle cx="702.6" cy="551.1" r="2.9" fill="#4A8CC6"/><circle cx="776.5" cy="727.8" r="2.9" fill="#E6DF5A"/><circle cx="715.6" cy="587.5" r="2.9" fill="#F0642A"/><circle cx="904.9" cy="615.1" r="2.9" fill="#7AB8E4"/><circle cx="615.6" cy="721.3" r="2.9" fill="#E6DF5A"/><circle cx="646.9" cy="771.0" r="2.9" fill="#47A46E"/><circle cx="692.1" cy="582.4" r="2.9" fill="#F6A54A"/><circle cx="801.4" cy="574.6" r="2.9" fill="#7CC250"/><circle cx="692.6" cy="567.1" r="2.9" fill="#E6DF5A"/><circle cx="828.2" cy="581.8" r="2.9" fill="#E6DF5A"/><circle cx="647.5" cy="761.2" r="2.9" fill="#47A46E"/><circle cx="847.7" cy="554.9" r="2.9" fill="#F6A54A"/><circle cx="805.2" cy="576.4" r="2.9" fill="#E6DF5A"/><circle cx="810.3" cy="574.1" r="2.9" fill="#E6DF5A"/><circle cx="669.8" cy="554.7" r="2.9" fill="#47A46E"/><circle cx="734.3" cy="570.6" r="2.9" fill="#4A8CC6"/><circle cx="721.1" cy="588.0" r="2.9" fill="#F6A54A"/><circle cx="666.5" cy="604.3" r="2.9" fill="#7CC250"/><circle cx="900.5" cy="719.3" r="2.9" fill="#B8E3F8"/><circle cx="861.5" cy="566.1" r="2.9" fill="#47A46E"/><circle cx="683.3" cy="603.6" r="2.9" fill="#DE3228"/><circle cx="745.4" cy="714.1" r="2.9" fill="#4A8CC6"/><circle cx="918.7" cy="738.8" r="2.9" fill="#47A46E"/><circle cx="868.6" cy="558.8" r="2.9" fill="#E6DF5A"/><circle cx="865.2" cy="556.1" r="2.9" fill="#E6DF5A"/><circle cx="845.4" cy="560.6" r="2.9" fill="#E6DF5A"/><circle cx="797.3" cy="602.3" r="2.9" fill="#7AB8E4"/><circle cx="742.0" cy="549.1" r="2.9" fill="#47A46E"/><circle cx="657.1" cy="605.8" r="2.9" fill="#7CC250"/><circle cx="741.5" cy="666.1" r="2.9" fill="#7AB8E4"/><circle cx="657.1" cy="562.7" r="2.9" fill="#7CC250"/><circle cx="692.2" cy="564.2" r="2.9" fill="#F6A54A"/><circle cx="862.0" cy="570.0" r="2.9" fill="#F0642A"/><circle cx="851.4" cy="545.7" r="2.9" fill="#47A46E"/><circle cx="910.8" cy="697.7" r="2.9" fill="#4A8CC6"/><circle cx="656.5" cy="572.5" r="2.9" fill="#F6A54A"/><circle cx="683.5" cy="596.4" r="2.9" fill="#DE3228"/><circle cx="892.5" cy="814.4" r="2.9" fill="#7AB8E4"/><circle cx="926.9" cy="612.7" r="2.9" fill="#7AB8E4"/><circle cx="670.9" cy="576.2" r="2.9" fill="#E6DF5A"/><circle cx="648.7" cy="727.5" r="2.9" fill="#4A8CC6"/><circle cx="891.7" cy="655.2" r="2.9" fill="#7AB8E4"/><circle cx="699.9" cy="564.9" r="2.9" fill="#DE3228"/><circle cx="661.1" cy="572.6" r="2.9" fill="#E6DF5A"/><circle cx="694.1" cy="575.5" r="2.9" fill="#F0642A"/><circle cx="751.5" cy="838.3" r="2.9" fill="#7AB8E4"/><circle cx="694.7" cy="574.9" r="2.9" fill="#E6DF5A"/><circle cx="710.7" cy="597.4" r="2.9" fill="#BA1B25"/><circle cx="871.7" cy="685.9" r="2.9" fill="#7AB8E4"/><circle cx="873.2" cy="705.7" r="2.9" fill="#7AB8E4"/><circle cx="844.2" cy="543.3" r="2.9" fill="#E6DF5A"/><circle cx="902.6" cy="845.6" r="2.9" fill="#B8E3F8"/><circle cx="820.0" cy="575.3" r="2.9" fill="#F6A54A"/><circle cx="738.2" cy="609.5" r="2.9" fill="#7CC250"/><circle cx="756.8" cy="671.1" r="2.9" fill="#B8E3F8"/><circle cx="877.6" cy="648.8" r="2.9" fill="#B8E3F8"/><circle cx="669.5" cy="573.2" r="2.9" fill="#7CC250"/><circle cx="833.0" cy="590.3" r="2.9" fill="#E6DF5A"/><circle cx="892.0" cy="712.5" r="2.9" fill="#4A8CC6"/><circle cx="680.4" cy="600.2" r="2.9" fill="#BA1B25"/><circle cx="882.4" cy="796.4" r="2.9" fill="#7AB8E4"/><circle cx="882.0" cy="778.8" r="2.9" fill="#4A8CC6"/><circle cx="856.5" cy="552.9" r="2.9" fill="#7CC250"/><circle cx="695.7" cy="544.4" r="2.9" fill="#4A8CC6"/><circle cx="627.2" cy="711.0" r="2.9" fill="#F6A54A"/><circle cx="921.1" cy="722.1" r="2.9" fill="#4A8CC6"/><circle cx="702.9" cy="548.9" r="2.9" fill="#7CC250"/><circle cx="797.0" cy="571.3" r="2.9" fill="#7CC250"/><circle cx="870.2" cy="701.7" r="2.9" fill="#7AB8E4"/><circle cx="677.2" cy="573.4" r="2.9" fill="#F6A54A"/><circle cx="868.3" cy="534.0" r="2.9" fill="#4A8CC6"/><circle cx="727.0" cy="568.3" r="2.9" fill="#7CC250"/><circle cx="741.8" cy="561.7" r="2.9" fill="#7AB8E4"/><circle cx="746.4" cy="713.5" r="2.9" fill="#7AB8E4"/><circle cx="639.3" cy="717.7" r="2.9" fill="#E6DF5A"/><circle cx="651.8" cy="648.7" r="2.9" fill="#7AB8E4"/><circle cx="896.5" cy="717.9" r="2.9" fill="#B8E3F8"/><circle cx="910.1" cy="728.7" r="2.9" fill="#47A46E"/><circle cx="624.7" cy="723.8" r="2.9" fill="#E6DF5A"/><circle cx="810.6" cy="588.5" r="2.9" fill="#E6DF5A"/><circle cx="666.3" cy="599.4" r="2.9" fill="#F0642A"/><circle cx="745.2" cy="713.2" r="2.9" fill="#B8E3F8"/><circle cx="659.5" cy="601.1" r="2.9" fill="#E6DF5A"/><circle cx="889.3" cy="727.4" r="2.9" fill="#7AB8E4"/><circle cx="824.9" cy="578.3" r="2.9" fill="#F6A54A"/><circle cx="825.2" cy="574.4" r="2.9" fill="#F6A54A"/><circle cx="793.6" cy="584.6" r="2.9" fill="#47A46E"/><circle cx="760.6" cy="720.0" r="2.9" fill="#B8E3F8"/><circle cx="801.5" cy="580.5" r="2.9" fill="#7CC250"/><circle cx="752.5" cy="707.6" r="2.9" fill="#7AB8E4"/><circle cx="847.6" cy="592.9" r="2.9" fill="#BA1B25"/><circle cx="662.0" cy="545.9" r="2.9" fill="#7CC250"/><circle cx="746.9" cy="794.0" r="2.9" fill="#7AB8E4"/><circle cx="790.1" cy="568.3" r="2.9" fill="#7AB8E4"/><circle cx="621.4" cy="727.8" r="2.9" fill="#F6A54A"/><circle cx="822.2" cy="573.5" r="2.9" fill="#F6A54A"/><circle cx="796.5" cy="579.1" r="2.9" fill="#4A8CC6"/><circle cx="673.2" cy="580.2" r="2.9" fill="#F6A54A"/><circle cx="942.1" cy="538.2" r="2.9" fill="#4A8CC6"/><circle cx="627.6" cy="717.1" r="2.9" fill="#F6A54A"/><circle cx="784.5" cy="721.6" r="2.9" fill="#4A8CC6"/><circle cx="633.1" cy="724.9" r="2.9" fill="#F6A54A"/><circle cx="754.0" cy="851.1" r="2.9" fill="#7AB8E4"/><circle cx="870.1" cy="534.2" r="2.9" fill="#4A8CC6"/><circle cx="805.2" cy="569.3" r="2.9" fill="#E6DF5A"/><circle cx="816.0" cy="585.5" r="2.9" fill="#E6DF5A"/><circle cx="827.1" cy="588.3" r="2.9" fill="#F0642A"/><circle cx="920.1" cy="714.4" r="2.9" fill="#7AB8E4"/><circle cx="829.3" cy="560.7" r="2.9" fill="#F6A54A"/><circle cx="635.3" cy="707.6" r="2.9" fill="#F0642A"/><circle cx="629.1" cy="708.3" r="2.9" fill="#F6A54A"/><circle cx="661.9" cy="603.3" r="2.9" fill="#E6DF5A"/><circle cx="916.8" cy="733.1" r="2.9" fill="#47A46E"/><circle cx="879.0" cy="602.4" r="2.9" fill="#B8E3F8"/><circle cx="697.4" cy="552.1" r="2.9" fill="#4A8CC6"/><circle cx="883.3" cy="837.7" r="2.9" fill="#7AB8E4"/><circle cx="760.4" cy="711.3" r="2.9" fill="#4A8CC6"/><circle cx="801.9" cy="560.1" r="2.9" fill="#47A46E"/><circle cx="760.0" cy="753.5" r="2.9" fill="#B8E3F8"/><circle cx="878.1" cy="733.3" r="2.9" fill="#B8E3F8"/><circle cx="745.6" cy="671.1" r="2.9" fill="#7AB8E4"/><circle cx="888.1" cy="818.3" r="2.9" fill="#B8E3F8"/><circle cx="622.9" cy="715.9" r="2.9" fill="#F6A54A"/><circle cx="652.8" cy="571.4" r="2.9" fill="#47A46E"/><circle cx="667.4" cy="583.1" r="2.9" fill="#7CC250"/><circle cx="793.1" cy="598.1" r="2.9" fill="#4A8CC6"/><circle cx="884.2" cy="707.0" r="2.9" fill="#4A8CC6"/><circle cx="774.9" cy="701.6" r="2.9" fill="#7CC250"/><circle cx="736.4" cy="590.6" r="2.9" fill="#7CC250"/><circle cx="742.1" cy="556.3" r="2.9" fill="#4A8CC6"/><circle cx="894.9" cy="703.6" r="2.9" fill="#7AB8E4"/><circle cx="883.3" cy="813.5" r="2.9" fill="#4A8CC6"/><circle cx="726.5" cy="593.5" r="2.9" fill="#F6A54A"/><circle cx="746.3" cy="770.7" r="2.9" fill="#7AB8E4"/><circle cx="797.7" cy="576.6" r="2.9" fill="#4A8CC6"/><circle cx="631.8" cy="703.7" r="2.9" fill="#F6A54A"/><circle cx="899.0" cy="616.1" r="2.9" fill="#B8E3F8"/><circle cx="661.5" cy="566.9" r="2.9" fill="#7CC250"/><circle cx="803.2" cy="573.1" r="2.9" fill="#F6A54A"/><circle cx="787.7" cy="562.2" r="2.9" fill="#4A8CC6"/><circle cx="631.0" cy="724.9" r="2.9" fill="#E6DF5A"/><circle cx="916.0" cy="724.3" r="2.9" fill="#47A46E"/><circle cx="783.6" cy="735.9" r="2.9" fill="#4A8CC6"/><circle cx="899.1" cy="702.8" r="2.9" fill="#B8E3F8"/><circle cx="667.7" cy="547.6" r="2.9" fill="#47A46E"/><circle cx="927.4" cy="622.5" r="2.9" fill="#7AB8E4"/><circle cx="781.3" cy="697.1" r="2.9" fill="#47A46E"/><circle cx="904.0" cy="770.0" r="2.9" fill="#7AB8E4"/><circle cx="857.0" cy="575.4" r="2.9" fill="#47A46E"/><circle cx="794.7" cy="565.9" r="2.9" fill="#7CC250"/><circle cx="710.0" cy="599.2" r="2.9" fill="#8F1419"/><circle cx="870.1" cy="835.5" r="2.9" fill="#4A8CC6"/><circle cx="655.4" cy="583.9" r="2.9" fill="#F6A54A"/><circle cx="623.9" cy="729.4" r="2.9" fill="#F6A54A"/><circle cx="784.8" cy="549.6" r="2.9" fill="#7AB8E4"/><circle cx="626.8" cy="713.5" r="2.9" fill="#F6A54A"/><circle cx="905.7" cy="805.6" r="2.9" fill="#7AB8E4"/><circle cx="913.1" cy="739.5" r="2.9" fill="#47A46E"/><circle cx="727.4" cy="585.0" r="2.9" fill="#7CC250"/><circle cx="661.2" cy="546.3" r="2.9" fill="#47A46E"/><circle cx="781.1" cy="744.9" r="2.9" fill="#47A46E"/><circle cx="844.9" cy="585.0" r="2.9" fill="#DE3228"/><circle cx="674.9" cy="566.5" r="2.9" fill="#DE3228"/><circle cx="914.2" cy="742.7" r="2.9" fill="#47A46E"/><circle cx="881.5" cy="654.7" r="2.9" fill="#7AB8E4"/><circle cx="937.3" cy="746.2" r="2.9" fill="#7AB8E4"/><circle cx="883.2" cy="715.3" r="2.9" fill="#7AB8E4"/><circle cx="911.4" cy="721.1" r="2.9" fill="#4A8CC6"/><circle cx="763.5" cy="714.3" r="2.9" fill="#47A46E"/><circle cx="684.8" cy="605.6" r="2.9" fill="#8F1419"/><circle cx="775.4" cy="738.8" r="2.9" fill="#7CC250"/><circle cx="752.0" cy="845.5" r="2.9" fill="#4A8CC6"/><circle cx="644.4" cy="698.9" r="2.9" fill="#F6A54A"/><circle cx="695.6" cy="572.8" r="2.9" fill="#F6A54A"/><circle cx="752.2" cy="838.1" r="2.9" fill="#7AB8E4"/><circle cx="649.8" cy="785.2" r="2.9" fill="#4A8CC6"/><circle cx="689.2" cy="581.8" r="2.9" fill="#E6DF5A"/><circle cx="751.1" cy="817.5" r="2.9" fill="#B8E3F8"/><circle cx="902.2" cy="773.5" r="2.9" fill="#B8E3F8"/><circle cx="854.4" cy="562.5" r="2.9" fill="#47A46E"/><circle cx="916.9" cy="725.8" r="2.9" fill="#47A46E"/><circle cx="748.1" cy="725.4" r="2.9" fill="#7AB8E4"/><circle cx="894.4" cy="700.4" r="2.9" fill="#7AB8E4"/><circle cx="706.3" cy="587.9" r="2.9" fill="#7AB8E4"/><circle cx="740.7" cy="596.4" r="2.9" fill="#7AB8E4"/><circle cx="865.8" cy="585.6" r="2.9" fill="#E6DF5A"/><circle cx="746.0" cy="788.3" r="2.9" fill="#7AB8E4"/><circle cx="777.1" cy="735.1" r="2.9" fill="#47A46E"/><circle cx="663.0" cy="574.8" r="2.9" fill="#E6DF5A"/><circle cx="874.1" cy="731.6" r="2.9" fill="#4A8CC6"/><circle cx="628.7" cy="716.1" r="2.9" fill="#F6A54A"/><circle cx="904.4" cy="663.5" r="2.9" fill="#7AB8E4"/><circle cx="628.0" cy="726.4" r="2.9" fill="#F0642A"/><circle cx="818.3" cy="575.3" r="2.9" fill="#E6DF5A"/><circle cx="862.1" cy="574.6" r="2.9" fill="#E6DF5A"/><circle cx="734.8" cy="628.8" r="2.9" fill="#4A8CC6"/><circle cx="892.1" cy="704.7" r="2.9" fill="#4A8CC6"/><circle cx="751.5" cy="720.9" r="2.9" fill="#7AB8E4"/><circle cx="706.0" cy="559.3" r="2.9" fill="#47A46E"/><circle cx="921.4" cy="742.7" r="2.9" fill="#47A46E"/><circle cx="668.4" cy="566.4" r="2.9" fill="#F6A54A"/><circle cx="743.9" cy="552.4" r="2.9" fill="#7AB8E4"/><circle cx="618.8" cy="730.0" r="2.9" fill="#F0642A"/><circle cx="926.9" cy="615.6" r="2.9" fill="#7AB8E4"/><circle cx="718.4" cy="592.9" r="2.9" fill="#DE3228"/><circle cx="640.4" cy="708.9" r="2.9" fill="#E6DF5A"/><circle cx="721.8" cy="598.2" r="2.9" fill="#BA1B25"/><circle cx="862.1" cy="547.4" r="2.9" fill="#7CC250"/><circle cx="759.1" cy="714.6" r="2.9" fill="#B8E3F8"/><circle cx="648.3" cy="698.7" r="2.9" fill="#4A8CC6"/><circle cx="618.9" cy="731.3" r="2.9" fill="#F0642A"/><circle cx="807.1" cy="580.7" r="2.9" fill="#E6DF5A"/><circle cx="906.6" cy="757.7" r="2.9" fill="#4A8CC6"/><circle cx="926.5" cy="735.9" r="2.9" fill="#7AB8E4"/><circle cx="692.3" cy="541.6" r="2.9" fill="#47A46E"/><circle cx="833.2" cy="573.9" r="2.9" fill="#F0642A"/><circle cx="615.7" cy="721.7" r="2.9" fill="#F0642A"/><circle cx="757.6" cy="743.3" r="2.9" fill="#B8E3F8"/><circle cx="700.4" cy="576.8" r="2.9" fill="#DE3228"/><circle cx="878.1" cy="742.3" r="2.9" fill="#B8E3F8"/><circle cx="709.9" cy="599.5" r="2.9" fill="#8F1419"/><circle cx="783.1" cy="567.0" r="2.9" fill="#4A8CC6"/><circle cx="847.1" cy="575.7" r="2.9" fill="#DE3228"/><circle cx="854.2" cy="571.3" r="2.9" fill="#7CC250"/><circle cx="914.5" cy="750.0" r="2.9" fill="#47A46E"/><circle cx="888.0" cy="771.0" r="2.9" fill="#7AB8E4"/><circle cx="627.3" cy="708.9" r="2.9" fill="#E6DF5A"/><circle cx="826.8" cy="585.1" r="2.9" fill="#DE3228"/><circle cx="692.3" cy="551.8" r="2.9" fill="#47A46E"/><circle cx="751.1" cy="822.6" r="2.9" fill="#7AB8E4"/><circle cx="894.6" cy="708.1" r="2.9" fill="#7AB8E4"/><circle cx="891.1" cy="703.9" r="2.9" fill="#7AB8E4"/><circle cx="913.2" cy="708.1" r="2.9" fill="#4A8CC6"/><circle cx="696.1" cy="572.2" r="2.9" fill="#F6A54A"/><circle cx="659.9" cy="603.8" r="2.9" fill="#E6DF5A"/><circle cx="800.3" cy="586.5" r="2.9" fill="#E6DF5A"/><circle cx="750.3" cy="842.3" r="2.9" fill="#B8E3F8"/><circle cx="729.0" cy="574.3" r="2.9" fill="#7CC250"/><circle cx="737.9" cy="549.3" r="2.9" fill="#7AB8E4"/><circle cx="753.9" cy="848.0" r="2.9" fill="#4A8CC6"/><circle cx="657.7" cy="572.4" r="2.9" fill="#F6A54A"/><circle cx="913.4" cy="740.9" r="2.9" fill="#47A46E"/><circle cx="651.7" cy="598.3" r="2.9" fill="#F6A54A"/><circle cx="896.9" cy="761.0" r="2.9" fill="#B8E3F8"/><circle cx="646.3" cy="708.1" r="2.9" fill="#7CC250"/><circle cx="858.9" cy="563.4" r="2.9" fill="#47A46E"/><circle cx="935.6" cy="716.4" r="2.9" fill="#E6DF5A"/><circle cx="730.9" cy="591.8" r="2.9" fill="#47A46E"/><circle cx="672.6" cy="594.0" r="2.9" fill="#7CC250"/><circle cx="821.7" cy="591.9" r="2.9" fill="#E6DF5A"/><circle cx="623.1" cy="719.9" r="2.9" fill="#E6DF5A"/><circle cx="680.8" cy="587.7" r="2.9" fill="#BA1B25"/><circle cx="806.8" cy="571.1" r="2.9" fill="#E6DF5A"/><circle cx="728.4" cy="571.5" r="2.9" fill="#7CC250"/><circle cx="674.3" cy="603.3" r="2.9" fill="#F6A54A"/><circle cx="672.9" cy="578.5" r="2.9" fill="#F6A54A"/><circle cx="763.8" cy="723.0" r="2.9" fill="#7CC250"/><circle cx="752.3" cy="832.4" r="2.9" fill="#4A8CC6"/><circle cx="756.4" cy="632.9" r="2.9" fill="#B8E3F8"/><circle cx="623.7" cy="710.9" r="2.9" fill="#F6A54A"/><circle cx="829.8" cy="595.0" r="2.9" fill="#F6A54A"/><circle cx="626.2" cy="713.5" r="2.9" fill="#F6A54A"/><circle cx="862.1" cy="577.8" r="2.9" fill="#E6DF5A"/><circle cx="706.9" cy="540.4" r="2.9" fill="#7CC250"/><circle cx="737.1" cy="597.1" r="2.9" fill="#47A46E"/><circle cx="664.2" cy="584.8" r="2.9" fill="#F6A54A"/><circle cx="693.3" cy="541.8" r="2.9" fill="#47A46E"/><circle cx="666.4" cy="559.7" r="2.9" fill="#E6DF5A"/><circle cx="921.0" cy="730.7" r="2.9" fill="#47A46E"/><circle cx="921.9" cy="711.1" r="2.9" fill="#4A8CC6"/><circle cx="698.0" cy="545.3" r="2.9" fill="#7CC250"/><circle cx="744.7" cy="568.7" r="2.9" fill="#4A8CC6"/><circle cx="845.2" cy="581.9" r="2.9" fill="#BA1B25"/><circle cx="888.6" cy="738.5" r="2.9" fill="#B8E3F8"/><circle cx="907.0" cy="712.7" r="2.9" fill="#4A8CC6"/><circle cx="648.7" cy="727.7" r="2.9" fill="#4A8CC6"/><circle cx="617.0" cy="731.2" r="2.9" fill="#F0642A"/><circle cx="635.6" cy="700.1" r="2.9" fill="#F0642A"/><circle cx="930.3" cy="604.9" r="2.9" fill="#7AB8E4"/><circle cx="726.5" cy="598.8" r="2.9" fill="#F0642A"/><circle cx="877.1" cy="633.2" r="2.9" fill="#B8E3F8"/><circle cx="927.4" cy="676.7" r="2.9" fill="#B8E3F8"/><circle cx="699.5" cy="578.6" r="2.9" fill="#F6A54A"/><circle cx="643.0" cy="723.9" r="2.9" fill="#DE3228"/><circle cx="647.4" cy="708.5" r="2.9" fill="#E6DF5A"/><circle cx="626.7" cy="708.5" r="2.9" fill="#F6A54A"/><circle cx="847.0" cy="592.8" r="2.9" fill="#DE3228"/><circle cx="750.7" cy="845.4" r="2.9" fill="#7AB8E4"/><circle cx="940.1" cy="685.9" r="2.9" fill="#7AB8E4"/><circle cx="749.8" cy="570.5" r="2.9" fill="#7AB8E4"/><circle cx="708.4" cy="591.4" r="2.9" fill="#DE3228"/><circle cx="809.8" cy="583.4" r="2.9" fill="#E6DF5A"/><circle cx="774.4" cy="747.1" r="2.9" fill="#E6DF5A"/><circle cx="888.2" cy="743.8" r="2.9" fill="#7AB8E4"/><circle cx="670.6" cy="582.1" r="2.9" fill="#DE3228"/><circle cx="735.9" cy="578.9" r="2.9" fill="#47A46E"/><circle cx="893.4" cy="764.7" r="2.9" fill="#4A8CC6"/><circle cx="669.3" cy="618.8" r="2.9" fill="#7CC250"/><circle cx="870.7" cy="570.6" r="2.9" fill="#E6DF5A"/><circle cx="834.7" cy="572.0" r="2.9" fill="#F6A54A"/><circle cx="832.1" cy="570.9" r="2.9" fill="#F6A54A"/><circle cx="854.9" cy="575.5" r="2.9" fill="#7CC250"/><circle cx="913.6" cy="755.0" r="2.9" fill="#47A46E"/><circle cx="849.5" cy="556.9" r="2.9" fill="#F0642A"/><circle cx="730.3" cy="610.9" r="2.9" fill="#F6A54A"/><circle cx="845.8" cy="557.7" r="2.9" fill="#F6A54A"/><circle cx="680.7" cy="599.2" r="2.9" fill="#DE3228"/><circle cx="681.3" cy="606.5" r="2.9" fill="#BA1B25"/><circle cx="752.8" cy="667.8" r="2.9" fill="#7AB8E4"/><circle cx="641.4" cy="711.5" r="2.9" fill="#DE3228"/><circle cx="798.6" cy="588.2" r="2.9" fill="#7CC250"/><circle cx="668.4" cy="613.8" r="2.9" fill="#4A8CC6"/><circle cx="646.9" cy="775.8" r="2.9" fill="#4A8CC6"/><circle cx="668.0" cy="558.5" r="2.9" fill="#47A46E"/><circle cx="700.4" cy="532.2" r="2.9" fill="#4A8CC6"/><circle cx="941.0" cy="600.0" r="2.9" fill="#7AB8E4"/><circle cx="839.2" cy="575.9" r="2.9" fill="#E6DF5A"/><circle cx="649.5" cy="713.0" r="2.9" fill="#4A8CC6"/><circle cx="827.5" cy="573.6" r="2.9" fill="#F6A54A"/><circle cx="866.3" cy="543.3" r="2.9" fill="#4A8CC6"/><circle cx="749.1" cy="751.3" r="2.9" fill="#7AB8E4"/><circle cx="781.8" cy="741.1" r="2.9" fill="#4A8CC6"/><circle cx="620.7" cy="730.6" r="2.9" fill="#F6A54A"/><circle cx="785.3" cy="616.3" r="2.9" fill="#7AB8E4"/><circle cx="815.1" cy="570.9" r="2.9" fill="#E6DF5A"/><circle cx="860.9" cy="558.7" r="2.9" fill="#F0642A"/><circle cx="633.8" cy="703.5" r="2.9" fill="#F0642A"/><circle cx="727.5" cy="589.1" r="2.9" fill="#7CC250"/><circle cx="892.5" cy="732.0" r="2.9" fill="#7AB8E4"/><circle cx="690.7" cy="590.7" r="2.9" fill="#E6DF5A"/><circle cx="662.7" cy="578.4" r="2.9" fill="#F6A54A"/><circle cx="695.3" cy="532.9" r="2.9" fill="#47A46E"/><circle cx="651.1" cy="595.2" r="2.9" fill="#E6DF5A"/><circle cx="940.6" cy="656.6" r="2.9" fill="#7AB8E4"/><circle cx="903.1" cy="792.0" r="2.9" fill="#7AB8E4"/><circle cx="728.3" cy="601.9" r="2.9" fill="#DE3228"/><circle cx="713.7" cy="594.2" r="2.9" fill="#8F1419"/><circle cx="781.7" cy="707.2" r="2.9" fill="#47A46E"/><circle cx="890.1" cy="692.6" r="2.9" fill="#B8E3F8"/><circle cx="667.3" cy="566.2" r="2.9" fill="#F0642A"/><circle cx="907.8" cy="717.8" r="2.9" fill="#4A8CC6"/><circle cx="756.0" cy="735.2" r="2.9" fill="#7AB8E4"/><circle cx="846.2" cy="578.3" r="2.9" fill="#BA1B25"/><circle cx="833.5" cy="555.7" r="2.9" fill="#F6A54A"/><circle cx="690.0" cy="579.6" r="2.9" fill="#E6DF5A"/><circle cx="939.1" cy="707.6" r="2.9" fill="#47A46E"/><circle cx="626.8" cy="715.4" r="2.9" fill="#F6A54A"/><circle cx="733.5" cy="584.6" r="2.9" fill="#4A8CC6"/><circle cx="897.6" cy="633.7" r="2.9" fill="#7AB8E4"/><circle cx="871.4" cy="705.7" r="2.9" fill="#7AB8E4"/><circle cx="664.8" cy="592.6" r="2.9" fill="#7CC250"/><circle cx="902.2" cy="774.0" r="2.9" fill="#B8E3F8"/><circle cx="882.0" cy="768.0" r="2.9" fill="#7AB8E4"/><circle cx="750.1" cy="853.5" r="2.9" fill="#4A8CC6"/><circle cx="733.8" cy="583.6" r="2.9" fill="#4A8CC6"/><circle cx="677.8" cy="577.4" r="2.9" fill="#F0642A"/><circle cx="892.5" cy="786.3" r="2.9" fill="#7AB8E4"/><circle cx="781.4" cy="755.7" r="2.9" fill="#47A46E"/><circle cx="770.0" cy="754.7" r="2.9" fill="#E6DF5A"/><circle cx="770.3" cy="720.6" r="2.9" fill="#47A46E"/><circle cx="659.0" cy="605.9" r="2.9" fill="#7CC250"/><circle cx="732.0" cy="550.0" r="2.9" fill="#4A8CC6"/><circle cx="788.6" cy="855.2" r="2.9" fill="#7AB8E4"/><circle cx="657.1" cy="582.8" r="2.9" fill="#7CC250"/><circle cx="786.1" cy="557.4" r="2.9" fill="#4A8CC6"/><circle cx="748.2" cy="818.7" r="2.9" fill="#7AB8E4"/><circle cx="834.4" cy="592.7" r="2.9" fill="#F6A54A"/><circle cx="861.0" cy="537.6" r="2.9" fill="#47A46E"/><circle cx="704.9" cy="579.7" r="2.9" fill="#47A46E"/><circle cx="678.3" cy="591.1" r="2.9" fill="#DE3228"/><circle cx="929.8" cy="649.3" r="2.9" fill="#B8E3F8"/><circle cx="778.3" cy="752.9" r="2.9" fill="#47A46E"/><circle cx="853.8" cy="538.0" r="2.9" fill="#7CC250"/><circle cx="794.2" cy="601.0" r="2.9" fill="#4A8CC6"/><circle cx="845.0" cy="559.1" r="2.9" fill="#F0642A"/><circle cx="896.9" cy="788.5" r="2.9" fill="#7AB8E4"/><circle cx="664.7" cy="558.3" r="2.9" fill="#F6A54A"/><circle cx="714.9" cy="591.0" r="2.9" fill="#8F1419"/><circle cx="862.0" cy="559.2" r="2.9" fill="#F6A54A"/><circle cx="705.0" cy="857.7" r="2.9" fill="#7CC250"/><circle cx="844.7" cy="584.1" r="2.9" fill="#DE3228"/><circle cx="917.7" cy="732.4" r="2.9" fill="#4A8CC6"/><circle cx="718.7" cy="605.9" r="2.9" fill="#F6A54A"/><circle cx="815.4" cy="581.8" r="2.9" fill="#E6DF5A"/><circle cx="771.4" cy="748.0" r="2.9" fill="#47A46E"/><circle cx="709.2" cy="598.7" r="2.9" fill="#DE3228"/><circle cx="630.0" cy="707.2" r="2.9" fill="#E6DF5A"/><circle cx="672.8" cy="596.1" r="2.9" fill="#F6A54A"/><circle cx="675.2" cy="581.2" r="2.9" fill="#E6DF5A"/><circle cx="780.3" cy="756.4" r="2.9" fill="#4A8CC6"/><circle cx="914.6" cy="713.5" r="2.9" fill="#4A8CC6"/><circle cx="940.6" cy="623.4" r="2.9" fill="#7AB8E4"/><circle cx="896.9" cy="815.7" r="2.9" fill="#B8E3F8"/><circle cx="655.1" cy="558.7" r="2.9" fill="#47A46E"/><circle cx="736.5" cy="586.9" r="2.9" fill="#7CC250"/><circle cx="911.9" cy="716.1" r="2.9" fill="#4A8CC6"/><circle cx="930.3" cy="706.7" r="2.9" fill="#7CC250"/><circle cx="643.7" cy="711.1" r="2.9" fill="#F6A54A"/><circle cx="654.9" cy="605.9" r="2.9" fill="#E6DF5A"/><circle cx="620.1" cy="731.6" r="2.9" fill="#F0642A"/><circle cx="879.1" cy="709.3" r="2.9" fill="#7AB8E4"/><circle cx="849.9" cy="573.5" r="2.9" fill="#F0642A"/><circle cx="840.9" cy="571.2" r="2.9" fill="#F6A54A"/><circle cx="647.7" cy="733.8" r="2.9" fill="#7CC250"/><circle cx="750.0" cy="712.2" r="2.9" fill="#B8E3F8"/><circle cx="724.5" cy="600.7" r="2.9" fill="#DE3228"/><circle cx="856.4" cy="537.7" r="2.9" fill="#47A46E"/><circle cx="692.8" cy="586.1" r="2.9" fill="#F0642A"/><circle cx="927.4" cy="655.2" r="2.9" fill="#B8E3F8"/><circle cx="756.2" cy="705.1" r="2.9" fill="#4A8CC6"/><circle cx="630.8" cy="702.3" r="2.9" fill="#E6DF5A"/><circle cx="696.7" cy="561.3" r="2.9" fill="#F6A54A"/><circle cx="652.7" cy="561.7" r="2.9" fill="#E6DF5A"/><circle cx="874.9" cy="711.8" r="2.9" fill="#7AB8E4"/><circle cx="683.9" cy="589.1" r="2.9" fill="#DE3228"/><circle cx="900.4" cy="829.8" r="2.9" fill="#B8E3F8"/><circle cx="628.9" cy="699.5" r="2.9" fill="#F6A54A"/><circle cx="752.3" cy="738.7" r="2.9" fill="#4A8CC6"/><circle cx="787.3" cy="602.2" r="2.9" fill="#4A8CC6"/><circle cx="883.4" cy="686.4" r="2.9" fill="#7AB8E4"/><circle cx="750.6" cy="583.1" r="2.9" fill="#4A8CC6"/><circle cx="923.2" cy="706.8" r="2.9" fill="#4A8CC6"/><circle cx="666.1" cy="578.9" r="2.9" fill="#E6DF5A"/><circle cx="845.3" cy="574.6" r="2.9" fill="#F0642A"/><circle cx="896.1" cy="628.8" r="2.9" fill="#B8E3F8"/><circle cx="920.6" cy="719.7" r="2.9" fill="#4A8CC6"/><circle cx="700.3" cy="580.6" r="2.9" fill="#E6DF5A"/><circle cx="941.7" cy="830.2" r="2.9" fill="#B8E3F8"/><circle cx="618.2" cy="727.6" r="2.9" fill="#F6A54A"/><circle cx="618.7" cy="725.3" r="2.9" fill="#F6A54A"/><circle cx="746.9" cy="780.7" r="2.9" fill="#B8E3F8"/><circle cx="920.3" cy="729.0" r="2.9" fill="#4A8CC6"/><circle cx="748.8" cy="828.7" r="2.9" fill="#7AB8E4"/><circle cx="803.0" cy="581.0" r="2.9" fill="#F6A54A"/><circle cx="720.6" cy="583.9" r="2.9" fill="#F0642A"/><circle cx="869.9" cy="536.6" r="2.9" fill="#4A8CC6"/><circle cx="668.9" cy="569.6" r="2.9" fill="#F6A54A"/><circle cx="664.9" cy="542.8" r="2.9" fill="#7CC250"/><circle cx="746.5" cy="614.7" r="2.9" fill="#47A46E"/><circle cx="685.1" cy="608.8" r="2.9" fill="#BA1B25"/><circle cx="905.5" cy="725.3" r="2.9" fill="#4A8CC6"/><circle cx="754.3" cy="715.3" r="2.9" fill="#4A8CC6"/><circle cx="879.0" cy="639.1" r="2.9" fill="#B8E3F8"/><circle cx="668.1" cy="571.0" r="2.9" fill="#F6A54A"/><circle cx="779.9" cy="723.1" r="2.9" fill="#E6DF5A"/><circle cx="781.0" cy="740.6" r="2.9" fill="#4A8CC6"/><circle cx="656.7" cy="597.9" r="2.9" fill="#F6A54A"/><circle cx="756.6" cy="747.9" r="2.9" fill="#7AB8E4"/><circle cx="877.4" cy="608.0" r="2.9" fill="#7AB8E4"/><circle cx="871.2" cy="671.3" r="2.9" fill="#7AB8E4"/><circle cx="757.7" cy="751.2" r="2.9" fill="#7AB8E4"/><circle cx="906.6" cy="796.4" r="2.9" fill="#4A8CC6"/><circle cx="836.5" cy="575.5" r="2.9" fill="#F6A54A"/><circle cx="826.9" cy="593.7" r="2.9" fill="#DE3228"/><circle cx="705.0" cy="846.0" r="2.9" fill="#7CC250"/><circle cx="892.8" cy="730.7" r="2.9" fill="#7AB8E4"/><circle cx="806.3" cy="583.9" r="2.9" fill="#7CC250"/><circle cx="649.4" cy="693.3" r="2.9" fill="#7AB8E4"/><circle cx="941.5" cy="648.3" r="2.9" fill="#B8E3F8"/><circle cx="878.3" cy="744.3" r="2.9" fill="#B8E3F8"/><circle cx="616.6" cy="733.6" r="2.9" fill="#E6DF5A"/><circle cx="796.0" cy="584.7" r="2.9" fill="#47A46E"/><circle cx="692.2" cy="554.2" r="2.9" fill="#47A46E"/><circle cx="889.9" cy="804.7" r="2.9" fill="#B8E3F8"/><circle cx="874.4" cy="748.5" r="2.9" fill="#4A8CC6"/><circle cx="910.7" cy="726.4" r="2.9" fill="#47A46E"/><circle cx="868.4" cy="573.8" r="2.9" fill="#E6DF5A"/><circle cx="730.7" cy="583.2" r="2.9" fill="#F6A54A"/><circle cx="755.1" cy="644.5" r="2.9" fill="#B8E3F8"/><circle cx="784.5" cy="700.0" r="2.9" fill="#7AB8E4"/><circle cx="855.9" cy="558.6" r="2.9" fill="#47A46E"/><circle cx="779.1" cy="708.5" r="2.9" fill="#E6DF5A"/><circle cx="881.5" cy="631.3" r="2.9" fill="#7AB8E4"/><circle cx="628.0" cy="709.7" r="2.9" fill="#F6A54A"/><circle cx="888.1" cy="777.9" r="2.9" fill="#7AB8E4"/><circle cx="794.1" cy="587.3" r="2.9" fill="#47A46E"/><circle cx="748.1" cy="789.6" r="2.9" fill="#4A8CC6"/><circle cx="926.9" cy="642.0" r="2.9" fill="#7AB8E4"/><circle cx="660.5" cy="587.4" r="2.9" fill="#F0642A"/><circle cx="813.2" cy="591.1" r="2.9" fill="#E6DF5A"/><circle cx="809.7" cy="584.8" r="2.9" fill="#E6DF5A"/><circle cx="749.8" cy="550.7" r="2.9" fill="#7AB8E4"/><circle cx="731.4" cy="583.0" r="2.9" fill="#47A46E"/><circle cx="781.4" cy="746.5" r="2.9" fill="#7CC250"/><circle cx="753.3" cy="755.6" r="2.9" fill="#7AB8E4"/><circle cx="863.7" cy="533.8" r="2.9" fill="#4A8CC6"/><circle cx="717.0" cy="596.6" r="2.9" fill="#F6A54A"/><circle cx="818.4" cy="592.2" r="2.9" fill="#E6DF5A"/><circle cx="707.7" cy="532.9" r="2.9" fill="#4A8CC6"/><circle cx="694.2" cy="858.5" r="2.9" fill="#47A46E"/><circle cx="753.7" cy="841.8" r="2.9" fill="#7AB8E4"/><circle cx="667.9" cy="570.4" r="2.9" fill="#F6A54A"/><circle cx="877.7" cy="732.8" r="2.9" fill="#7AB8E4"/><circle cx="847.0" cy="590.3" r="2.9" fill="#BA1B25"/><circle cx="646.9" cy="716.8" r="2.9" fill="#47A46E"/><circle cx="646.9" cy="768.2" r="2.9" fill="#47A46E"/><circle cx="709.9" cy="570.0" r="2.9" fill="#47A46E"/><circle cx="937.3" cy="714.6" r="2.9" fill="#7CC250"/><circle cx="896.1" cy="714.5" r="2.9" fill="#4A8CC6"/><circle cx="791.7" cy="561.9" r="2.9" fill="#4A8CC6"/><circle cx="630.8" cy="705.7" r="2.9" fill="#E6DF5A"/><circle cx="718.2" cy="602.6" r="2.9" fill="#E6DF5A"/><circle cx="749.0" cy="851.9" r="2.9" fill="#4A8CC6"/><circle cx="888.6" cy="742.9" r="2.9" fill="#7AB8E4"/><circle cx="681.4" cy="601.2" r="2.9" fill="#DE3228"/><circle cx="754.7" cy="729.3" r="2.9" fill="#B8E3F8"/><circle cx="908.7" cy="714.1" r="2.9" fill="#4A8CC6"/><circle cx="804.9" cy="559.6" r="2.9" fill="#47A46E"/><circle cx="691.4" cy="589.9" r="2.9" fill="#F6A54A"/><circle cx="828.8" cy="581.9" r="2.9" fill="#F6A54A"/><circle cx="770.1" cy="743.8" r="2.9" fill="#F6A54A"/><circle cx="825.5" cy="579.9" r="2.9" fill="#F6A54A"/><circle cx="732.7" cy="586.1" r="2.9" fill="#4A8CC6"/><circle cx="660.2" cy="590.2" r="2.9" fill="#7CC250"/><circle cx="818.4" cy="593.0" r="2.9" fill="#E6DF5A"/><circle cx="757.3" cy="771.3" r="2.9" fill="#7AB8E4"/><circle cx="836.0" cy="557.7" r="2.9" fill="#F6A54A"/><circle cx="826.3" cy="590.4" r="2.9" fill="#DE3228"/><circle cx="652.7" cy="670.3" r="2.9" fill="#7AB8E4"/><circle cx="925.5" cy="839.0" r="2.9" fill="#B8E3F8"/><circle cx="751.1" cy="733.1" r="2.9" fill="#7AB8E4"/><circle cx="740.7" cy="616.3" r="2.9" fill="#B8E3F8"/><circle cx="660.1" cy="557.2" r="2.9" fill="#7CC250"/><circle cx="655.2" cy="572.3" r="2.9" fill="#E6DF5A"/><circle cx="734.3" cy="586.4" r="2.9" fill="#4A8CC6"/><circle cx="879.1" cy="537.5" r="2.9" fill="#7AB8E4"/><circle cx="749.9" cy="559.3" r="2.9" fill="#7AB8E4"/><circle cx="632.5" cy="702.4" r="2.9" fill="#E6DF5A"/><circle cx="870.1" cy="700.6" r="2.9" fill="#7AB8E4"/><circle cx="646.6" cy="713.4" r="2.9" fill="#4A8CC6"/><circle cx="837.7" cy="560.0" r="2.9" fill="#F0642A"/><circle cx="696.5" cy="547.7" r="2.9" fill="#7CC250"/><circle cx="650.4" cy="746.0" r="2.9" fill="#4A8CC6"/><circle cx="701.6" cy="548.4" r="2.9" fill="#47A46E"/><circle cx="617.2" cy="735.0" r="2.9" fill="#F6A54A"/><circle cx="883.7" cy="844.7" r="2.9" fill="#4A8CC6"/><circle cx="919.0" cy="720.1" r="2.9" fill="#47A46E"/><circle cx="894.2" cy="618.1" r="2.9" fill="#B8E3F8"/><circle cx="735.5" cy="602.3" r="2.9" fill="#7CC250"/><circle cx="753.1" cy="761.4" r="2.9" fill="#4A8CC6"/><circle cx="806.0" cy="579.4" r="2.9" fill="#E6DF5A"/><circle cx="708.9" cy="575.6" r="2.9" fill="#7CC250"/><circle cx="883.0" cy="672.8" r="2.9" fill="#7AB8E4"/><circle cx="618.3" cy="715.1" r="2.9" fill="#F6A54A"/><circle cx="884.2" cy="781.4" r="2.9" fill="#4A8CC6"/><circle cx="657.5" cy="579.8" r="2.9" fill="#F6A54A"/><circle cx="870.5" cy="813.9" r="2.9" fill="#4A8CC6"/><circle cx="924.4" cy="723.8" r="2.9" fill="#4A8CC6"/><circle cx="929.0" cy="700.0" r="2.9" fill="#7AB8E4"/><circle cx="733.1" cy="592.0" r="2.9" fill="#47A46E"/><circle cx="624.5" cy="709.5" r="2.9" fill="#F0642A"/><circle cx="661.2" cy="560.8" r="2.9" fill="#47A46E"/><circle cx="904.0" cy="767.0" r="2.9" fill="#7AB8E4"/><circle cx="784.0" cy="566.1" r="2.9" fill="#4A8CC6"/><circle cx="800.7" cy="559.5" r="2.9" fill="#7CC250"/><circle cx="788.6" cy="850.2" r="2.9" fill="#7AB8E4"/><circle cx="637.3" cy="706.0" r="2.9" fill="#F0642A"/><circle cx="697.1" cy="535.6" r="2.9" fill="#7CC250"/><circle cx="624.9" cy="709.8" r="2.9" fill="#F6A54A"/><circle cx="864.4" cy="535.5" r="2.9" fill="#47A46E"/><circle cx="830.3" cy="567.9" r="2.9" fill="#F0642A"/><circle cx="786.8" cy="601.9" r="2.9" fill="#7AB8E4"/><circle cx="649.2" cy="717.1" r="2.9" fill="#47A46E"/><circle cx="715.7" cy="606.1" r="2.9" fill="#8F1419"/><circle cx="650.4" cy="740.0" r="2.9" fill="#4A8CC6"/><circle cx="925.5" cy="793.7" r="2.9" fill="#B8E3F8"/><circle cx="746.5" cy="599.7" r="2.9" fill="#4A8CC6"/><circle cx="679.5" cy="586.1" r="2.9" fill="#DE3228"/><circle cx="653.1" cy="587.4" r="2.9" fill="#7CC250"/><circle cx="731.0" cy="594.7" r="2.9" fill="#F0642A"/><circle cx="863.2" cy="576.9" r="2.9" fill="#E6DF5A"/><circle cx="897.6" cy="643.0" r="2.9" fill="#7AB8E4"/><circle cx="635.2" cy="716.2" r="2.9" fill="#F6A54A"/><circle cx="940.5" cy="538.3" r="2.9" fill="#7AB8E4"/><circle cx="904.0" cy="751.5" r="2.9" fill="#7AB8E4"/><circle cx="745.4" cy="803.1" r="2.9" fill="#4A8CC6"/><circle cx="747.5" cy="819.1" r="2.9" fill="#B8E3F8"/><circle cx="665.7" cy="577.2" r="2.9" fill="#F6A54A"/><circle cx="628.2" cy="706.4" r="2.9" fill="#F6A54A"/><circle cx="643.2" cy="724.1" r="2.9" fill="#F6A54A"/><circle cx="783.6" cy="716.6" r="2.9" fill="#4A8CC6"/><circle cx="678.3" cy="567.5" r="2.9" fill="#F0642A"/><circle cx="742.0" cy="560.0" r="2.9" fill="#47A46E"/><circle cx="620.9" cy="723.4" r="2.9" fill="#E6DF5A"/><circle cx="695.3" cy="536.7" r="2.9" fill="#4A8CC6"/><circle cx="735.9" cy="580.1" r="2.9" fill="#4A8CC6"/><circle cx="749.6" cy="820.4" r="2.9" fill="#7AB8E4"/><circle cx="858.1" cy="567.2" r="2.9" fill="#E6DF5A"/><circle cx="676.2" cy="568.3" r="2.9" fill="#F0642A"/><circle cx="882.0" cy="763.0" r="2.9" fill="#4A8CC6"/><circle cx="623.5" cy="717.0" r="2.9" fill="#F6A54A"/><circle cx="732.0" cy="602.9" r="2.9" fill="#7CC250"/><circle cx="796.5" cy="538.0" r="2.9" fill="#4A8CC6"/><circle cx="818.0" cy="596.8" r="2.9" fill="#E6DF5A"/><circle cx="704.6" cy="535.6" r="2.9" fill="#4A8CC6"/><circle cx="667.3" cy="555.6" r="2.9" fill="#47A46E"/><circle cx="878.0" cy="712.4" r="2.9" fill="#7AB8E4"/><circle cx="758.0" cy="748.1" r="2.9" fill="#4A8CC6"/><circle cx="924.7" cy="569.8" r="2.9" fill="#7AB8E4"/><circle cx="918.8" cy="713.8" r="2.9" fill="#4A8CC6"/><circle cx="891.5" cy="562.4" r="2.9" fill="#B8E3F8"/><circle cx="750.5" cy="571.4" r="2.9" fill="#7AB8E4"/><circle cx="743.7" cy="775.3" r="2.9" fill="#B8E3F8"/><circle cx="873.7" cy="704.9" r="2.9" fill="#7AB8E4"/><circle cx="816.4" cy="584.4" r="2.9" fill="#E6DF5A"/><circle cx="637.3" cy="723.5" r="2.9" fill="#F0642A"/><circle cx="904.8" cy="551.6" r="2.9" fill="#7AB8E4"/><circle cx="931.8" cy="683.0" r="2.9" fill="#7AB8E4"/><circle cx="894.2" cy="692.3" r="2.9" fill="#7AB8E4"/><circle cx="857.9" cy="574.3" r="2.9" fill="#E6DF5A"/><circle cx="754.4" cy="682.7" r="2.9" fill="#B8E3F8"/><circle cx="814.0" cy="585.0" r="2.9" fill="#E6DF5A"/><circle cx="902.2" cy="779.7" r="2.9" fill="#7AB8E4"/><circle cx="897.6" cy="718.1" r="2.9" fill="#B8E3F8"/><circle cx="638.5" cy="708.5" r="2.9" fill="#F6A54A"/><circle cx="655.3" cy="566.2" r="2.9" fill="#E6DF5A"/><circle cx="794.4" cy="589.5" r="2.9" fill="#4A8CC6"/><circle cx="710.6" cy="578.5" r="2.9" fill="#47A46E"/><circle cx="832.0" cy="578.5" r="2.9" fill="#F6A54A"/><circle cx="899.6" cy="671.8" r="2.9" fill="#B8E3F8"/><circle cx="697.6" cy="573.8" r="2.9" fill="#F6A54A"/><circle cx="849.9" cy="577.4" r="2.9" fill="#F0642A"/><circle cx="847.2" cy="558.8" r="2.9" fill="#F6A54A"/><circle cx="918.6" cy="725.5" r="2.9" fill="#47A46E"/><circle cx="849.8" cy="571.1" r="2.9" fill="#F0642A"/><circle cx="867.0" cy="575.9" r="2.9" fill="#E6DF5A"/><circle cx="670.6" cy="566.1" r="2.9" fill="#7CC250"/><circle cx="646.3" cy="734.8" r="2.9" fill="#7CC250"/><circle cx="714.9" cy="602.1" r="2.9" fill="#DE3228"/><circle cx="905.4" cy="683.5" r="2.9" fill="#7AB8E4"/><circle cx="625.1" cy="711.1" r="2.9" fill="#E6DF5A"/><circle cx="940.1" cy="680.1" r="2.9" fill="#7AB8E4"/><circle cx="846.8" cy="560.6" r="2.9" fill="#F6A54A"/><circle cx="720.7" cy="586.6" r="2.9" fill="#F6A54A"/><circle cx="858.7" cy="573.2" r="2.9" fill="#E6DF5A"/><circle cx="832.6" cy="560.8" r="2.9" fill="#F0642A"/><circle cx="827.4" cy="582.7" r="2.9" fill="#F6A54A"/><circle cx="781.7" cy="752.7" r="2.9" fill="#47A46E"/><circle cx="719.4" cy="594.1" r="2.9" fill="#BA1B25"/><circle cx="878.6" cy="644.9" r="2.9" fill="#B8E3F8"/><circle cx="812.0" cy="598.6" r="2.9" fill="#7CC250"/><circle cx="827.1" cy="593.4" r="2.9" fill="#E6DF5A"/><circle cx="708.3" cy="565.5" r="2.9" fill="#47A46E"/><circle cx="748.1" cy="812.8" r="2.9" fill="#4A8CC6"/><circle cx="665.0" cy="599.6" r="2.9" fill="#7CC250"/><circle cx="890.8" cy="810.4" r="2.9" fill="#B8E3F8"/><circle cx="698.1" cy="559.4" r="2.9" fill="#E6DF5A"/><circle cx="874.0" cy="695.4" r="2.9" fill="#7AB8E4"/><circle cx="800.9" cy="580.1" r="2.9" fill="#E6DF5A"/><circle cx="941.0" cy="730.0" r="2.9" fill="#4A8CC6"/><circle cx="915.3" cy="727.2" r="2.9" fill="#47A46E"/><circle cx="682.5" cy="586.4" r="2.9" fill="#8F1419"/><circle cx="643.5" cy="693.3" r="2.9" fill="#7CC250"/><circle cx="802.7" cy="585.4" r="2.9" fill="#E6DF5A"/><circle cx="734.2" cy="610.1" r="2.9" fill="#7CC250"/><circle cx="882.0" cy="770.0" r="2.9" fill="#7AB8E4"/><circle cx="737.2" cy="577.2" r="2.9" fill="#4A8CC6"/><circle cx="755.6" cy="766.4" r="2.9" fill="#7AB8E4"/><circle cx="691.2" cy="596.1" r="2.9" fill="#F0642A"/><circle cx="695.3" cy="558.1" r="2.9" fill="#4A8CC6"/><circle cx="772.7" cy="712.0" r="2.9" fill="#F6A54A"/><circle cx="749.8" cy="653.7" r="2.9" fill="#B8E3F8"/><circle cx="753.0" cy="830.8" r="2.9" fill="#7AB8E4"/><circle cx="941.5" cy="677.1" r="2.9" fill="#7AB8E4"/><circle cx="680.8" cy="589.9" r="2.9" fill="#DE3228"/><circle cx="674.5" cy="603.2" r="2.9" fill="#7CC250"/><circle cx="898.7" cy="809.1" r="2.9" fill="#7AB8E4"/><circle cx="700.2" cy="568.5" r="2.9" fill="#F0642A"/><circle cx="895.3" cy="705.7" r="2.9" fill="#7AB8E4"/><circle cx="828.0" cy="593.8" r="2.9" fill="#F0642A"/><circle cx="744.7" cy="743.7" r="2.9" fill="#B8E3F8"/><circle cx="866.4" cy="568.6" r="2.9" fill="#F0642A"/><circle cx="651.8" cy="630.4" r="2.9" fill="#4A8CC6"/><circle cx="787.6" cy="603.4" r="2.9" fill="#4A8CC6"/><circle cx="913.2" cy="740.2" r="2.9" fill="#47A46E"/><circle cx="766.4" cy="727.0" r="2.9" fill="#E6DF5A"/><circle cx="730.2" cy="573.3" r="2.9" fill="#47A46E"/><circle cx="889.9" cy="770.9" r="2.9" fill="#7AB8E4"/><circle cx="763.2" cy="758.7" r="2.9" fill="#7AB8E4"/><circle cx="888.0" cy="760.0" r="2.9" fill="#7AB8E4"/><circle cx="882.4" cy="825.4" r="2.9" fill="#7AB8E4"/><circle cx="619.6" cy="734.6" r="2.9" fill="#E6DF5A"/><circle cx="888.0" cy="765.0" r="2.9" fill="#7AB8E4"/><circle cx="754.9" cy="737.8" r="2.9" fill="#4A8CC6"/><circle cx="737.0" cy="586.4" r="2.9" fill="#47A46E"/><circle cx="847.3" cy="583.7" r="2.9" fill="#DE3228"/><circle cx="803.1" cy="593.1" r="2.9" fill="#E6DF5A"/><circle cx="940.6" cy="618.6" r="2.9" fill="#7AB8E4"/><circle cx="881.0" cy="680.6" r="2.9" fill="#7AB8E4"/><circle cx="890.8" cy="683.0" r="2.9" fill="#7AB8E4"/><circle cx="873.7" cy="694.7" r="2.9" fill="#7AB8E4"/><circle cx="646.9" cy="716.6" r="2.9" fill="#4A8CC6"/><circle cx="723.7" cy="590.9" r="2.9" fill="#E6DF5A"/><circle cx="631.8" cy="704.8" r="2.9" fill="#F6A54A"/><circle cx="630.3" cy="719.1" r="2.9" fill="#F0642A"/><circle cx="908.3" cy="781.0" r="2.9" fill="#7AB8E4"/><circle cx="684.0" cy="598.1" r="2.9" fill="#DE3228"/><circle cx="812.4" cy="581.5" r="2.9" fill="#E6DF5A"/><circle cx="817.6" cy="582.8" r="2.9" fill="#E6DF5A"/><circle cx="648.6" cy="702.8" r="2.9" fill="#7CC250"/><circle cx="880.0" cy="661.5" r="2.9" fill="#B8E3F8"/><circle cx="650.4" cy="771.7" r="2.9" fill="#7AB8E4"/><circle cx="672.3" cy="582.6" r="2.9" fill="#F6A54A"/>
</g>
<line x1="613.80" y1="532.50" x2="942.20" y2="532.50" stroke="#000" stroke-width="1.25"/>
<line x1="613.80" y1="860.20" x2="942.20" y2="860.20" stroke="#000" stroke-width="1.4"/>
<line x1="614.40" y1="532.50" x2="614.40" y2="860.20" stroke="#000" stroke-width="1.1"/>
<line x1="942.20" y1="524.10" x2="942.20" y2="868.60" stroke="#6a6a6a" stroke-width="1.1"/>
<line x1="614.40" y1="524.10" x2="614.40" y2="532.50" stroke="#000" stroke-width="1.1"/>
<line x1="614.40" y1="860.20" x2="614.40" y2="868.60" stroke="#000" stroke-width="1.1"/>
<text transform="translate(614.40 890.10) scale(1 1.06)" font-size="14.8" text-anchor="middle">10/10</text>
<line x1="661.23" y1="524.10" x2="661.23" y2="532.50" stroke="#000" stroke-width="1.1"/>
<line x1="661.23" y1="860.20" x2="661.23" y2="868.60" stroke="#000" stroke-width="1.1"/>
<text transform="translate(661.23 890.10) scale(1 1.06)" font-size="14.8" text-anchor="middle">11/10</text>
<line x1="708.06" y1="524.10" x2="708.06" y2="532.50" stroke="#000" stroke-width="1.1"/>
<line x1="708.06" y1="860.20" x2="708.06" y2="868.60" stroke="#000" stroke-width="1.1"/>
<text transform="translate(708.06 890.10) scale(1 1.06)" font-size="14.8" text-anchor="middle">12/10</text>
<line x1="754.89" y1="524.10" x2="754.89" y2="532.50" stroke="#000" stroke-width="1.1"/>
<line x1="754.89" y1="860.20" x2="754.89" y2="868.60" stroke="#000" stroke-width="1.1"/>
<text transform="translate(754.89 890.10) scale(1 1.06)" font-size="14.8" text-anchor="middle">13/10</text>
<line x1="801.71" y1="524.10" x2="801.71" y2="532.50" stroke="#000" stroke-width="1.1"/>
<line x1="801.71" y1="860.20" x2="801.71" y2="868.60" stroke="#000" stroke-width="1.1"/>
<text transform="translate(801.71 890.10) scale(1 1.06)" font-size="14.8" text-anchor="middle">14/10</text>
<line x1="848.54" y1="524.10" x2="848.54" y2="532.50" stroke="#000" stroke-width="1.1"/>
<line x1="848.54" y1="860.20" x2="848.54" y2="868.60" stroke="#000" stroke-width="1.1"/>
<text transform="translate(848.54 890.10) scale(1 1.06)" font-size="14.8" text-anchor="middle">15/10</text>
<line x1="895.37" y1="524.10" x2="895.37" y2="532.50" stroke="#000" stroke-width="1.1"/>
<line x1="895.37" y1="860.20" x2="895.37" y2="868.60" stroke="#000" stroke-width="1.1"/>
<text transform="translate(895.37 890.10) scale(1 1.06)" font-size="14.8" text-anchor="middle">16/10</text>
<text transform="translate(942.20 890.10) scale(1 1.06)" font-size="14.8" text-anchor="middle">17/10</text>
<text transform="translate(778.60 918.60) scale(1 1.02)" font-size="21.2" text-anchor="middle">Time (Day/UTC)</text>
<text transform="translate(29.20 937.80)" font-size="16.9" text-anchor="start">Location: Voorheesville</text>
<text transform="translate(29.20 957.75)" font-size="16.9" text-anchor="start">Station elevation: 115.062 m</text>
<text transform="translate(29.20 977.70)" font-size="16.9" text-anchor="start">Station lat/lon: 42.6524; -73.9756</text>
<text transform="translate(29.20 997.65)" font-size="16.9" text-anchor="start">Figure created on Wed, 2025-12-17, at 10:41 UTC</text>
<text transform="translate(29.20 1017.60)" font-size="16.9" text-anchor="start">Most recent data timestamp: 2025/12/17 10:15:00</text>
<text transform="translate(973.40 952.50) scale(1 1.04)" font-size="19.7" text-anchor="end">Extremes For Past 7 Days</text>
<text transform="translate(973.60 977.60) scale(1 1.04)" font-size="19.86" text-anchor="end">(High/Low/Max Wind/Total Precipitation)</text>
<text transform="translate(973.00 1005.00) scale(1 1.04)" font-size="19.7" text-anchor="end" font-weight="bold" fill="#C4202E">36.1/9.1/21.5/0.13</text>
</svg>
</body></html>
